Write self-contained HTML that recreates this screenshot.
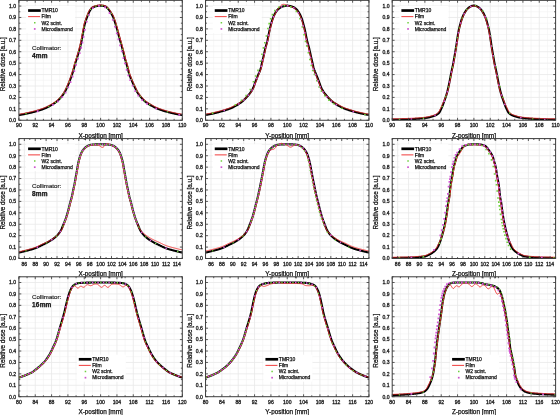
<!DOCTYPE html>
<html><head><meta charset="utf-8"><style>
html,body{margin:0;padding:0;background:#fff;}
body{width:560px;height:415px;overflow:hidden;}
svg{display:block;font-family:"Liberation Sans", sans-serif;filter:blur(0.3px);}
</style></head><body>
<svg width="560" height="415" viewBox="0 0 560 415">
<rect width="560" height="415" fill="#fff"/>
<defs><clipPath id="k00"><rect x="18.9" y="0.34" width="163.4" height="119.91"/></clipPath><clipPath id="k01"><rect x="205.55" y="0.34" width="163.4" height="119.91"/></clipPath><clipPath id="k02"><rect x="392.2" y="0.34" width="163.4" height="119.91"/></clipPath><clipPath id="k10"><rect x="18.9" y="138.59" width="163.4" height="119.91"/></clipPath><clipPath id="k11"><rect x="205.55" y="138.59" width="163.4" height="119.91"/></clipPath><clipPath id="k12"><rect x="392.2" y="138.59" width="163.4" height="119.91"/></clipPath><clipPath id="k20"><rect x="18.9" y="276.79" width="163.4" height="119.91"/></clipPath><clipPath id="k21"><rect x="205.55" y="276.79" width="163.4" height="119.91"/></clipPath><clipPath id="k22"><rect x="392.2" y="276.79" width="163.4" height="119.91"/></clipPath></defs>
<path d="M27.07 0.34V120.25M43.41 0.34V120.25M59.75 0.34V120.25M76.09 0.34V120.25M92.43 0.34V120.25M108.77 0.34V120.25M125.11 0.34V120.25M141.45 0.34V120.25M157.79 0.34V120.25M174.13 0.34V120.25M18.9 114.54H182.3M18.9 103.12H182.3M18.9 91.7H182.3M18.9 80.28H182.3M18.9 68.86H182.3M18.9 57.44H182.3M18.9 46.02H182.3M18.9 34.6H182.3M18.9 23.18H182.3M18.9 11.76H182.3" stroke="#f2f2f2" stroke-width="0.6" fill="none"/><path d="M35.24 0.34V120.25M51.58 0.34V120.25M67.92 0.34V120.25M84.26 0.34V120.25M100.6 0.34V120.25M116.94 0.34V120.25M133.28 0.34V120.25M149.62 0.34V120.25M165.96 0.34V120.25M18.9 108.83H182.3M18.9 97.41H182.3M18.9 85.99H182.3M18.9 74.57H182.3M18.9 63.15H182.3M18.9 51.73H182.3M18.9 40.31H182.3M18.9 28.89H182.3M18.9 17.47H182.3M18.9 6.05H182.3" stroke="#e8e8e8" stroke-width="0.8" fill="none"/>
<g clip-path="url(#k00)">
<polyline points="18.9,115 19.31,114.95 19.72,114.9 20.13,114.84 20.54,114.78 20.95,114.72 21.36,114.65 21.77,114.58 22.18,114.51 22.59,114.44 23,114.36 23.4,114.29 23.81,114.21 24.22,114.12 24.63,114.04 25.04,113.96 25.45,113.87 25.86,113.78 26.27,113.7 26.68,113.61 27.09,113.52 27.5,113.43 27.91,113.34 28.32,113.25 28.73,113.16 29.14,113.07 29.55,112.98 29.96,112.89 30.37,112.8 30.78,112.7 31.19,112.61 31.6,112.51 32,112.41 32.41,112.31 32.82,112.2 33.23,112.1 33.64,111.99 34.05,111.89 34.46,111.78 34.87,111.67 35.28,111.56 35.69,111.44 36.1,111.33 36.51,111.21 36.92,111.09 37.33,110.98 37.74,110.85 38.15,110.73 38.56,110.61 38.97,110.48 39.38,110.36 39.79,110.23 40.2,110.1 40.6,109.96 41.01,109.83 41.42,109.69 41.83,109.55 42.24,109.4 42.65,109.25 43.06,109.1 43.47,108.95 43.88,108.79 44.29,108.63 44.7,108.47 45.11,108.3 45.52,108.13 45.93,107.95 46.34,107.76 46.75,107.57 47.16,107.37 47.57,107.17 47.98,106.96 48.39,106.75 48.8,106.53 49.2,106.31 49.61,106.08 50.02,105.85 50.43,105.62 50.84,105.39 51.25,105.15 51.66,104.91 52.07,104.66 52.48,104.42 52.89,104.16 53.3,103.91 53.71,103.65 54.12,103.38 54.53,103.1 54.94,102.82 55.35,102.53 55.76,102.22 56.17,101.91 56.58,101.59 56.99,101.26 57.4,100.92 57.8,100.55 58.21,100.18 58.62,99.79 59.03,99.38 59.44,98.96 59.85,98.52 60.26,98.08 60.67,97.61 61.08,97.14 61.49,96.64 61.9,96.13 62.31,95.59 62.72,95.03 63.13,94.45 63.54,93.84 63.95,93.21 64.36,92.55 64.77,91.87 65.18,91.15 65.59,90.39 66,89.59 66.4,88.75 66.81,87.88 67.22,86.98 67.63,86.07 68.04,85.14 68.45,84.17 68.86,83.17 69.27,82.14 69.68,81.08 70.09,79.99 70.5,78.88 70.91,77.75 71.32,76.59 71.73,75.4 72.14,74.18 72.55,72.93 72.96,71.62 73.37,70.28 73.78,68.82 74.19,67.28 74.6,65.72 75,64.2 75.41,62.79 75.82,61.48 76.23,60.22 76.64,58.97 77.05,57.71 77.46,56.39 77.87,55.06 78.28,53.72 78.69,52.34 79.1,50.91 79.51,49.41 79.92,47.84 80.33,46.2 80.74,44.48 81.15,42.66 81.56,40.7 81.97,38.58 82.38,36.38 82.79,34.18 83.2,31.95 83.6,29.74 84.01,27.65 84.42,25.63 84.83,23.86 85.24,22.39 85.65,21.07 86.06,19.86 86.47,18.71 86.88,17.57 87.29,16.45 87.7,15.37 88.11,14.33 88.52,13.37 88.93,12.48 89.34,11.64 89.75,10.87 90.16,10.17 90.57,9.56 90.98,8.99 91.39,8.48 91.8,8.06 92.2,7.75 92.61,7.5 93.02,7.29 93.43,7.11 93.84,6.94 94.25,6.77 94.66,6.61 95.07,6.47 95.48,6.33 95.89,6.22 96.3,6.12 96.71,6.04 97.12,5.97 97.53,5.9 97.94,5.85 98.35,5.8 98.76,5.75 99.17,5.71 99.58,5.67 99.99,5.63 100.4,5.6 100.8,5.6 101.21,5.62 101.62,5.65 102.03,5.69 102.44,5.74 102.85,5.8 103.26,5.88 103.67,5.96 104.08,6.07 104.49,6.19 104.9,6.32 105.31,6.46 105.72,6.65 106.13,6.9 106.54,7.23 106.95,7.6 107.36,8.02 107.77,8.46 108.18,8.91 108.59,9.37 109,9.9 109.4,10.48 109.81,11.09 110.22,11.73 110.63,12.39 111.04,13.05 111.45,13.72 111.86,14.41 112.27,15.15 112.68,15.95 113.09,16.83 113.5,17.85 113.91,18.98 114.32,20.2 114.73,21.43 115.14,22.68 115.55,23.97 115.96,25.3 116.37,26.68 116.78,28.09 117.19,29.55 117.6,31.07 118,32.61 118.41,34.16 118.82,35.7 119.23,37.2 119.64,38.68 120.05,40.15 120.46,41.61 120.87,43.08 121.28,44.54 121.69,46.01 122.1,47.47 122.51,48.93 122.92,50.41 123.33,51.94 123.74,53.55 124.15,55.26 124.56,56.98 124.97,58.64 125.38,60.17 125.79,61.58 126.2,62.93 126.6,64.27 127.01,65.63 127.42,67.09 127.83,68.68 128.24,70.35 128.65,71.97 129.06,73.45 129.47,74.73 129.88,75.89 130.29,76.98 130.7,78.01 131.11,79 131.52,79.98 131.93,80.95 132.34,81.89 132.75,82.81 133.16,83.7 133.57,84.58 133.98,85.45 134.39,86.31 134.8,87.17 135.2,88.04 135.61,88.91 136.02,89.76 136.43,90.58 136.84,91.36 137.25,92.08 137.66,92.75 138.07,93.38 138.48,93.98 138.89,94.56 139.3,95.11 139.71,95.64 140.12,96.15 140.53,96.65 140.94,97.14 141.35,97.61 141.76,98.08 142.17,98.53 142.58,98.98 142.99,99.41 143.4,99.82 143.8,100.22 144.21,100.61 144.62,100.98 145.03,101.33 145.44,101.66 145.85,101.99 146.26,102.3 146.67,102.6 147.08,102.9 147.49,103.18 147.9,103.46 148.31,103.73 148.72,103.99 149.13,104.25 149.54,104.51 149.95,104.76 150.36,105 150.77,105.24 151.18,105.48 151.59,105.72 152,105.95 152.4,106.18 152.81,106.41 153.22,106.63 153.63,106.85 154.04,107.06 154.45,107.27 154.86,107.48 155.27,107.67 155.68,107.87 156.09,108.05 156.5,108.23 156.91,108.41 157.32,108.58 157.73,108.74 158.14,108.91 158.55,109.07 158.96,109.22 159.37,109.38 159.78,109.53 160.19,109.67 160.6,109.82 161,109.96 161.41,110.1 161.82,110.23 162.23,110.37 162.64,110.5 163.05,110.63 163.46,110.76 163.87,110.88 164.28,111.01 164.69,111.13 165.1,111.25 165.51,111.37 165.92,111.49 166.33,111.61 166.74,111.72 167.15,111.84 167.56,111.95 167.97,112.06 168.38,112.17 168.79,112.28 169.2,112.38 169.6,112.49 170.01,112.59 170.42,112.69 170.83,112.79 171.24,112.89 171.65,112.98 172.06,113.07 172.47,113.16 172.88,113.25 173.29,113.34 173.7,113.43 174.11,113.52 174.52,113.61 174.93,113.7 175.34,113.79 175.75,113.88 176.16,113.96 176.57,114.05 176.98,114.13 177.39,114.21 177.8,114.29 178.2,114.37 178.61,114.44 179.02,114.52 179.43,114.59 179.84,114.65 180.25,114.72 180.66,114.78 181.07,114.84 181.48,114.9 181.89,114.95 182.3,115" fill="none" stroke="#000" stroke-width="2.1" stroke-linejoin="round"/>
<polyline points="18.81,114.2 19.21,114.15 19.61,114.1 20.02,114.05 20.42,113.99 20.82,113.93 21.23,113.86 21.63,113.8 22.04,113.72 22.44,113.65 22.85,113.58 23.25,113.5 23.66,113.42 24.07,113.34 24.47,113.26 24.88,113.17 25.29,113.09 25.7,113 26.1,112.91 26.51,112.83 26.92,112.74 27.33,112.65 27.74,112.56 28.15,112.47 28.56,112.38 28.97,112.29 29.37,112.2 29.78,112.11 30.19,112.02 30.59,111.92 31,111.83 31.41,111.73 31.81,111.63 32.22,111.53 32.63,111.43 33.03,111.32 33.44,111.22 33.85,111.11 34.26,111 34.66,110.89 35.07,110.78 35.48,110.67 35.88,110.56 36.29,110.44 36.7,110.33 37.1,110.21 37.51,110.09 37.92,109.97 38.32,109.84 38.73,109.72 39.14,109.59 39.54,109.47 39.95,109.33 40.35,109.2 40.76,109.07 41.16,108.93 41.57,108.79 41.97,108.65 42.38,108.5 42.78,108.35 43.19,108.2 43.59,108.05 44,107.89 44.4,107.73 44.8,107.56 45.2,107.39 45.6,107.22 46,107.03 46.4,106.85 46.81,106.65 47.21,106.45 47.61,106.25 48.01,106.04 48.42,105.82 48.82,105.61 49.23,105.39 49.64,105.16 50.04,104.94 50.45,104.71 50.86,104.47 51.27,104.24 51.67,104 52.08,103.76 52.49,103.51 52.89,103.26 53.3,103.01 53.7,102.75 54.1,102.48 54.51,102.2 54.91,101.92 55.31,101.63 55.72,101.33 56.12,101.02 56.52,100.7 56.92,100.37 57.32,100.02 57.73,99.66 58.13,99.28 58.53,98.88 58.94,98.48 59.34,98.05 59.75,97.62 60.16,97.17 60.57,96.7 60.97,96.22 61.38,95.72 61.79,95.2 62.19,94.66 62.6,94.09 63.01,93.49 63.42,92.88 63.84,92.23 64.25,91.57 64.65,90.86 65.05,90.11 65.46,89.32 65.86,88.49 66.27,87.62 66.68,86.74 67.08,85.83 67.49,84.9 67.9,83.94 68.31,82.95 68.71,81.92 69.12,80.87 69.53,79.78 69.94,78.67 70.34,77.54 70.75,76.39 71.16,75.21 71.57,74 71.98,72.74 72.38,71.45 72.79,70.11 73.2,68.66 73.61,67.13 74.02,65.56 74.43,64.04 74.84,62.62 75.25,61.3 75.66,60.03 76.07,58.79 76.48,57.53 76.89,56.22 77.3,54.89 77.71,53.55 78.11,52.18 78.52,50.75 78.93,49.26 79.34,47.7 79.75,46.06 80.15,44.35 80.56,42.54 80.97,40.59 81.38,38.47 81.79,36.27 82.2,34.08 82.61,31.84 83.02,29.63 83.43,27.53 83.84,25.5 84.25,23.71 84.67,22.22 85.08,20.89 85.49,19.66 85.91,18.51 86.32,17.36 86.73,16.24 87.14,15.15 87.55,14.11 87.97,13.12 88.39,12.22 88.8,11.37 89.22,10.57 89.65,9.85 90.07,9.22 90.5,8.63 90.93,8.09 91.4,7.61 91.87,7.25 92.32,6.98 92.76,6.75 93.2,6.56 93.62,6.38 94.03,6.22 94.45,6.05 94.88,5.9 95.31,5.76 95.74,5.63 96.17,5.54 96.6,5.45 97.02,5.38 97.44,5.31 97.86,5.25 98.28,5.2 98.69,5.15 99.11,5.11 99.52,5.07 99.94,5.03 100.37,5.01 100.82,5 101.25,5.02 101.68,5.06 102.1,5.1 102.52,5.15 102.95,5.21 103.38,5.29 103.81,5.38 104.24,5.49 104.67,5.61 105.09,5.75 105.53,5.91 106,6.12 106.48,6.41 106.93,6.77 107.36,7.17 107.79,7.6 108.21,8.05 108.62,8.51 109.05,8.99 109.48,9.54 109.9,10.14 110.32,10.76 110.73,11.41 111.14,12.07 111.55,12.73 111.97,13.41 112.38,14.11 112.8,14.87 113.22,15.69 113.64,16.59 114.06,17.63 114.48,18.79 114.89,20.01 115.3,21.24 115.71,22.49 116.12,23.79 116.53,25.13 116.94,26.51 117.35,27.92 117.76,29.4 118.17,30.91 118.58,32.46 118.99,34.01 119.4,35.54 119.81,37.04 120.22,38.52 120.63,39.99 121.04,41.45 121.45,42.91 121.86,44.38 122.27,45.85 122.68,47.31 123.09,48.77 123.5,50.25 123.91,51.78 124.32,53.41 124.73,55.12 125.14,56.84 125.55,58.49 125.95,60.01 126.36,61.41 126.77,62.76 127.18,64.09 127.59,65.47 128,66.93 128.42,68.53 128.83,70.2 129.23,71.82 129.64,73.28 130.04,74.53 130.44,75.68 130.85,76.76 131.26,77.78 131.66,78.77 132.07,79.74 132.48,80.71 132.89,81.65 133.29,82.56 133.7,83.45 134.11,84.33 134.52,85.19 134.93,86.05 135.34,86.91 135.75,87.79 136.16,88.65 136.56,89.5 136.97,90.31 137.37,91.08 137.77,91.78 138.18,92.42 138.59,93.03 139,93.62 139.41,94.18 139.82,94.72 140.22,95.24 140.63,95.74 141.04,96.23 141.45,96.7 141.86,97.17 142.27,97.62 142.68,98.07 143.09,98.5 143.49,98.92 143.9,99.32 144.3,99.71 144.7,100.08 145.1,100.43 145.5,100.77 145.9,101.09 146.31,101.4 146.71,101.71 147.11,102 147.51,102.28 147.92,102.56 148.32,102.83 148.73,103.09 149.13,103.35 149.54,103.6 149.94,103.85 150.35,104.09 150.76,104.33 151.16,104.57 151.57,104.8 151.98,105.04 152.39,105.27 152.79,105.49 153.2,105.71 153.6,105.93 154.01,106.14 154.41,106.35 154.81,106.56 155.21,106.76 155.62,106.95 156.02,107.14 156.42,107.32 156.82,107.5 157.22,107.67 157.62,107.84 158.03,108 158.43,108.16 158.84,108.32 159.24,108.47 159.64,108.62 160.05,108.77 160.45,108.92 160.86,109.06 161.26,109.2 161.67,109.34 162.07,109.47 162.48,109.61 162.89,109.74 163.29,109.87 163.7,109.99 164.11,110.12 164.51,110.24 164.92,110.36 165.33,110.49 165.73,110.6 166.14,110.72 166.55,110.84 166.95,110.95 167.36,111.07 167.77,111.18 168.17,111.29 168.58,111.4 168.99,111.5 169.39,111.61 169.8,111.71 170.21,111.81 170.61,111.91 171.02,112.01 171.43,112.11 171.83,112.2 172.24,112.29 172.64,112.38 173.05,112.47 173.46,112.56 173.87,112.65 174.28,112.74 174.69,112.83 175.1,112.92 175.5,113.01 175.91,113.09 176.32,113.18 176.73,113.26 177.13,113.34 177.54,113.43 177.95,113.5 178.35,113.58 178.76,113.66 179.16,113.73 179.57,113.8 179.97,113.86 180.38,113.93 180.78,113.99 181.18,114.05 181.59,114.1 181.99,114.15 182.39,114.2" fill="none" stroke="#ee2a2a" stroke-width="0.9" stroke-linejoin="round"/>
<path d="M25.34 113.11h1.3v1.3h-1.3zM48.14 105.88h1.3v1.3h-1.3zM54.93 101.71h1.3v1.3h-1.3zM59.57 97.47h1.3v1.3h-1.3zM63.37 92.45h1.3v1.3h-1.3zM66.32 86.89h1.3v1.3h-1.3zM68.78 81.09h1.3v1.3h-1.3zM70.94 75.17h1.3v1.3h-1.3zM72.85 69.17h1.3v1.3h-1.3zM74.49 63.09h1.3v1.3h-1.3zM76.39 57.08h1.3v1.3h-1.3zM78.23 51.06h1.3v1.3h-1.3zM79.82 44.96h1.3v1.3h-1.3zM81.15 38.81h1.3v1.3h-1.3zM82.31 32.61h1.3v1.3h-1.3zM83.48 26.42h1.3v1.3h-1.3zM85.04 20.32h1.3v1.3h-1.3zM87.17 14.4h1.3v1.3h-1.3zM90 8.79h1.3v1.3h-1.3zM95.23 5.57h1.3v1.3h-1.3zM101.48 5.05h1.3v1.3h-1.3zM107 7.68h1.3v1.3h-1.3zM110.64 12.8h1.3v1.3h-1.3zM113.31 18.49h1.3v1.3h-1.3zM115.26 24.48h1.3v1.3h-1.3zM116.98 30.54h1.3v1.3h-1.3zM118.6 36.63h1.3v1.3h-1.3zM120.3 42.7h1.3v1.3h-1.3zM121.99 48.76h1.3v1.3h-1.3zM123.56 54.87h1.3v1.3h-1.3zM125.15 60.96h1.3v1.3h-1.3zM126.92 67.01h1.3v1.3h-1.3zM128.5 73.1h1.3v1.3h-1.3zM130.73 78.99h1.3v1.3h-1.3zM133.3 84.75h1.3v1.3h-1.3zM136.04 90.42h1.3v1.3h-1.3zM139.57 95.63h1.3v1.3h-1.3zM143.86 100.23h1.3v1.3h-1.3zM148.97 103.9h1.3v1.3h-1.3zM166.89 111.3h1.3v1.3h-1.3z" fill="#6fd13a"/>
<path d="M36.74 110.34h1.8v1.8h-1.8zM52.07 103.96h1.8v1.8h-1.8zM57.11 100.52h1.8v1.8h-1.8zM61.33 96.32h1.8v1.8h-1.8zM64.69 91.64h1.8v1.8h-1.8zM67.35 86.53h1.8v1.8h-1.8zM69.63 81.15h1.8v1.8h-1.8zM71.68 75.6h1.8v1.8h-1.8zM73.42 70.29h1.8v1.8h-1.8zM75.17 63.9h1.8v1.8h-1.8zM77.08 57.75h1.8v1.8h-1.8zM78.81 52.15h1.8v1.8h-1.8zM80.27 46.83h1.8v1.8h-1.8zM81.48 41.73h1.8v1.8h-1.8zM82.62 35.89h1.8v1.8h-1.8zM83.9 29.01h1.8v1.8h-1.8zM85.83 20.65h1.8v1.8h-1.8zM88.18 14.07h1.8v1.8h-1.8zM92.04 7.24h1.8v1.8h-1.8zM98.09 4.97h1.8v1.8h-1.8zM104.29 6.36h1.8v1.8h-1.8zM108.71 12.08h1.8v1.8h-1.8zM111.91 18.92h1.8v1.8h-1.8zM114.06 25.71h1.8v1.8h-1.8zM115.9 32.39h1.8v1.8h-1.8zM117.53 38.43h1.8v1.8h-1.8zM119.2 44.38h1.8v1.8h-1.8zM120.89 50.48h1.8v1.8h-1.8zM122.56 57.29h1.8v1.8h-1.8zM124.05 62.5h1.8v1.8h-1.8zM125.81 68.88h1.8v1.8h-1.8zM127.43 74.55h1.8v1.8h-1.8zM129.29 79.23h1.8v1.8h-1.8zM131.73 84.63h1.8v1.8h-1.8zM134.4 90.17h1.8v1.8h-1.8zM137.43 94.75h1.8v1.8h-1.8zM141.38 99.19h1.8v1.8h-1.8zM146.08 102.87h1.8v1.8h-1.8zM155.29 107.78h1.8v1.8h-1.8zM178.35 113.88h1.8v1.8h-1.8z" fill="#d455d4"/>
</g>
<path d="M18.9 120.25v-2.4M18.9 0.34v2.4M27.07 120.25v-1.4M27.07 0.34v1.4M35.24 120.25v-2.4M35.24 0.34v2.4M43.41 120.25v-1.4M43.41 0.34v1.4M51.58 120.25v-2.4M51.58 0.34v2.4M59.75 120.25v-1.4M59.75 0.34v1.4M67.92 120.25v-2.4M67.92 0.34v2.4M76.09 120.25v-1.4M76.09 0.34v1.4M84.26 120.25v-2.4M84.26 0.34v2.4M92.43 120.25v-1.4M92.43 0.34v1.4M100.6 120.25v-2.4M100.6 0.34v2.4M108.77 120.25v-1.4M108.77 0.34v1.4M116.94 120.25v-2.4M116.94 0.34v2.4M125.11 120.25v-1.4M125.11 0.34v1.4M133.28 120.25v-2.4M133.28 0.34v2.4M141.45 120.25v-1.4M141.45 0.34v1.4M149.62 120.25v-2.4M149.62 0.34v2.4M157.79 120.25v-1.4M157.79 0.34v1.4M165.96 120.25v-2.4M165.96 0.34v2.4M174.13 120.25v-1.4M174.13 0.34v1.4M182.3 120.25v-2.4M182.3 0.34v2.4M18.9 120.25h2.4M182.3 120.25h-2.4M18.9 114.54h1.4M182.3 114.54h-1.4M18.9 108.83h2.4M182.3 108.83h-2.4M18.9 103.12h1.4M182.3 103.12h-1.4M18.9 97.41h2.4M182.3 97.41h-2.4M18.9 91.7h1.4M182.3 91.7h-1.4M18.9 85.99h2.4M182.3 85.99h-2.4M18.9 80.28h1.4M182.3 80.28h-1.4M18.9 74.57h2.4M182.3 74.57h-2.4M18.9 68.86h1.4M182.3 68.86h-1.4M18.9 63.15h2.4M182.3 63.15h-2.4M18.9 57.44h1.4M182.3 57.44h-1.4M18.9 51.73h2.4M182.3 51.73h-2.4M18.9 46.02h1.4M182.3 46.02h-1.4M18.9 40.31h2.4M182.3 40.31h-2.4M18.9 34.6h1.4M182.3 34.6h-1.4M18.9 28.89h2.4M182.3 28.89h-2.4M18.9 23.18h1.4M182.3 23.18h-1.4M18.9 17.47h2.4M182.3 17.47h-2.4M18.9 11.76h1.4M182.3 11.76h-1.4M18.9 6.05h2.4M182.3 6.05h-2.4M18.9 0.34h1.4M182.3 0.34h-1.4" stroke="#3c3c3c" stroke-width="0.85" fill="none"/>
<rect x="18.9" y="0.34" width="163.4" height="119.91" fill="none" stroke="#3c3c3c" stroke-width="1"/>
<g font-size="5.1" text-anchor="middle" fill="#1a1a1a" stroke="#1a1a1a" stroke-width="0.3"><text x="18.9" y="127.35">90</text><text x="35.24" y="127.35">92</text><text x="51.58" y="127.35">94</text><text x="67.92" y="127.35">96</text><text x="84.26" y="127.35">98</text><text x="100.6" y="127.35">100</text><text x="116.94" y="127.35">102</text><text x="133.28" y="127.35">104</text><text x="149.62" y="127.35">106</text><text x="165.96" y="127.35">108</text><text x="182.3" y="127.35">110</text></g>
<g font-size="5.1" text-anchor="end" fill="#1a1a1a" stroke="#1a1a1a" stroke-width="0.3"><text x="16.2" y="122.05">0.0</text><text x="16.2" y="110.63">0.1</text><text x="16.2" y="99.21">0.2</text><text x="16.2" y="87.79">0.3</text><text x="16.2" y="76.37">0.4</text><text x="16.2" y="64.95">0.5</text><text x="16.2" y="53.53">0.6</text><text x="16.2" y="42.11">0.7</text><text x="16.2" y="30.69">0.8</text><text x="16.2" y="19.27">0.9</text><text x="16.2" y="7.85">1.0</text></g>
<text x="100.6" y="137.65" font-size="6.4" text-anchor="middle" fill="#111" stroke="#111" stroke-width="0.25">X-position [mm]</text>
<text transform="translate(4.9 64.25) rotate(-90)" font-size="6.3" text-anchor="middle" fill="#111" stroke="#111" stroke-width="0.25">Relative dose [a.u.]</text>
<g font-size="5" fill="#111" stroke-width="0.25"><rect x="26.1" y="5.94" width="49" height="27" fill="#fff"/><path d="M28.1 10.54h12.7" stroke="#000" stroke-width="2.7"/><path d="M28.1 16.64h12" stroke="#f03c3c" stroke-width="1"/><rect x="34" y="21.99" width="1.5" height="1.5" fill="#6fcf3f"/><rect x="33.9" y="28.09" width="1.7" height="1.7" fill="#cc55cc"/><text x="41.5" y="12.34" stroke="#111">TMR10</text><text x="41.5" y="18.47" stroke="#111">Film</text><text x="41.5" y="24.6" stroke="#111">W2 scint.</text><text x="41.5" y="30.73" stroke="#111">Microdiamond</text></g>
<text x="32" y="49.84" font-size="6.1" fill="#222" stroke="#222" stroke-width="0.18">Collimator:</text>
<text x="32" y="57.94" font-size="6.5" font-weight="bold" fill="#111" stroke="#111" stroke-width="0.25" letter-spacing="0.2">4mm</text>
<path d="M213.72 0.34V120.25M230.06 0.34V120.25M246.4 0.34V120.25M262.74 0.34V120.25M279.08 0.34V120.25M295.42 0.34V120.25M311.76 0.34V120.25M328.1 0.34V120.25M344.44 0.34V120.25M360.78 0.34V120.25M205.55 114.54H368.95M205.55 103.12H368.95M205.55 91.7H368.95M205.55 80.28H368.95M205.55 68.86H368.95M205.55 57.44H368.95M205.55 46.02H368.95M205.55 34.6H368.95M205.55 23.18H368.95M205.55 11.76H368.95" stroke="#f2f2f2" stroke-width="0.6" fill="none"/><path d="M221.89 0.34V120.25M238.23 0.34V120.25M254.57 0.34V120.25M270.91 0.34V120.25M287.25 0.34V120.25M303.59 0.34V120.25M319.93 0.34V120.25M336.27 0.34V120.25M352.61 0.34V120.25M205.55 108.83H368.95M205.55 97.41H368.95M205.55 85.99H368.95M205.55 74.57H368.95M205.55 63.15H368.95M205.55 51.73H368.95M205.55 40.31H368.95M205.55 28.89H368.95M205.55 17.47H368.95M205.55 6.05H368.95" stroke="#e8e8e8" stroke-width="0.8" fill="none"/>
<g clip-path="url(#k01)">
<polyline points="205.55,114.88 205.96,114.83 206.37,114.78 206.78,114.72 207.19,114.66 207.6,114.6 208.01,114.53 208.42,114.46 208.83,114.38 209.24,114.3 209.65,114.23 210.05,114.14 210.46,114.06 210.87,113.97 211.28,113.89 211.69,113.8 212.1,113.71 212.51,113.62 212.92,113.53 213.33,113.44 213.74,113.35 214.15,113.26 214.56,113.16 214.97,113.07 215.38,112.98 215.79,112.88 216.2,112.78 216.61,112.68 217.02,112.58 217.43,112.48 217.84,112.37 218.25,112.27 218.65,112.16 219.06,112.05 219.47,111.94 219.88,111.83 220.29,111.71 220.7,111.6 221.11,111.48 221.52,111.36 221.93,111.24 222.34,111.12 222.75,111 223.16,110.88 223.57,110.76 223.98,110.63 224.39,110.51 224.8,110.39 225.21,110.26 225.62,110.13 226.03,110 226.44,109.87 226.85,109.74 227.25,109.6 227.66,109.46 228.07,109.32 228.48,109.18 228.89,109.03 229.3,108.88 229.71,108.72 230.12,108.57 230.53,108.4 230.94,108.23 231.35,108.06 231.76,107.87 232.17,107.68 232.58,107.49 232.99,107.28 233.4,107.07 233.81,106.86 234.22,106.64 234.63,106.42 235.04,106.19 235.45,105.96 235.85,105.72 236.26,105.48 236.67,105.24 237.08,105 237.49,104.75 237.9,104.5 238.31,104.25 238.72,103.99 239.13,103.72 239.54,103.45 239.95,103.17 240.36,102.89 240.77,102.59 241.18,102.29 241.59,101.98 242,101.66 242.41,101.33 242.82,100.99 243.23,100.62 243.64,100.24 244.05,99.85 244.45,99.45 244.86,99.03 245.27,98.6 245.68,98.17 246.09,97.73 246.5,97.29 246.91,96.84 247.32,96.39 247.73,95.94 248.14,95.48 248.55,95 248.96,94.51 249.37,94.01 249.78,93.48 250.19,92.92 250.6,92.33 251.01,91.72 251.42,91.07 251.83,90.39 252.24,89.66 252.65,88.9 253.05,88.08 253.46,87.21 253.87,86.21 254.28,85.09 254.69,83.93 255.1,82.76 255.51,81.65 255.92,80.59 256.33,79.53 256.74,78.49 257.15,77.45 257.56,76.42 257.97,75.39 258.38,74.41 258.79,73.47 259.2,72.52 259.61,71.54 260.02,70.48 260.43,69.31 260.84,67.95 261.25,66.35 261.65,64.61 262.06,62.81 262.47,61.06 262.88,59.28 263.29,57.46 263.7,55.64 264.11,53.82 264.52,51.97 264.93,50.13 265.34,48.35 265.75,46.68 266.16,45.18 266.57,43.75 266.98,42.28 267.39,40.69 267.8,38.88 268.21,36.9 268.62,34.83 269.03,32.77 269.44,30.8 269.85,29 270.25,27.3 270.66,25.69 271.07,24.16 271.48,22.7 271.89,21.27 272.3,19.93 272.71,18.69 273.12,17.61 273.53,16.6 273.94,15.64 274.35,14.76 274.76,13.94 275.17,13.19 275.58,12.53 275.99,11.91 276.4,11.31 276.81,10.75 277.22,10.23 277.63,9.75 278.04,9.32 278.45,8.93 278.85,8.6 279.26,8.29 279.67,8 280.08,7.73 280.49,7.48 280.9,7.25 281.31,7.05 281.72,6.86 282.13,6.7 282.54,6.56 282.95,6.43 283.36,6.31 283.77,6.2 284.18,6.11 284.59,6.02 285,5.93 285.41,5.86 285.82,5.79 286.23,5.72 286.64,5.67 287.05,5.62 287.45,5.62 287.86,5.67 288.27,5.72 288.68,5.79 289.09,5.86 289.5,5.93 289.91,6.02 290.32,6.11 290.73,6.2 291.14,6.31 291.55,6.43 291.96,6.56 292.37,6.7 292.78,6.86 293.19,7.05 293.6,7.25 294.01,7.48 294.42,7.73 294.83,8 295.24,8.29 295.65,8.6 296.05,8.93 296.46,9.32 296.87,9.75 297.28,10.23 297.69,10.75 298.1,11.31 298.51,11.91 298.92,12.53 299.33,13.19 299.74,13.94 300.15,14.76 300.56,15.64 300.97,16.6 301.38,17.61 301.79,18.69 302.2,19.93 302.61,21.27 303.02,22.7 303.43,24.16 303.84,25.69 304.25,27.3 304.65,29 305.06,30.8 305.47,32.77 305.88,34.83 306.29,36.9 306.7,38.88 307.11,40.69 307.52,42.28 307.93,43.75 308.34,45.18 308.75,46.68 309.16,48.35 309.57,50.13 309.98,51.97 310.39,53.82 310.8,55.64 311.21,57.46 311.62,59.28 312.03,61.06 312.44,62.81 312.85,64.61 313.25,66.35 313.66,67.95 314.07,69.31 314.48,70.48 314.89,71.54 315.3,72.52 315.71,73.47 316.12,74.41 316.53,75.39 316.94,76.42 317.35,77.45 317.76,78.49 318.17,79.53 318.58,80.59 318.99,81.65 319.4,82.76 319.81,83.93 320.22,85.09 320.63,86.21 321.04,87.21 321.45,88.08 321.85,88.9 322.26,89.66 322.67,90.39 323.08,91.07 323.49,91.72 323.9,92.33 324.31,92.92 324.72,93.48 325.13,94.01 325.54,94.51 325.95,95 326.36,95.48 326.77,95.94 327.18,96.39 327.59,96.84 328,97.29 328.41,97.73 328.82,98.17 329.23,98.6 329.64,99.03 330.05,99.45 330.45,99.85 330.86,100.24 331.27,100.62 331.68,100.99 332.09,101.33 332.5,101.66 332.91,101.98 333.32,102.29 333.73,102.59 334.14,102.89 334.55,103.17 334.96,103.45 335.37,103.72 335.78,103.99 336.19,104.25 336.6,104.5 337.01,104.75 337.42,105 337.83,105.24 338.24,105.48 338.65,105.72 339.05,105.96 339.46,106.19 339.87,106.42 340.28,106.64 340.69,106.86 341.1,107.07 341.51,107.28 341.92,107.49 342.33,107.68 342.74,107.87 343.15,108.06 343.56,108.23 343.97,108.4 344.38,108.57 344.79,108.72 345.2,108.88 345.61,109.03 346.02,109.18 346.43,109.32 346.84,109.46 347.25,109.6 347.65,109.74 348.06,109.87 348.47,110 348.88,110.13 349.29,110.26 349.7,110.39 350.11,110.51 350.52,110.63 350.93,110.76 351.34,110.88 351.75,111 352.16,111.12 352.57,111.24 352.98,111.36 353.39,111.48 353.8,111.6 354.21,111.71 354.62,111.83 355.03,111.94 355.44,112.05 355.85,112.16 356.25,112.27 356.66,112.37 357.07,112.48 357.48,112.58 357.89,112.68 358.3,112.78 358.71,112.88 359.12,112.98 359.53,113.07 359.94,113.16 360.35,113.26 360.76,113.35 361.17,113.44 361.58,113.53 361.99,113.62 362.4,113.71 362.81,113.8 363.22,113.89 363.63,113.97 364.04,114.06 364.45,114.14 364.85,114.23 365.26,114.3 365.67,114.38 366.08,114.46 366.49,114.53 366.9,114.6 367.31,114.66 367.72,114.72 368.13,114.78 368.54,114.83 368.95,114.88" fill="none" stroke="#000" stroke-width="2.1" stroke-linejoin="round"/>
<polyline points="205.45,114.09 205.86,114.04 206.26,113.99 206.66,113.93 207.07,113.87 207.47,113.81 207.87,113.74 208.28,113.67 208.68,113.59 209.09,113.52 209.49,113.44 209.9,113.36 210.3,113.28 210.71,113.19 211.12,113.11 211.52,113.02 211.93,112.93 212.34,112.84 212.75,112.75 213.16,112.66 213.57,112.57 213.98,112.48 214.38,112.38 214.79,112.29 215.2,112.2 215.6,112.1 216.01,112.01 216.42,111.91 216.82,111.81 217.23,111.7 217.64,111.6 218.04,111.49 218.45,111.39 218.86,111.28 219.26,111.17 219.67,111.05 220.08,110.94 220.48,110.83 220.89,110.71 221.3,110.59 221.71,110.48 222.11,110.36 222.52,110.24 222.93,110.11 223.34,109.99 223.75,109.87 224.16,109.74 224.56,109.62 224.97,109.49 225.38,109.37 225.78,109.24 226.19,109.11 226.6,108.98 227,108.84 227.41,108.71 227.81,108.57 228.21,108.43 228.62,108.28 229.02,108.13 229.42,107.98 229.83,107.82 230.23,107.66 230.63,107.49 231.03,107.32 231.43,107.15 231.83,106.96 232.23,106.77 232.63,106.57 233.03,106.36 233.43,106.15 233.84,105.94 234.24,105.73 234.66,105.52 235.07,105.3 235.49,105.09 235.9,104.87 236.32,104.65 236.74,104.42 237.15,104.19 237.57,103.96 237.98,103.73 238.4,103.49 238.82,103.25 239.23,102.99 239.65,102.74 240.07,102.48 240.49,102.2 240.91,101.93 241.33,101.64 241.75,101.34 242.17,101.04 242.59,100.72 243.01,100.38 243.44,100.03 243.86,99.67 244.29,99.29 244.73,98.9 245.16,98.49 245.59,98.09 246.03,97.67 246.46,97.25 246.9,96.83 247.34,96.41 247.77,95.98 248.21,95.54 248.65,95.09 249.09,94.62 249.54,94.14 249.98,93.63 250.43,93.09 250.89,92.53 251.34,91.93 251.76,91.28 252.17,90.59 252.59,89.86 253,89.08 253.41,88.26 253.83,87.37 254.25,86.35 254.66,85.23 255.07,84.06 255.48,82.9 255.89,81.79 256.29,80.73 256.7,79.68 257.11,78.64 257.52,77.6 257.93,76.56 258.34,75.54 258.75,74.56 259.15,73.63 259.57,72.68 259.98,71.69 260.39,70.62 260.81,69.43 261.22,68.05 261.63,66.44 262.04,64.7 262.45,62.9 262.86,61.15 263.27,59.37 263.68,57.55 264.09,55.72 264.5,53.91 264.91,52.06 265.32,50.22 265.73,48.44 266.14,46.79 266.54,45.29 266.95,43.85 267.36,42.39 267.78,40.78 268.19,38.97 268.6,36.98 269.01,34.91 269.42,32.85 269.83,30.89 270.23,29.09 270.64,27.4 271.05,25.79 271.46,24.26 271.87,22.8 272.28,21.38 272.68,20.03 273.09,18.81 273.49,17.72 273.9,16.71 274.31,15.74 274.71,14.84 275.11,14 275.51,13.22 275.92,12.51 276.32,11.82 276.72,11.14 277.13,10.49 277.53,9.85 277.92,9.23 278.32,8.64 278.71,8.09 279.1,7.58 279.5,7.08 279.9,6.6 280.3,6.14 280.69,5.73 281.09,5.35 281.48,5.03 281.88,4.77 282.27,4.57 282.67,4.43 283.06,4.35 283.47,4.32 283.87,4.33 284.27,4.39 284.67,4.47 285.07,4.58 285.48,4.71 285.88,4.84 286.29,4.97 286.69,5.09 287.07,5.22 287.43,5.37 287.81,5.54 288.21,5.71 288.62,5.87 289.02,6.01 289.43,6.15 289.83,6.28 290.23,6.4 290.63,6.53 291.03,6.65 291.44,6.78 291.83,6.92 292.23,7.06 292.62,7.22 293.02,7.4 293.41,7.6 293.81,7.83 294.2,8.07 294.6,8.33 295,8.61 295.4,8.91 295.79,9.23 296.18,9.6 296.58,10.02 296.97,10.49 297.37,11 297.78,11.55 298.18,12.13 298.58,12.74 298.99,13.39 299.39,14.12 299.79,14.93 300.19,15.81 300.6,16.75 301.01,17.75 301.41,18.83 301.82,20.05 302.22,21.39 302.63,22.81 303.04,24.26 303.45,25.79 303.86,27.4 304.27,29.09 304.67,30.89 305.08,32.85 305.49,34.91 305.9,36.98 306.31,38.97 306.72,40.78 307.14,42.39 307.55,43.85 307.96,45.29 308.36,46.79 308.77,48.44 309.18,50.22 309.59,52.06 310,53.91 310.41,55.72 310.82,57.55 311.23,59.37 311.64,61.15 312.05,62.9 312.46,64.7 312.87,66.44 313.28,68.05 313.69,69.43 314.11,70.62 314.52,71.69 314.93,72.68 315.35,73.63 315.75,74.56 316.16,75.54 316.57,76.56 316.98,77.6 317.39,78.64 317.8,79.68 318.21,80.73 318.61,81.79 319.02,82.9 319.43,84.06 319.84,85.23 320.25,86.35 320.67,87.37 321.09,88.26 321.5,89.08 321.91,89.86 322.33,90.59 322.74,91.28 323.16,91.93 323.61,92.53 324.07,93.09 324.52,93.63 324.96,94.14 325.41,94.62 325.85,95.09 326.29,95.54 326.73,95.98 327.16,96.41 327.6,96.83 328.04,97.25 328.47,97.67 328.91,98.09 329.34,98.49 329.77,98.9 330.21,99.29 330.64,99.67 331.06,100.03 331.49,100.38 331.91,100.72 332.33,101.04 332.75,101.34 333.17,101.64 333.59,101.93 334.01,102.2 334.43,102.48 334.85,102.74 335.27,102.99 335.68,103.25 336.1,103.49 336.52,103.73 336.93,103.96 337.35,104.19 337.76,104.42 338.18,104.65 338.6,104.87 339.01,105.09 339.43,105.3 339.84,105.52 340.26,105.73 340.66,105.94 341.07,106.15 341.47,106.36 341.87,106.57 342.27,106.77 342.67,106.96 343.07,107.15 343.47,107.32 343.87,107.49 344.27,107.66 344.67,107.82 345.08,107.98 345.48,108.13 345.88,108.28 346.29,108.43 346.69,108.57 347.09,108.71 347.5,108.84 347.9,108.98 348.31,109.11 348.72,109.24 349.12,109.37 349.53,109.49 349.94,109.62 350.34,109.74 350.75,109.87 351.16,109.99 351.57,110.11 351.98,110.24 352.39,110.36 352.79,110.48 353.2,110.59 353.61,110.71 354.02,110.83 354.42,110.94 354.83,111.05 355.24,111.17 355.64,111.28 356.05,111.39 356.46,111.49 356.86,111.6 357.27,111.7 357.68,111.81 358.08,111.91 358.49,112.01 358.9,112.1 359.3,112.2 359.71,112.29 360.12,112.38 360.52,112.48 360.93,112.57 361.34,112.66 361.75,112.75 362.16,112.84 362.57,112.93 362.98,113.02 363.38,113.11 363.79,113.19 364.2,113.28 364.6,113.36 365.01,113.44 365.41,113.52 365.82,113.59 366.22,113.67 366.63,113.74 367.03,113.81 367.43,113.87 367.84,113.93 368.24,113.99 368.64,114.04 369.05,114.09" fill="none" stroke="#ee2a2a" stroke-width="0.9" stroke-linejoin="round"/>
<path d="M211.83 112.34h1.6v1.6h-1.6zM234.52 104.04h1.6v1.6h-1.6zM240.67 99.56h1.6v1.6h-1.6zM245.32 94.65h1.6v1.6h-1.6zM249.46 88.75h1.6v1.6h-1.6zM252.63 80.94h1.6v1.6h-1.6zM254.86 75.26h1.6v1.6h-1.6zM257.2 69.62h1.6v1.6h-1.6zM259.6 60.4h1.6v1.6h-1.6zM261.18 53.43h1.6v1.6h-1.6zM262.61 47.09h1.6v1.6h-1.6zM264 41.97h1.6v1.6h-1.6zM265.55 35.15h1.6v1.6h-1.6zM267.12 27.7h1.6v1.6h-1.6zM268.38 22.83h1.6v1.6h-1.6zM269.84 17.98h1.6v1.6h-1.6zM271.6 13.78h1.6v1.6h-1.6zM274.06 9.82h1.6v1.6h-1.6zM277.94 6.52h1.6v1.6h-1.6zM283.69 4.88h1.6v1.6h-1.6zM290 5.98h1.6v1.6h-1.6zM295.57 10.6h1.6v1.6h-1.6zM299.2 17.93h1.6v1.6h-1.6zM301.55 26.1h1.6v1.6h-1.6zM303.26 33.91h1.6v1.6h-1.6zM304.68 40.56h1.6v1.6h-1.6zM305.95 45.11h1.6v1.6h-1.6zM307.57 52.02h1.6v1.6h-1.6zM309.07 58.71h1.6v1.6h-1.6zM310.47 64.76h1.6v1.6h-1.6zM311.9 69.72h1.6v1.6h-1.6zM313.56 73.7h1.6v1.6h-1.6zM316 79.84h1.6v1.6h-1.6zM318.33 86.16h1.6v1.6h-1.6zM320.61 90.47h1.6v1.6h-1.6zM323.92 94.85h1.6v1.6h-1.6zM328.13 99.31h1.6v1.6h-1.6zM332.88 102.99h1.6v1.6h-1.6zM341.17 107.52h1.6v1.6h-1.6zM364.15 113.77h1.6v1.6h-1.6z" fill="#6fd13a"/>
<path d="M223.49 109.81h1.5v1.5h-1.5zM238.09 103.16h1.5v1.5h-1.5zM243.15 99.25h1.5v1.5h-1.5zM247.52 94.58h1.5v1.5h-1.5zM251.23 89.37h1.5v1.5h-1.5zM253.82 83.53h1.5v1.5h-1.5zM256.07 77.54h1.5v1.5h-1.5zM258.51 71.63h1.5v1.5h-1.5zM260.51 65.56h1.5v1.5h-1.5zM261.95 59.32h1.5v1.5h-1.5zM263.36 53.08h1.5v1.5h-1.5zM264.77 46.84h1.5v1.5h-1.5zM266.46 40.66h1.5v1.5h-1.5zM267.8 34.41h1.5v1.5h-1.5zM269.12 28.15h1.5v1.5h-1.5zM270.73 21.95h1.5v1.5h-1.5zM272.76 15.89h1.5v1.5h-1.5zM275.84 10.3h1.5v1.5h-1.5zM280.69 6.24h1.5v1.5h-1.5zM286.9 4.98h1.5v1.5h-1.5zM293.03 6.99h1.5v1.5h-1.5zM297.63 11.95h1.5v1.5h-1.5zM300.54 18.4h1.5v1.5h-1.5zM302.49 25.15h1.5v1.5h-1.5zM304.06 31.99h1.5v1.5h-1.5zM305.35 38.38h1.5v1.5h-1.5zM306.75 43.76h1.5v1.5h-1.5zM308.42 50.5h1.5v1.5h-1.5zM309.82 56.77h1.5v1.5h-1.5zM311.23 62.93h1.5v1.5h-1.5zM312.69 68.61h1.5v1.5h-1.5zM314.81 73.87h1.5v1.5h-1.5zM317.23 79.97h1.5v1.5h-1.5zM319.45 86.03h1.5v1.5h-1.5zM322.18 91.11h1.5v1.5h-1.5zM326.01 95.9h1.5v1.5h-1.5zM330.44 100.38h1.5v1.5h-1.5zM335.59 103.99h1.5v1.5h-1.5zM352.54 110.89h1.5v1.5h-1.5z" fill="#d455d4"/>
</g>
<path d="M205.55 120.25v-2.4M205.55 0.34v2.4M213.72 120.25v-1.4M213.72 0.34v1.4M221.89 120.25v-2.4M221.89 0.34v2.4M230.06 120.25v-1.4M230.06 0.34v1.4M238.23 120.25v-2.4M238.23 0.34v2.4M246.4 120.25v-1.4M246.4 0.34v1.4M254.57 120.25v-2.4M254.57 0.34v2.4M262.74 120.25v-1.4M262.74 0.34v1.4M270.91 120.25v-2.4M270.91 0.34v2.4M279.08 120.25v-1.4M279.08 0.34v1.4M287.25 120.25v-2.4M287.25 0.34v2.4M295.42 120.25v-1.4M295.42 0.34v1.4M303.59 120.25v-2.4M303.59 0.34v2.4M311.76 120.25v-1.4M311.76 0.34v1.4M319.93 120.25v-2.4M319.93 0.34v2.4M328.1 120.25v-1.4M328.1 0.34v1.4M336.27 120.25v-2.4M336.27 0.34v2.4M344.44 120.25v-1.4M344.44 0.34v1.4M352.61 120.25v-2.4M352.61 0.34v2.4M360.78 120.25v-1.4M360.78 0.34v1.4M368.95 120.25v-2.4M368.95 0.34v2.4M205.55 120.25h2.4M368.95 120.25h-2.4M205.55 114.54h1.4M368.95 114.54h-1.4M205.55 108.83h2.4M368.95 108.83h-2.4M205.55 103.12h1.4M368.95 103.12h-1.4M205.55 97.41h2.4M368.95 97.41h-2.4M205.55 91.7h1.4M368.95 91.7h-1.4M205.55 85.99h2.4M368.95 85.99h-2.4M205.55 80.28h1.4M368.95 80.28h-1.4M205.55 74.57h2.4M368.95 74.57h-2.4M205.55 68.86h1.4M368.95 68.86h-1.4M205.55 63.15h2.4M368.95 63.15h-2.4M205.55 57.44h1.4M368.95 57.44h-1.4M205.55 51.73h2.4M368.95 51.73h-2.4M205.55 46.02h1.4M368.95 46.02h-1.4M205.55 40.31h2.4M368.95 40.31h-2.4M205.55 34.6h1.4M368.95 34.6h-1.4M205.55 28.89h2.4M368.95 28.89h-2.4M205.55 23.18h1.4M368.95 23.18h-1.4M205.55 17.47h2.4M368.95 17.47h-2.4M205.55 11.76h1.4M368.95 11.76h-1.4M205.55 6.05h2.4M368.95 6.05h-2.4M205.55 0.34h1.4M368.95 0.34h-1.4" stroke="#3c3c3c" stroke-width="0.85" fill="none"/>
<rect x="205.55" y="0.34" width="163.4" height="119.91" fill="none" stroke="#3c3c3c" stroke-width="1"/>
<g font-size="5.1" text-anchor="middle" fill="#1a1a1a" stroke="#1a1a1a" stroke-width="0.3"><text x="205.55" y="127.35">90</text><text x="221.89" y="127.35">92</text><text x="238.23" y="127.35">94</text><text x="254.57" y="127.35">96</text><text x="270.91" y="127.35">98</text><text x="287.25" y="127.35">100</text><text x="303.59" y="127.35">102</text><text x="319.93" y="127.35">104</text><text x="336.27" y="127.35">106</text><text x="352.61" y="127.35">108</text><text x="368.95" y="127.35">110</text></g>
<g font-size="5.1" text-anchor="end" fill="#1a1a1a" stroke="#1a1a1a" stroke-width="0.3"><text x="202.85" y="122.05">0.0</text><text x="202.85" y="110.63">0.1</text><text x="202.85" y="99.21">0.2</text><text x="202.85" y="87.79">0.3</text><text x="202.85" y="76.37">0.4</text><text x="202.85" y="64.95">0.5</text><text x="202.85" y="53.53">0.6</text><text x="202.85" y="42.11">0.7</text><text x="202.85" y="30.69">0.8</text><text x="202.85" y="19.27">0.9</text><text x="202.85" y="7.85">1.0</text></g>
<text x="287.25" y="137.65" font-size="6.4" text-anchor="middle" fill="#111" stroke="#111" stroke-width="0.25">Y-position [mm]</text>
<text transform="translate(191.55 64.25) rotate(-90)" font-size="6.3" text-anchor="middle" fill="#111" stroke="#111" stroke-width="0.25">Relative dose [a.u.]</text>
<g font-size="5" fill="#111" stroke-width="0.25"><rect x="212.75" y="5.94" width="49" height="27" fill="#fff"/><path d="M214.75 10.54h12.7" stroke="#000" stroke-width="2.7"/><path d="M214.75 16.64h12" stroke="#f03c3c" stroke-width="1"/><rect x="220.65" y="21.99" width="1.5" height="1.5" fill="#6fcf3f"/><rect x="220.55" y="28.09" width="1.7" height="1.7" fill="#cc55cc"/><text x="228.15" y="12.34" stroke="#111">TMR10</text><text x="228.15" y="18.47" stroke="#111">Film</text><text x="228.15" y="24.6" stroke="#111">W2 scint.</text><text x="228.15" y="30.73" stroke="#111">Microdiamond</text></g>
<path d="M400.37 0.34V120.25M416.71 0.34V120.25M433.05 0.34V120.25M449.39 0.34V120.25M465.73 0.34V120.25M482.07 0.34V120.25M498.41 0.34V120.25M514.75 0.34V120.25M531.09 0.34V120.25M547.43 0.34V120.25M392.2 114.54H555.6M392.2 103.12H555.6M392.2 91.7H555.6M392.2 80.28H555.6M392.2 68.86H555.6M392.2 57.44H555.6M392.2 46.02H555.6M392.2 34.6H555.6M392.2 23.18H555.6M392.2 11.76H555.6" stroke="#f2f2f2" stroke-width="0.6" fill="none"/><path d="M408.54 0.34V120.25M424.88 0.34V120.25M441.22 0.34V120.25M457.56 0.34V120.25M473.9 0.34V120.25M490.24 0.34V120.25M506.58 0.34V120.25M522.92 0.34V120.25M539.26 0.34V120.25M392.2 108.83H555.6M392.2 97.41H555.6M392.2 85.99H555.6M392.2 74.57H555.6M392.2 63.15H555.6M392.2 51.73H555.6M392.2 40.31H555.6M392.2 28.89H555.6M392.2 17.47H555.6M392.2 6.05H555.6" stroke="#e8e8e8" stroke-width="0.8" fill="none"/>
<g clip-path="url(#k02)">
<polyline points="392.2,119.6 392.61,119.6 393.02,119.59 393.43,119.58 393.84,119.58 394.25,119.57 394.66,119.56 395.07,119.55 395.48,119.55 395.89,119.54 396.3,119.53 396.7,119.52 397.11,119.52 397.52,119.51 397.93,119.5 398.34,119.49 398.75,119.48 399.16,119.48 399.57,119.47 399.98,119.46 400.39,119.45 400.8,119.44 401.21,119.43 401.62,119.42 402.03,119.41 402.44,119.4 402.85,119.39 403.26,119.38 403.67,119.37 404.08,119.36 404.49,119.35 404.9,119.34 405.3,119.32 405.71,119.31 406.12,119.3 406.53,119.28 406.94,119.27 407.35,119.26 407.76,119.24 408.17,119.23 408.58,119.21 408.99,119.19 409.4,119.18 409.81,119.16 410.22,119.14 410.63,119.13 411.04,119.11 411.45,119.09 411.86,119.07 412.27,119.05 412.68,119.03 413.09,119.01 413.5,118.99 413.9,118.97 414.31,118.95 414.72,118.93 415.13,118.91 415.54,118.89 415.95,118.86 416.36,118.84 416.77,118.81 417.18,118.79 417.59,118.76 418,118.73 418.41,118.7 418.82,118.67 419.23,118.64 419.64,118.61 420.05,118.57 420.46,118.54 420.87,118.5 421.28,118.46 421.69,118.42 422.1,118.38 422.5,118.34 422.91,118.29 423.32,118.25 423.73,118.2 424.14,118.15 424.55,118.1 424.96,118.05 425.37,118 425.78,117.94 426.19,117.89 426.6,117.83 427.01,117.76 427.42,117.7 427.83,117.62 428.24,117.54 428.65,117.46 429.06,117.37 429.47,117.28 429.88,117.18 430.29,117.08 430.7,116.97 431.1,116.85 431.51,116.74 431.92,116.61 432.33,116.49 432.74,116.35 433.15,116.22 433.56,116.07 433.97,115.93 434.38,115.78 434.79,115.61 435.2,115.44 435.61,115.26 436.02,115.06 436.43,114.84 436.84,114.6 437.25,114.35 437.66,114.06 438.07,113.76 438.48,113.43 438.89,113.06 439.3,112.56 439.7,111.94 440.11,111.2 440.52,110.39 440.93,109.53 441.34,108.65 441.75,107.76 442.16,106.81 442.57,105.78 442.98,104.69 443.39,103.56 443.8,102.42 444.21,101.27 444.62,100.14 445.03,98.99 445.44,97.82 445.85,96.6 446.26,95.32 446.67,93.96 447.08,92.5 447.49,90.92 447.9,89.25 448.3,87.49 448.71,85.66 449.12,83.7 449.53,81.65 449.94,79.58 450.35,77.46 450.76,75.29 451.17,73.17 451.58,71.2 451.99,69.38 452.4,67.59 452.81,65.72 453.22,63.65 453.63,61.4 454.04,59.05 454.45,56.69 454.86,54.33 455.27,51.93 455.68,49.47 456.09,46.95 456.5,44.37 456.9,41.73 457.31,38.94 457.72,36.19 458.13,33.68 458.54,31.34 458.95,29.3 459.36,27.53 459.77,25.93 460.18,24.43 460.59,22.96 461,21.53 461.41,20.17 461.82,18.91 462.23,17.8 462.64,16.78 463.05,15.83 463.46,14.94 463.87,14.11 464.28,13.35 464.69,12.64 465.1,11.98 465.5,11.33 465.91,10.72 466.32,10.14 466.73,9.6 467.14,9.11 467.55,8.68 467.96,8.31 468.37,7.98 468.78,7.66 469.19,7.36 469.6,7.07 470.01,6.8 470.42,6.56 470.83,6.34 471.24,6.15 471.65,5.99 472.06,5.87 472.47,5.78 472.88,5.7 473.29,5.64 473.7,5.6 474.1,5.6 474.51,5.64 474.92,5.7 475.33,5.78 475.74,5.87 476.15,5.99 476.56,6.15 476.97,6.34 477.38,6.56 477.79,6.8 478.2,7.07 478.61,7.36 479.02,7.66 479.43,7.98 479.84,8.31 480.25,8.68 480.66,9.11 481.07,9.6 481.48,10.14 481.89,10.72 482.3,11.33 482.7,11.98 483.11,12.64 483.52,13.35 483.93,14.11 484.34,14.94 484.75,15.83 485.16,16.78 485.57,17.8 485.98,18.91 486.39,20.17 486.8,21.53 487.21,22.96 487.62,24.43 488.03,25.93 488.44,27.53 488.85,29.3 489.26,31.34 489.67,33.68 490.08,36.19 490.49,38.94 490.9,41.73 491.3,44.37 491.71,46.95 492.12,49.47 492.53,51.93 492.94,54.33 493.35,56.69 493.76,59.05 494.17,61.4 494.58,63.65 494.99,65.72 495.4,67.59 495.81,69.38 496.22,71.2 496.63,73.17 497.04,75.29 497.45,77.46 497.86,79.58 498.27,81.65 498.68,83.7 499.09,85.66 499.5,87.49 499.9,89.25 500.31,90.92 500.72,92.5 501.13,93.96 501.54,95.32 501.95,96.6 502.36,97.82 502.77,98.99 503.18,100.14 503.59,101.27 504,102.42 504.41,103.56 504.82,104.69 505.23,105.78 505.64,106.81 506.05,107.76 506.46,108.65 506.87,109.53 507.28,110.39 507.69,111.2 508.1,111.94 508.5,112.56 508.91,113.06 509.32,113.43 509.73,113.76 510.14,114.06 510.55,114.35 510.96,114.6 511.37,114.84 511.78,115.06 512.19,115.26 512.6,115.44 513.01,115.61 513.42,115.78 513.83,115.93 514.24,116.07 514.65,116.22 515.06,116.35 515.47,116.49 515.88,116.61 516.29,116.74 516.7,116.85 517.1,116.97 517.51,117.08 517.92,117.18 518.33,117.28 518.74,117.37 519.15,117.46 519.56,117.54 519.97,117.62 520.38,117.7 520.79,117.76 521.2,117.83 521.61,117.89 522.02,117.94 522.43,118 522.84,118.05 523.25,118.1 523.66,118.15 524.07,118.2 524.48,118.25 524.89,118.29 525.3,118.34 525.7,118.38 526.11,118.42 526.52,118.46 526.93,118.5 527.34,118.54 527.75,118.57 528.16,118.61 528.57,118.64 528.98,118.67 529.39,118.7 529.8,118.73 530.21,118.76 530.62,118.79 531.03,118.81 531.44,118.84 531.85,118.86 532.26,118.89 532.67,118.91 533.08,118.93 533.49,118.95 533.9,118.97 534.3,118.99 534.71,119.01 535.12,119.03 535.53,119.05 535.94,119.07 536.35,119.09 536.76,119.11 537.17,119.13 537.58,119.14 537.99,119.16 538.4,119.18 538.81,119.19 539.22,119.21 539.63,119.23 540.04,119.24 540.45,119.26 540.86,119.27 541.27,119.28 541.68,119.3 542.09,119.31 542.5,119.32 542.9,119.34 543.31,119.35 543.72,119.36 544.13,119.37 544.54,119.38 544.95,119.39 545.36,119.4 545.77,119.41 546.18,119.42 546.59,119.43 547,119.44 547.41,119.45 547.82,119.46 548.23,119.47 548.64,119.48 549.05,119.48 549.46,119.49 549.87,119.5 550.28,119.51 550.69,119.52 551.1,119.52 551.5,119.53 551.91,119.54 552.32,119.55 552.73,119.55 553.14,119.56 553.55,119.57 553.96,119.58 554.37,119.58 554.78,119.59 555.19,119.6 555.6,119.6" fill="none" stroke="#000" stroke-width="2.1" stroke-linejoin="round"/>
<polyline points="392.19,118.8 392.6,118.8 393.01,118.79 393.42,118.78 393.82,118.78 394.23,118.77 394.64,118.76 395.05,118.75 395.46,118.75 395.87,118.74 396.28,118.73 396.69,118.72 397.1,118.72 397.51,118.71 397.92,118.7 398.33,118.69 398.74,118.68 399.15,118.68 399.56,118.67 399.96,118.66 400.37,118.65 400.78,118.64 401.19,118.63 401.6,118.62 402.01,118.61 402.42,118.6 402.83,118.59 403.24,118.58 403.64,118.57 404.05,118.56 404.46,118.55 404.87,118.54 405.28,118.52 405.69,118.51 406.1,118.5 406.51,118.48 406.92,118.47 407.32,118.46 407.73,118.44 408.14,118.43 408.55,118.41 408.96,118.39 409.37,118.38 409.78,118.36 410.19,118.34 410.59,118.33 411,118.31 411.41,118.29 411.82,118.27 412.23,118.25 412.64,118.23 413.05,118.21 413.46,118.19 413.86,118.17 414.27,118.15 414.68,118.13 415.09,118.11 415.5,118.09 415.91,118.06 416.31,118.04 416.72,118.02 417.13,117.99 417.54,117.96 417.94,117.93 418.35,117.9 418.76,117.87 419.17,117.84 419.57,117.81 419.98,117.78 420.39,117.74 420.79,117.7 421.2,117.66 421.61,117.63 422.01,117.58 422.42,117.54 422.83,117.5 423.23,117.45 423.64,117.41 424.05,117.36 424.45,117.31 424.86,117.26 425.27,117.2 425.67,117.15 426.08,117.09 426.48,117.04 426.88,116.97 427.28,116.91 427.68,116.84 428.08,116.76 428.48,116.68 428.88,116.59 429.28,116.5 429.68,116.4 430.09,116.3 430.49,116.2 430.89,116.08 431.29,115.97 431.69,115.85 432.09,115.72 432.49,115.59 432.89,115.46 433.3,115.32 433.7,115.18 434.09,115.03 434.49,114.87 434.88,114.71 435.27,114.53 435.66,114.34 436.04,114.14 436.43,113.92 436.81,113.68 437.19,113.41 437.57,113.13 437.96,112.82 438.31,112.51 438.65,112.09 439.02,111.52 439.41,110.83 439.81,110.04 440.21,109.19 440.62,108.31 441.02,107.44 441.42,106.5 441.88,105.51 442.36,104.46 442.85,103.37 443.33,102.25 443.82,101.13 444.31,100.03 444.8,98.91 445.29,97.77 445.79,96.58 446.29,95.33 446.79,94 447.31,92.56 447.78,90.99 448.19,89.32 448.6,87.56 449.01,85.73 449.42,83.76 449.83,81.71 450.24,79.63 450.65,77.52 451.06,75.35 451.47,73.23 451.87,71.27 452.28,69.45 452.69,67.66 453.1,65.78 453.51,63.71 453.92,61.45 454.33,59.1 454.74,56.74 455.15,54.38 455.56,51.98 455.97,49.52 456.38,47 456.79,44.42 457.2,41.77 457.61,38.99 458.02,36.24 458.43,33.73 458.84,31.39 459.25,29.36 459.65,27.6 460.06,26 460.47,24.51 460.88,23.05 461.29,21.62 461.7,20.26 462.1,19.01 462.51,17.91 462.92,16.9 463.32,15.95 463.73,15.07 464.13,14.25 464.54,13.49 464.94,12.8 465.35,12.14 465.76,11.5 466.16,10.89 466.57,10.31 466.97,9.79 467.37,9.31 467.76,8.89 468.16,8.54 468.56,8.22 468.96,7.9 469.37,7.6 469.77,7.32 470.17,7.06 470.57,6.82 470.96,6.61 471.35,6.43 471.74,6.28 472.13,6.16 472.53,6.07 472.93,6 473.32,5.94 473.71,5.9 474.09,5.9 474.48,5.94 474.87,6 475.27,6.07 475.67,6.16 476.06,6.28 476.45,6.43 476.84,6.61 477.23,6.82 477.63,7.06 478.03,7.32 478.43,7.6 478.84,7.9 479.24,8.22 479.64,8.54 480.04,8.89 480.43,9.31 480.83,9.79 481.23,10.31 481.64,10.89 482.04,11.5 482.45,12.14 482.86,12.8 483.26,13.49 483.67,14.25 484.07,15.07 484.48,15.95 484.88,16.9 485.29,17.91 485.7,19.01 486.1,20.26 486.51,21.62 486.92,23.05 487.33,24.51 487.74,26 488.15,27.6 488.55,29.36 488.96,31.39 489.37,33.73 489.78,36.24 490.19,38.99 490.6,41.77 491.01,44.42 491.42,47 491.83,49.52 492.24,51.98 492.65,54.38 493.06,56.74 493.47,59.1 493.88,61.45 494.29,63.71 494.7,65.78 495.11,67.66 495.52,69.45 495.93,71.27 496.33,73.23 496.74,75.35 497.15,77.52 497.56,79.63 497.97,81.71 498.38,83.76 498.79,85.73 499.2,87.56 499.61,89.32 500.02,90.99 500.49,92.56 501.01,94 501.51,95.33 502.01,96.58 502.51,97.77 503,98.91 503.49,100.03 503.98,101.13 504.47,102.25 504.95,103.37 505.44,104.46 505.92,105.51 506.38,106.5 506.78,107.44 507.18,108.31 507.59,109.19 507.99,110.04 508.39,110.83 508.78,111.52 509.15,112.09 509.49,112.51 509.84,112.82 510.23,113.13 510.61,113.41 510.99,113.68 511.37,113.92 511.76,114.14 512.14,114.34 512.53,114.53 512.92,114.71 513.31,114.87 513.71,115.03 514.1,115.18 514.5,115.32 514.91,115.46 515.31,115.59 515.71,115.72 516.11,115.85 516.51,115.97 516.91,116.08 517.31,116.2 517.71,116.3 518.12,116.4 518.52,116.5 518.92,116.59 519.32,116.68 519.72,116.76 520.12,116.84 520.52,116.91 520.92,116.97 521.32,117.04 521.72,117.09 522.13,117.15 522.53,117.2 522.94,117.26 523.35,117.31 523.75,117.36 524.16,117.41 524.57,117.45 524.97,117.5 525.38,117.54 525.79,117.58 526.19,117.63 526.6,117.66 527.01,117.7 527.41,117.74 527.82,117.78 528.23,117.81 528.63,117.84 529.04,117.87 529.45,117.9 529.86,117.93 530.26,117.96 530.67,117.99 531.08,118.02 531.49,118.04 531.89,118.06 532.3,118.09 532.71,118.11 533.12,118.13 533.53,118.15 533.94,118.17 534.34,118.19 534.75,118.21 535.16,118.23 535.57,118.25 535.98,118.27 536.39,118.29 536.8,118.31 537.21,118.33 537.61,118.34 538.02,118.36 538.43,118.38 538.84,118.39 539.25,118.41 539.66,118.43 540.07,118.44 540.48,118.46 540.88,118.47 541.29,118.48 541.7,118.5 542.11,118.51 542.52,118.52 542.93,118.54 543.34,118.55 543.75,118.56 544.16,118.57 544.56,118.58 544.97,118.59 545.38,118.6 545.79,118.61 546.2,118.62 546.61,118.63 547.02,118.64 547.43,118.65 547.84,118.66 548.24,118.67 548.65,118.68 549.06,118.68 549.47,118.69 549.88,118.7 550.29,118.71 550.7,118.72 551.11,118.72 551.52,118.73 551.93,118.74 552.34,118.75 552.75,118.75 553.16,118.76 553.57,118.77 553.98,118.78 554.38,118.78 554.79,118.79 555.2,118.8 555.61,118.8" fill="none" stroke="#ee2a2a" stroke-width="0.9" stroke-linejoin="round"/>
<path d="M398.75 118.82h1.3v1.3h-1.3zM422.71 117.59h1.3v1.3h-1.3zM441.62 105.89h1.3v1.3h-1.3zM445.24 95.83h1.3v1.3h-1.3zM447.81 86.17h1.3v1.3h-1.3zM449.79 76.37h1.3v1.3h-1.3zM451.83 66.58h1.3v1.3h-1.3zM453.67 56.75h1.3v1.3h-1.3zM455.34 46.89h1.3v1.3h-1.3zM456.85 37.01h1.3v1.3h-1.3zM458.64 27.17h1.3v1.3h-1.3zM461.42 17.57h1.3v1.3h-1.3zM466.19 8.82h1.3v1.3h-1.3zM474.94 5.03h1.3v1.3h-1.3zM482.25 10.35h1.3v1.3h-1.3zM486.13 18.21h1.3v1.3h-1.3zM488.57 26.75h1.3v1.3h-1.3zM490.14 34.9h1.3v1.3h-1.3zM491.71 45.25h1.3v1.3h-1.3zM493.41 55.41h1.3v1.3h-1.3zM495.43 66.32h1.3v1.3h-1.3zM497.36 75.48h1.3v1.3h-1.3zM499.47 86.01h1.3v1.3h-1.3zM502.38 96.72h1.3v1.3h-1.3zM509.01 112.33h1.3v1.3h-1.3zM532.12 118.22h1.3v1.3h-1.3z" fill="#6fd13a"/>
<path d="M410.64 118.34h1.5v1.5h-1.5zM434.25 114.78h1.5v1.5h-1.5zM443.49 100.45h1.5v1.5h-1.5zM446.54 90.93h1.5v1.5h-1.5zM448.73 81.17h1.5v1.5h-1.5zM450.64 71.36h1.5v1.5h-1.5zM452.71 61.58h1.5v1.5h-1.5zM454.42 51.72h1.5v1.5h-1.5zM456.02 41.85h1.5v1.5h-1.5zM457.55 31.97h1.5v1.5h-1.5zM459.83 22.24h1.5v1.5h-1.5zM463.36 12.91h1.5v1.5h-1.5zM469.98 5.64h1.5v1.5h-1.5zM479.12 7.59h1.5v1.5h-1.5zM484.4 16h1.5v1.5h-1.5zM487.37 25.53h1.5v1.5h-1.5zM489.31 35.34h1.5v1.5h-1.5zM490.81 45.23h1.5v1.5h-1.5zM492.46 55.09h1.5v1.5h-1.5zM494.23 64.93h1.5v1.5h-1.5zM496.32 74.71h1.5v1.5h-1.5zM498.25 84.52h1.5v1.5h-1.5zM500.68 94.22h1.5v1.5h-1.5zM503.97 103.66h1.5v1.5h-1.5zM520.08 117.02h1.5v1.5h-1.5zM544.02 118.64h1.5v1.5h-1.5z" fill="#d455d4"/>
</g>
<path d="M392.2 120.25v-2.4M392.2 0.34v2.4M400.37 120.25v-1.4M400.37 0.34v1.4M408.54 120.25v-2.4M408.54 0.34v2.4M416.71 120.25v-1.4M416.71 0.34v1.4M424.88 120.25v-2.4M424.88 0.34v2.4M433.05 120.25v-1.4M433.05 0.34v1.4M441.22 120.25v-2.4M441.22 0.34v2.4M449.39 120.25v-1.4M449.39 0.34v1.4M457.56 120.25v-2.4M457.56 0.34v2.4M465.73 120.25v-1.4M465.73 0.34v1.4M473.9 120.25v-2.4M473.9 0.34v2.4M482.07 120.25v-1.4M482.07 0.34v1.4M490.24 120.25v-2.4M490.24 0.34v2.4M498.41 120.25v-1.4M498.41 0.34v1.4M506.58 120.25v-2.4M506.58 0.34v2.4M514.75 120.25v-1.4M514.75 0.34v1.4M522.92 120.25v-2.4M522.92 0.34v2.4M531.09 120.25v-1.4M531.09 0.34v1.4M539.26 120.25v-2.4M539.26 0.34v2.4M547.43 120.25v-1.4M547.43 0.34v1.4M555.6 120.25v-2.4M555.6 0.34v2.4M392.2 120.25h2.4M555.6 120.25h-2.4M392.2 114.54h1.4M555.6 114.54h-1.4M392.2 108.83h2.4M555.6 108.83h-2.4M392.2 103.12h1.4M555.6 103.12h-1.4M392.2 97.41h2.4M555.6 97.41h-2.4M392.2 91.7h1.4M555.6 91.7h-1.4M392.2 85.99h2.4M555.6 85.99h-2.4M392.2 80.28h1.4M555.6 80.28h-1.4M392.2 74.57h2.4M555.6 74.57h-2.4M392.2 68.86h1.4M555.6 68.86h-1.4M392.2 63.15h2.4M555.6 63.15h-2.4M392.2 57.44h1.4M555.6 57.44h-1.4M392.2 51.73h2.4M555.6 51.73h-2.4M392.2 46.02h1.4M555.6 46.02h-1.4M392.2 40.31h2.4M555.6 40.31h-2.4M392.2 34.6h1.4M555.6 34.6h-1.4M392.2 28.89h2.4M555.6 28.89h-2.4M392.2 23.18h1.4M555.6 23.18h-1.4M392.2 17.47h2.4M555.6 17.47h-2.4M392.2 11.76h1.4M555.6 11.76h-1.4M392.2 6.05h2.4M555.6 6.05h-2.4M392.2 0.34h1.4M555.6 0.34h-1.4" stroke="#3c3c3c" stroke-width="0.85" fill="none"/>
<rect x="392.2" y="0.34" width="163.4" height="119.91" fill="none" stroke="#3c3c3c" stroke-width="1"/>
<g font-size="5.1" text-anchor="middle" fill="#1a1a1a" stroke="#1a1a1a" stroke-width="0.3"><text x="392.2" y="127.35">90</text><text x="408.54" y="127.35">92</text><text x="424.88" y="127.35">94</text><text x="441.22" y="127.35">96</text><text x="457.56" y="127.35">98</text><text x="473.9" y="127.35">100</text><text x="490.24" y="127.35">102</text><text x="506.58" y="127.35">104</text><text x="522.92" y="127.35">106</text><text x="539.26" y="127.35">108</text><text x="555.6" y="127.35">110</text></g>
<g font-size="5.1" text-anchor="end" fill="#1a1a1a" stroke="#1a1a1a" stroke-width="0.3"><text x="389.5" y="122.05">0.0</text><text x="389.5" y="110.63">0.1</text><text x="389.5" y="99.21">0.2</text><text x="389.5" y="87.79">0.3</text><text x="389.5" y="76.37">0.4</text><text x="389.5" y="64.95">0.5</text><text x="389.5" y="53.53">0.6</text><text x="389.5" y="42.11">0.7</text><text x="389.5" y="30.69">0.8</text><text x="389.5" y="19.27">0.9</text><text x="389.5" y="7.85">1.0</text></g>
<text x="473.9" y="137.65" font-size="6.4" text-anchor="middle" fill="#111" stroke="#111" stroke-width="0.25">Z-position [mm]</text>
<text transform="translate(378.2 64.25) rotate(-90)" font-size="6.3" text-anchor="middle" fill="#111" stroke="#111" stroke-width="0.25">Relative dose [a.u.]</text>
<g font-size="5" fill="#111" stroke-width="0.25"><rect x="399.4" y="5.94" width="49" height="27" fill="#fff"/><path d="M401.4 10.54h12.7" stroke="#000" stroke-width="2.7"/><path d="M401.4 16.64h12" stroke="#f03c3c" stroke-width="1"/><rect x="407.3" y="21.99" width="1.5" height="1.5" fill="#6fcf3f"/><rect x="407.2" y="28.09" width="1.7" height="1.7" fill="#cc55cc"/><text x="414.8" y="12.34" stroke="#111">TMR10</text><text x="414.8" y="18.47" stroke="#111">Film</text><text x="414.8" y="24.6" stroke="#111">W2 scint.</text><text x="414.8" y="30.73" stroke="#111">Microdiamond</text></g>
<path d="M18.9 252.79H182.3M18.9 241.37H182.3M18.9 229.95H182.3M18.9 218.53H182.3M18.9 207.11H182.3M18.9 195.69H182.3M18.9 184.27H182.3M18.9 172.85H182.3M18.9 161.43H182.3M18.9 150.01H182.3" stroke="#f2f2f2" stroke-width="0.6" fill="none"/><path d="M24.35 138.59V258.5M35.24 138.59V258.5M46.13 138.59V258.5M57.03 138.59V258.5M67.92 138.59V258.5M78.81 138.59V258.5M89.71 138.59V258.5M100.6 138.59V258.5M111.49 138.59V258.5M122.39 138.59V258.5M133.28 138.59V258.5M144.17 138.59V258.5M155.07 138.59V258.5M165.96 138.59V258.5M176.85 138.59V258.5M18.9 247.08H182.3M18.9 235.66H182.3M18.9 224.24H182.3M18.9 212.82H182.3M18.9 201.4H182.3M18.9 189.98H182.3M18.9 178.56H182.3M18.9 167.14H182.3M18.9 155.72H182.3M18.9 144.3H182.3" stroke="#e8e8e8" stroke-width="0.8" fill="none"/>
<g clip-path="url(#k10)">
<polyline points="18.9,252.45 19.31,252.39 19.72,252.32 20.13,252.25 20.54,252.18 20.95,252.1 21.36,252.01 21.77,251.93 22.18,251.84 22.59,251.74 23,251.65 23.4,251.55 23.81,251.45 24.22,251.35 24.63,251.24 25.04,251.14 25.45,251.04 25.86,250.93 26.27,250.82 26.68,250.72 27.09,250.62 27.5,250.51 27.91,250.41 28.32,250.3 28.73,250.19 29.14,250.09 29.55,249.98 29.96,249.86 30.37,249.75 30.78,249.64 31.19,249.52 31.6,249.4 32,249.28 32.41,249.16 32.82,249.03 33.23,248.9 33.64,248.77 34.05,248.63 34.46,248.5 34.87,248.35 35.28,248.21 35.69,248.05 36.1,247.89 36.51,247.73 36.92,247.55 37.33,247.38 37.74,247.19 38.15,247 38.56,246.81 38.97,246.61 39.38,246.42 39.79,246.21 40.2,246.01 40.6,245.81 41.01,245.6 41.42,245.4 41.83,245.2 42.24,244.99 42.65,244.79 43.06,244.6 43.47,244.4 43.88,244.2 44.29,244.01 44.7,243.81 45.11,243.61 45.52,243.41 45.93,243.21 46.34,243.01 46.75,242.8 47.16,242.59 47.57,242.37 47.98,242.15 48.39,241.92 48.8,241.69 49.2,241.45 49.61,241.21 50.02,240.96 50.43,240.71 50.84,240.45 51.25,240.19 51.66,239.92 52.07,239.64 52.48,239.35 52.89,239.06 53.3,238.76 53.71,238.45 54.12,238.12 54.53,237.79 54.94,237.45 55.35,237.09 55.76,236.72 56.17,236.34 56.58,235.95 56.99,235.54 57.4,235.11 57.8,234.67 58.21,234.2 58.62,233.71 59.03,233.19 59.44,232.64 59.85,232.07 60.26,231.45 60.67,230.78 61.08,230.01 61.49,229.15 61.9,228.22 62.31,227.25 62.72,226.25 63.13,225.25 63.54,224.27 63.95,223.29 64.36,222.29 64.77,221.26 65.18,220.2 65.59,219.1 66,217.94 66.4,216.72 66.81,215.42 67.22,214.05 67.63,212.63 68.04,211.16 68.45,209.65 68.86,208.03 69.27,206.34 69.68,204.66 70.09,203.05 70.5,201.56 70.91,200.12 71.32,198.65 71.73,197.07 72.14,195.3 72.55,193.35 72.96,191.35 73.37,189.38 73.78,187.5 74.19,185.62 74.6,183.67 75,181.55 75.41,179.21 75.82,176.79 76.23,174.44 76.64,172.18 77.05,169.91 77.46,167.52 77.87,165.06 78.28,163 78.69,161.22 79.1,159.61 79.51,158.16 79.92,156.81 80.33,155.53 80.74,154.37 81.15,153.35 81.56,152.49 81.97,151.72 82.38,151.02 82.79,150.38 83.2,149.82 83.6,149.31 84.01,148.84 84.42,148.4 84.83,147.98 85.24,147.6 85.65,147.24 86.06,146.92 86.47,146.65 86.88,146.41 87.29,146.18 87.7,145.96 88.11,145.76 88.52,145.56 88.93,145.38 89.34,145.22 89.75,145.07 90.16,144.95 90.57,144.85 90.98,144.78 91.39,144.73 91.8,144.68 92.2,144.64 92.61,144.6 93.02,144.56 93.43,144.53 93.84,144.5 94.25,144.47 94.66,144.45 95.07,144.42 95.48,144.4 95.89,144.39 96.3,144.37 96.71,144.36 97.12,144.35 97.53,144.34 97.94,144.33 98.35,144.32 98.76,144.32 99.17,144.31 99.58,144.31 99.99,144.3 100.4,144.3 100.8,144.3 101.21,144.3 101.62,144.31 102.03,144.31 102.44,144.32 102.85,144.32 103.26,144.33 103.67,144.34 104.08,144.35 104.49,144.36 104.9,144.37 105.31,144.39 105.72,144.4 106.13,144.42 106.54,144.45 106.95,144.47 107.36,144.5 107.77,144.53 108.18,144.56 108.59,144.6 109,144.64 109.4,144.68 109.81,144.73 110.22,144.78 110.63,144.85 111.04,144.95 111.45,145.07 111.86,145.22 112.27,145.38 112.68,145.56 113.09,145.76 113.5,145.96 113.91,146.18 114.32,146.41 114.73,146.65 115.14,146.92 115.55,147.24 115.96,147.6 116.37,147.98 116.78,148.4 117.19,148.84 117.6,149.31 118,149.82 118.41,150.38 118.82,151.02 119.23,151.72 119.64,152.49 120.05,153.35 120.46,154.37 120.87,155.53 121.28,156.81 121.69,158.16 122.1,159.61 122.51,161.22 122.92,163 123.33,165.06 123.74,167.52 124.15,169.91 124.56,172.18 124.97,174.44 125.38,176.79 125.79,179.21 126.2,181.55 126.6,183.67 127.01,185.62 127.42,187.5 127.83,189.38 128.24,191.35 128.65,193.35 129.06,195.3 129.47,197.07 129.88,198.65 130.29,200.12 130.7,201.56 131.11,203.05 131.52,204.66 131.93,206.34 132.34,208.03 132.75,209.65 133.16,211.16 133.57,212.63 133.98,214.05 134.39,215.42 134.8,216.72 135.2,217.94 135.61,219.1 136.02,220.2 136.43,221.26 136.84,222.29 137.25,223.29 137.66,224.27 138.07,225.25 138.48,226.25 138.89,227.25 139.3,228.22 139.71,229.15 140.12,230.01 140.53,230.78 140.94,231.45 141.35,232.07 141.76,232.64 142.17,233.19 142.58,233.71 142.99,234.2 143.4,234.67 143.8,235.11 144.21,235.54 144.62,235.95 145.03,236.34 145.44,236.72 145.85,237.09 146.26,237.45 146.67,237.79 147.08,238.12 147.49,238.45 147.9,238.76 148.31,239.06 148.72,239.35 149.13,239.64 149.54,239.92 149.95,240.19 150.36,240.45 150.77,240.71 151.18,240.96 151.59,241.21 152,241.45 152.4,241.69 152.81,241.92 153.22,242.15 153.63,242.37 154.04,242.59 154.45,242.8 154.86,243.01 155.27,243.21 155.68,243.41 156.09,243.61 156.5,243.81 156.91,244.01 157.32,244.2 157.73,244.4 158.14,244.6 158.55,244.79 158.96,244.99 159.37,245.2 159.78,245.4 160.19,245.6 160.6,245.81 161,246.01 161.41,246.21 161.82,246.42 162.23,246.61 162.64,246.81 163.05,247 163.46,247.19 163.87,247.38 164.28,247.55 164.69,247.73 165.1,247.89 165.51,248.05 165.92,248.21 166.33,248.35 166.74,248.5 167.15,248.63 167.56,248.77 167.97,248.9 168.38,249.03 168.79,249.16 169.2,249.28 169.6,249.4 170.01,249.52 170.42,249.64 170.83,249.75 171.24,249.86 171.65,249.98 172.06,250.09 172.47,250.19 172.88,250.3 173.29,250.41 173.7,250.51 174.11,250.62 174.52,250.72 174.93,250.82 175.34,250.93 175.75,251.04 176.16,251.14 176.57,251.24 176.98,251.35 177.39,251.45 177.8,251.55 178.2,251.65 178.61,251.74 179.02,251.84 179.43,251.93 179.84,252.01 180.25,252.1 180.66,252.18 181.07,252.25 181.48,252.32 181.89,252.39 182.3,252.45" fill="none" stroke="#000" stroke-width="2.1" stroke-linejoin="round"/>
<polyline points="18.78,251.66 19.19,251.6 19.59,251.53 19.99,251.46 20.39,251.39 20.79,251.31 21.19,251.23 21.6,251.15 22,251.06 22.41,250.96 22.81,250.87 23.22,250.77 23.62,250.67 24.03,250.57 24.44,250.47 24.84,250.36 25.25,250.26 25.66,250.15 26.07,250.05 26.48,249.94 26.89,249.84 27.3,249.74 27.71,249.63 28.12,249.53 28.53,249.42 28.93,249.31 29.34,249.2 29.75,249.09 30.15,248.98 30.56,248.87 30.96,248.75 31.37,248.63 31.78,248.51 32.18,248.39 32.59,248.27 32.99,248.14 33.39,248.01 33.8,247.88 34.2,247.74 34.61,247.6 35.01,247.46 35.41,247.31 35.8,247.15 36.2,246.99 36.6,246.82 37,246.64 37.41,246.46 37.81,246.28 38.21,246.09 38.62,245.89 39.03,245.7 39.43,245.5 39.84,245.29 40.25,245.09 40.66,244.89 41.07,244.68 41.48,244.48 41.89,244.28 42.3,244.07 42.72,243.89 43.14,243.71 43.56,243.53 43.97,243.35 44.39,243.17 44.81,242.98 45.22,242.8 45.64,242.62 46.05,242.43 46.46,242.24 46.88,242.05 47.29,241.85 47.7,241.65 48.12,241.45 48.53,241.23 48.95,241.02 49.36,240.79 49.78,240.57 50.2,240.33 50.62,240.1 51.04,239.85 51.45,239.61 51.87,239.35 52.29,239.09 52.72,238.82 53.14,238.54 53.56,238.25 53.98,237.96 54.41,237.65 54.84,237.33 55.26,236.99 55.69,236.65 56.13,236.3 56.56,235.93 56.99,235.55 57.43,235.15 57.87,234.73 58.31,234.28 58.76,233.82 59.2,233.32 59.66,232.8 60.11,232.24 60.57,231.65 61.04,230.99 61.52,230.23 61.95,229.36 62.36,228.42 62.77,227.44 63.18,226.44 63.59,225.44 64,224.46 64.41,223.48 64.82,222.47 65.23,221.45 65.64,220.38 66.06,219.27 66.47,218.11 66.88,216.87 67.29,215.56 67.7,214.19 68.11,212.77 68.52,211.3 68.94,209.78 69.35,208.15 69.76,206.46 70.17,204.78 70.57,203.18 70.98,201.69 71.39,200.25 71.8,198.78 72.21,197.19 72.63,195.4 73.04,193.46 73.45,191.45 73.86,189.49 74.26,187.6 74.67,185.72 75.09,183.77 75.5,181.64 75.91,179.29 76.32,176.87 76.73,174.53 77.13,172.27 77.54,170 77.95,167.6 78.36,165.15 78.77,163.11 79.18,161.33 79.58,159.74 79.99,158.3 80.4,156.95 80.8,155.69 81.21,154.55 81.61,153.55 82,152.72 82.4,151.96 82.8,151.28 83.2,150.66 83.59,150.12 83.99,149.63 84.39,149.18 84.79,148.74 85.18,148.34 85.58,147.97 85.97,147.63 86.36,147.33 86.74,147.07 87.13,146.84 87.53,146.62 87.93,146.41 88.33,146.21 88.73,146.02 89.12,145.84 89.51,145.69 89.9,145.55 90.29,145.43 90.67,145.34 91.05,145.27 91.44,145.22 91.85,145.18 92.25,145.13 92.66,145.1 93.07,145.06 93.47,145.03 93.88,145 94.28,144.97 94.69,144.95 95.1,144.93 95.5,144.91 95.91,144.91 96.32,144.91 96.72,144.92 97.13,144.95 97.54,145 97.95,145.08 98.36,145.19 98.77,145.35 99.17,145.56 99.58,145.81 99.99,146.09 100.4,146.4 100.8,146.7 101.21,146.98 101.62,147.2 102.03,147.33 102.43,147.36 102.84,147.27 103.25,147.07 103.66,146.77 104.07,146.39 104.48,145.95 104.88,145.5 105.29,145.06 105.7,144.66 106.1,144.32 106.51,144.05 106.92,143.87 107.32,143.78 107.73,143.78 108.13,143.85 108.54,143.98 108.95,144.15 109.35,144.35 109.76,144.55 110.15,144.75 110.53,144.95 110.91,145.15 111.3,145.36 111.69,145.56 112.08,145.76 112.47,145.97 112.87,146.18 113.27,146.39 113.67,146.61 114.07,146.84 114.46,147.07 114.84,147.33 115.23,147.63 115.62,147.97 116.02,148.34 116.41,148.74 116.81,149.18 117.21,149.63 117.61,150.12 118,150.66 118.4,151.28 118.8,151.96 119.2,152.72 119.59,153.55 119.99,154.55 120.4,155.69 120.8,156.95 121.21,158.3 121.62,159.74 122.02,161.33 122.43,163.11 122.84,165.15 123.25,167.6 123.66,170 124.07,172.27 124.47,174.53 124.88,176.85 125.29,179.23 125.7,181.55 126.11,183.64 126.53,185.56 126.94,187.41 127.34,189.26 127.75,191.19 128.16,193.16 128.57,195.07 128.99,196.83 129.4,198.38 129.81,199.82 130.22,201.22 130.63,202.68 131.03,204.24 131.44,205.89 131.85,207.54 132.26,209.14 132.68,210.62 133.09,212.06 133.5,213.45 133.91,214.79 134.32,216.06 134.73,217.26 135.14,218.39 135.56,219.47 135.97,220.5 136.38,221.49 136.79,222.46 137.2,223.41 137.61,224.36 138.02,225.32 138.43,226.29 138.84,227.23 139.25,228.13 139.68,228.97 140.16,229.7 140.63,230.33 141.09,230.88 141.54,231.4 142,231.89 142.44,232.35 142.89,232.78 143.33,233.19 143.77,233.58 144.21,233.94 144.64,234.29 145.07,234.63 145.51,234.95 145.94,235.25 146.36,235.55 146.79,235.84 147.22,236.13 147.64,236.43 148.06,236.71 148.48,236.99 148.91,237.26 149.33,237.52 149.75,237.78 150.16,238.03 150.58,238.27 151,238.51 151.42,238.74 151.84,238.97 152.25,239.19 152.67,239.41 153.08,239.62 153.5,239.82 153.91,240.03 154.32,240.22 154.74,240.41 155.15,240.6 155.56,240.79 155.98,240.97 156.39,241.16 156.81,241.34 157.23,241.52 157.64,241.7 158.06,241.88 158.48,242.06 158.9,242.25 159.31,242.45 159.72,242.65 160.13,242.86 160.54,243.06 160.95,243.26 161.36,243.47 161.77,243.67 162.17,243.87 162.58,244.07 162.99,244.26 163.39,244.45 163.79,244.64 164.2,244.82 164.6,244.99 165,245.16 165.4,245.32 165.79,245.48 166.19,245.63 166.59,245.77 167,245.91 167.4,246.05 167.81,246.18 168.21,246.31 168.61,246.44 169.02,246.57 169.42,246.69 169.83,246.81 170.24,246.93 170.64,247.04 171.05,247.15 171.45,247.27 171.86,247.38 172.27,247.48 172.67,247.59 173.08,247.7 173.49,247.8 173.9,247.91 174.31,248.01 174.72,248.12 175.13,248.22 175.54,248.33 175.95,248.43 176.36,248.54 176.76,248.64 177.17,248.74 177.58,248.85 177.98,248.95 178.39,249.04 178.79,249.14 179.2,249.23 179.6,249.32 180.01,249.4 180.41,249.49 180.81,249.56 181.21,249.64 181.61,249.71 182.01,249.77 182.42,249.83" fill="none" stroke="#ee2a2a" stroke-width="0.9" stroke-linejoin="round"/>
<path d="M25.28 250.26h1.3v1.3h-1.3zM45.94 242.23h1.3v1.3h-1.3zM55.78 235.44h1.3v1.3h-1.3zM62.15 225.41h1.3v1.3h-1.3zM64.02 220.86h1.3v1.3h-1.3zM65.28 217.48h1.3v1.3h-1.3zM66.38 214.06h1.3v1.3h-1.3zM67.37 210.6h1.3v1.3h-1.3zM68.28 207.11h1.3v1.3h-1.3zM69.13 203.61h1.3v1.3h-1.3zM70.07 200.14h1.3v1.3h-1.3zM71.02 196.67h1.3v1.3h-1.3zM71.8 193.15h1.3v1.3h-1.3zM72.53 189.63h1.3v1.3h-1.3zM73.29 186.11h1.3v1.3h-1.3zM74.03 182.59h1.3v1.3h-1.3zM74.68 179.05h1.3v1.3h-1.3zM75.28 175.5h1.3v1.3h-1.3zM75.92 171.95h1.3v1.3h-1.3zM76.55 168.41h1.3v1.3h-1.3zM77.14 164.86h1.3v1.3h-1.3zM77.86 161.33h1.3v1.3h-1.3zM78.76 157.85h1.3v1.3h-1.3zM79.84 154.41h1.3v1.3h-1.3zM81.29 151.12h1.3v1.3h-1.3zM83.37 148.19h1.3v1.3h-1.3zM86.07 145.84h1.3v1.3h-1.3zM89.34 144.35h1.3v1.3h-1.3zM92.9 143.87h1.3v1.3h-1.3zM96.5 143.7h1.3v1.3h-1.3zM100.1 143.65h1.3v1.3h-1.3zM103.7 143.71h1.3v1.3h-1.3zM107.29 143.89h1.3v1.3h-1.3zM110.84 144.44h1.3v1.3h-1.3zM114.08 145.99h1.3v1.3h-1.3zM116.73 148.41h1.3v1.3h-1.3zM118.75 151.38h1.3v1.3h-1.3zM120.16 154.69h1.3v1.3h-1.3zM121.22 158.13h1.3v1.3h-1.3zM122.11 161.62h1.3v1.3h-1.3zM122.81 165.15h1.3v1.3h-1.3zM123.4 168.7h1.3v1.3h-1.3zM124.04 172.24h1.3v1.3h-1.3zM124.67 175.79h1.3v1.3h-1.3zM125.27 179.33h1.3v1.3h-1.3zM125.93 182.87h1.3v1.3h-1.3zM126.68 186.4h1.3v1.3h-1.3zM127.43 189.91h1.3v1.3h-1.3zM128.15 193.44h1.3v1.3h-1.3zM128.95 196.95h1.3v1.3h-1.3zM129.91 200.42h1.3v1.3h-1.3zM130.84 203.9h1.3v1.3h-1.3zM131.69 207.4h1.3v1.3h-1.3zM132.61 210.88h1.3v1.3h-1.3zM133.61 214.34h1.3v1.3h-1.3zM134.72 217.76h1.3v1.3h-1.3zM135.99 221.13h1.3v1.3h-1.3zM138.22 226.54h1.3v1.3h-1.3zM145.02 236.28h1.3v1.3h-1.3zM155.06 242.78h1.3v1.3h-1.3zM177.04 250.87h1.3v1.3h-1.3z" fill="#6fd13a"/>
<path d="M36.63 246.61h1.5v1.5h-1.5zM51.01 239.1h1.5v1.5h-1.5zM59.5 230.73h1.5v1.5h-1.5zM63.24 222.42h1.5v1.5h-1.5zM64.57 219.08h1.5v1.5h-1.5zM65.75 215.68h1.5v1.5h-1.5zM66.78 212.23h1.5v1.5h-1.5zM67.74 208.76h1.5v1.5h-1.5zM68.6 205.26h1.5v1.5h-1.5zM69.48 201.77h1.5v1.5h-1.5zM70.46 198.31h1.5v1.5h-1.5zM71.33 194.81h1.5v1.5h-1.5zM72.07 191.29h1.5v1.5h-1.5zM72.8 187.77h1.5v1.5h-1.5zM73.57 184.25h1.5v1.5h-1.5zM74.27 180.72h1.5v1.5h-1.5zM74.88 177.17h1.5v1.5h-1.5zM75.5 173.62h1.5v1.5h-1.5zM76.14 170.08h1.5v1.5h-1.5zM76.75 166.53h1.5v1.5h-1.5zM77.37 162.99h1.5v1.5h-1.5zM78.19 159.48h1.5v1.5h-1.5zM79.18 156.02h1.5v1.5h-1.5zM80.39 152.63h1.5v1.5h-1.5zM82.13 149.49h1.5v1.5h-1.5zM84.53 146.81h1.5v1.5h-1.5zM87.57 144.91h1.5v1.5h-1.5zM91.01 143.93h1.5v1.5h-1.5zM94.6 143.66h1.5v1.5h-1.5zM98.2 143.56h1.5v1.5h-1.5zM101.8 143.57h1.5v1.5h-1.5zM105.39 143.68h1.5v1.5h-1.5zM108.98 143.97h1.5v1.5h-1.5zM112.4 145.03h1.5v1.5h-1.5zM115.39 147.01h1.5v1.5h-1.5zM117.73 149.73h1.5v1.5h-1.5zM119.43 152.9h1.5v1.5h-1.5zM120.61 156.3h1.5v1.5h-1.5zM121.59 159.77h1.5v1.5h-1.5zM122.39 163.28h1.5v1.5h-1.5zM123 166.82h1.5v1.5h-1.5zM123.61 170.37h1.5v1.5h-1.5zM124.26 173.91h1.5v1.5h-1.5zM124.87 177.46h1.5v1.5h-1.5zM125.48 181.01h1.5v1.5h-1.5zM126.19 184.54h1.5v1.5h-1.5zM126.96 188.05h1.5v1.5h-1.5zM127.69 191.58h1.5v1.5h-1.5zM128.43 195.1h1.5v1.5h-1.5zM129.32 198.59h1.5v1.5h-1.5zM130.29 202.06h1.5v1.5h-1.5zM131.17 205.55h1.5v1.5h-1.5zM132.03 209.04h1.5v1.5h-1.5zM133 212.51h1.5v1.5h-1.5zM134.04 215.96h1.5v1.5h-1.5zM135.24 219.35h1.5v1.5h-1.5zM136.57 222.7h1.5v1.5h-1.5zM140.9 231.74h1.5v1.5h-1.5zM149.72 239.77h1.5v1.5h-1.5zM165.39 247.54h1.5v1.5h-1.5z" fill="#d455d4"/>
</g>
<path d="M18.9 258.5v-1.4M18.9 138.59v1.4M24.35 258.5v-2.4M24.35 138.59v2.4M29.79 258.5v-1.4M29.79 138.59v1.4M35.24 258.5v-2.4M35.24 138.59v2.4M40.69 258.5v-1.4M40.69 138.59v1.4M46.13 258.5v-2.4M46.13 138.59v2.4M51.58 258.5v-1.4M51.58 138.59v1.4M57.03 258.5v-2.4M57.03 138.59v2.4M62.47 258.5v-1.4M62.47 138.59v1.4M67.92 258.5v-2.4M67.92 138.59v2.4M73.37 258.5v-1.4M73.37 138.59v1.4M78.81 258.5v-2.4M78.81 138.59v2.4M84.26 258.5v-1.4M84.26 138.59v1.4M89.71 258.5v-2.4M89.71 138.59v2.4M95.15 258.5v-1.4M95.15 138.59v1.4M100.6 258.5v-2.4M100.6 138.59v2.4M106.05 258.5v-1.4M106.05 138.59v1.4M111.49 258.5v-2.4M111.49 138.59v2.4M116.94 258.5v-1.4M116.94 138.59v1.4M122.39 258.5v-2.4M122.39 138.59v2.4M127.83 258.5v-1.4M127.83 138.59v1.4M133.28 258.5v-2.4M133.28 138.59v2.4M138.73 258.5v-1.4M138.73 138.59v1.4M144.17 258.5v-2.4M144.17 138.59v2.4M149.62 258.5v-1.4M149.62 138.59v1.4M155.07 258.5v-2.4M155.07 138.59v2.4M160.51 258.5v-1.4M160.51 138.59v1.4M165.96 258.5v-2.4M165.96 138.59v2.4M171.41 258.5v-1.4M171.41 138.59v1.4M176.85 258.5v-2.4M176.85 138.59v2.4M182.3 258.5v-1.4M182.3 138.59v1.4M18.9 258.5h2.4M182.3 258.5h-2.4M18.9 252.79h1.4M182.3 252.79h-1.4M18.9 247.08h2.4M182.3 247.08h-2.4M18.9 241.37h1.4M182.3 241.37h-1.4M18.9 235.66h2.4M182.3 235.66h-2.4M18.9 229.95h1.4M182.3 229.95h-1.4M18.9 224.24h2.4M182.3 224.24h-2.4M18.9 218.53h1.4M182.3 218.53h-1.4M18.9 212.82h2.4M182.3 212.82h-2.4M18.9 207.11h1.4M182.3 207.11h-1.4M18.9 201.4h2.4M182.3 201.4h-2.4M18.9 195.69h1.4M182.3 195.69h-1.4M18.9 189.98h2.4M182.3 189.98h-2.4M18.9 184.27h1.4M182.3 184.27h-1.4M18.9 178.56h2.4M182.3 178.56h-2.4M18.9 172.85h1.4M182.3 172.85h-1.4M18.9 167.14h2.4M182.3 167.14h-2.4M18.9 161.43h1.4M182.3 161.43h-1.4M18.9 155.72h2.4M182.3 155.72h-2.4M18.9 150.01h1.4M182.3 150.01h-1.4M18.9 144.3h2.4M182.3 144.3h-2.4M18.9 138.59h1.4M182.3 138.59h-1.4" stroke="#3c3c3c" stroke-width="0.85" fill="none"/>
<rect x="18.9" y="138.59" width="163.4" height="119.91" fill="none" stroke="#3c3c3c" stroke-width="1"/>
<g font-size="5.1" text-anchor="middle" fill="#1a1a1a" stroke="#1a1a1a" stroke-width="0.3"><text x="24.35" y="265.6">86</text><text x="35.24" y="265.6">88</text><text x="46.13" y="265.6">90</text><text x="57.03" y="265.6">92</text><text x="67.92" y="265.6">94</text><text x="78.81" y="265.6">96</text><text x="89.71" y="265.6">98</text><text x="100.6" y="265.6">100</text><text x="111.49" y="265.6">102</text><text x="122.39" y="265.6">104</text><text x="133.28" y="265.6">106</text><text x="144.17" y="265.6">108</text><text x="155.07" y="265.6">110</text><text x="165.96" y="265.6">112</text><text x="176.85" y="265.6">114</text></g>
<g font-size="5.1" text-anchor="end" fill="#1a1a1a" stroke="#1a1a1a" stroke-width="0.3"><text x="16.2" y="260.3">0.0</text><text x="16.2" y="248.88">0.1</text><text x="16.2" y="237.46">0.2</text><text x="16.2" y="226.04">0.3</text><text x="16.2" y="214.62">0.4</text><text x="16.2" y="203.2">0.5</text><text x="16.2" y="191.78">0.6</text><text x="16.2" y="180.36">0.7</text><text x="16.2" y="168.94">0.8</text><text x="16.2" y="157.52">0.9</text><text x="16.2" y="146.1">1.0</text></g>
<text x="100.6" y="275.9" font-size="6.4" text-anchor="middle" fill="#111" stroke="#111" stroke-width="0.25">X-position [mm]</text>
<text transform="translate(4.9 202.5) rotate(-90)" font-size="6.3" text-anchor="middle" fill="#111" stroke="#111" stroke-width="0.25">Relative dose [a.u.]</text>
<g font-size="5" fill="#111" stroke-width="0.25"><rect x="26.1" y="144.19" width="49" height="27" fill="#fff"/><path d="M28.1 148.79h12.7" stroke="#000" stroke-width="2.7"/><path d="M28.1 154.89h12" stroke="#f03c3c" stroke-width="1"/><rect x="34" y="160.24" width="1.5" height="1.5" fill="#6fcf3f"/><rect x="33.9" y="166.34" width="1.7" height="1.7" fill="#cc55cc"/><text x="41.5" y="150.59" stroke="#111">TMR10</text><text x="41.5" y="156.72" stroke="#111">Film</text><text x="41.5" y="162.85" stroke="#111">W2 scint.</text><text x="41.5" y="168.98" stroke="#111">Microdiamond</text></g>
<text x="32" y="188.09" font-size="6.1" fill="#222" stroke="#222" stroke-width="0.18">Collimator:</text>
<text x="32" y="196.19" font-size="6.5" font-weight="bold" fill="#111" stroke="#111" stroke-width="0.25" letter-spacing="0.2">8mm</text>
<path d="M205.55 252.79H368.95M205.55 241.37H368.95M205.55 229.95H368.95M205.55 218.53H368.95M205.55 207.11H368.95M205.55 195.69H368.95M205.55 184.27H368.95M205.55 172.85H368.95M205.55 161.43H368.95M205.55 150.01H368.95" stroke="#f2f2f2" stroke-width="0.6" fill="none"/><path d="M211 138.59V258.5M221.89 138.59V258.5M232.78 138.59V258.5M243.68 138.59V258.5M254.57 138.59V258.5M265.46 138.59V258.5M276.36 138.59V258.5M287.25 138.59V258.5M298.14 138.59V258.5M309.04 138.59V258.5M319.93 138.59V258.5M330.82 138.59V258.5M341.72 138.59V258.5M352.61 138.59V258.5M363.5 138.59V258.5M205.55 247.08H368.95M205.55 235.66H368.95M205.55 224.24H368.95M205.55 212.82H368.95M205.55 201.4H368.95M205.55 189.98H368.95M205.55 178.56H368.95M205.55 167.14H368.95M205.55 155.72H368.95M205.55 144.3H368.95" stroke="#e8e8e8" stroke-width="0.8" fill="none"/>
<g clip-path="url(#k11)">
<polyline points="205.55,252.45 205.96,252.39 206.37,252.32 206.78,252.25 207.19,252.18 207.6,252.1 208.01,252.01 208.42,251.93 208.83,251.84 209.24,251.74 209.65,251.65 210.05,251.55 210.46,251.45 210.87,251.35 211.28,251.24 211.69,251.14 212.1,251.04 212.51,250.93 212.92,250.82 213.33,250.72 213.74,250.62 214.15,250.51 214.56,250.41 214.97,250.3 215.38,250.19 215.79,250.09 216.2,249.98 216.61,249.87 217.02,249.75 217.43,249.64 217.84,249.52 218.25,249.41 218.65,249.28 219.06,249.16 219.47,249.03 219.88,248.9 220.29,248.77 220.7,248.64 221.11,248.5 221.52,248.35 221.93,248.21 222.34,248.05 222.75,247.89 223.16,247.72 223.57,247.55 223.98,247.36 224.39,247.18 224.8,246.98 225.21,246.79 225.62,246.59 226.03,246.38 226.44,246.18 226.85,245.97 227.25,245.77 227.66,245.56 228.07,245.35 228.48,245.15 228.89,244.94 229.3,244.74 229.71,244.54 230.12,244.34 230.53,244.15 230.94,243.95 231.35,243.75 231.76,243.56 232.17,243.36 232.58,243.16 232.99,242.95 233.4,242.74 233.81,242.53 234.22,242.31 234.63,242.09 235.04,241.87 235.45,241.63 235.85,241.39 236.26,241.14 236.67,240.89 237.08,240.64 237.49,240.37 237.9,240.11 238.31,239.83 238.72,239.55 239.13,239.26 239.54,238.96 239.95,238.65 240.36,238.33 240.77,238 241.18,237.66 241.59,237.31 242,236.94 242.41,236.56 242.82,236.18 243.23,235.78 243.64,235.36 244.05,234.92 244.45,234.46 244.86,233.98 245.27,233.47 245.68,232.93 246.09,232.36 246.5,231.75 246.91,231.11 247.32,230.36 247.73,229.5 248.14,228.56 248.55,227.56 248.96,226.53 249.37,225.49 249.78,224.46 250.19,223.44 250.6,222.4 251.01,221.33 251.42,220.23 251.83,219.08 252.24,217.87 252.65,216.6 253.05,215.25 253.46,213.84 253.87,212.38 254.28,210.88 254.69,209.33 255.1,207.71 255.51,206.03 255.92,204.36 256.33,202.73 256.74,201.15 257.15,199.59 257.56,197.98 257.97,196.27 258.38,194.47 258.79,192.59 259.2,190.67 259.61,188.74 260.02,186.76 260.43,184.74 260.84,182.7 261.25,180.65 261.65,178.58 262.06,176.49 262.47,174.37 262.88,172.21 263.29,170.03 263.7,167.77 264.11,165.44 264.52,163.41 264.93,161.65 265.34,160.06 265.75,158.61 266.16,157.28 266.57,156.01 266.98,154.83 267.39,153.78 267.8,152.89 268.21,152.11 268.62,151.4 269.03,150.76 269.44,150.19 269.85,149.67 270.25,149.19 270.66,148.75 271.07,148.33 271.48,147.93 271.89,147.56 272.3,147.22 272.71,146.91 273.12,146.64 273.53,146.41 273.94,146.18 274.35,145.97 274.76,145.76 275.17,145.57 275.58,145.39 275.99,145.22 276.4,145.08 276.81,144.95 277.22,144.85 277.63,144.78 278.04,144.73 278.45,144.68 278.85,144.64 279.26,144.6 279.67,144.56 280.08,144.53 280.49,144.5 280.9,144.47 281.31,144.45 281.72,144.42 282.13,144.4 282.54,144.39 282.95,144.37 283.36,144.36 283.77,144.35 284.18,144.34 284.59,144.33 285,144.32 285.41,144.32 285.82,144.31 286.23,144.31 286.64,144.3 287.05,144.3 287.45,144.3 287.86,144.3 288.27,144.31 288.68,144.31 289.09,144.32 289.5,144.32 289.91,144.33 290.32,144.34 290.73,144.35 291.14,144.36 291.55,144.37 291.96,144.39 292.37,144.4 292.78,144.42 293.19,144.45 293.6,144.47 294.01,144.5 294.42,144.53 294.83,144.56 295.24,144.6 295.65,144.64 296.05,144.68 296.46,144.73 296.87,144.78 297.28,144.85 297.69,144.95 298.1,145.08 298.51,145.22 298.92,145.39 299.33,145.57 299.74,145.76 300.15,145.97 300.56,146.18 300.97,146.41 301.38,146.64 301.79,146.91 302.2,147.22 302.61,147.56 303.02,147.93 303.43,148.33 303.84,148.75 304.25,149.19 304.65,149.67 305.06,150.19 305.47,150.76 305.88,151.4 306.29,152.11 306.7,152.89 307.11,153.78 307.52,154.83 307.93,156.01 308.34,157.28 308.75,158.61 309.16,160.06 309.57,161.65 309.98,163.41 310.39,165.44 310.8,167.77 311.21,170.03 311.62,172.21 312.03,174.37 312.44,176.49 312.85,178.58 313.25,180.65 313.66,182.7 314.07,184.74 314.48,186.76 314.89,188.74 315.3,190.67 315.71,192.59 316.12,194.47 316.53,196.27 316.94,197.98 317.35,199.59 317.76,201.15 318.17,202.73 318.58,204.36 318.99,206.03 319.4,207.71 319.81,209.33 320.22,210.88 320.63,212.38 321.04,213.84 321.45,215.25 321.85,216.6 322.26,217.87 322.67,219.08 323.08,220.23 323.49,221.33 323.9,222.4 324.31,223.44 324.72,224.46 325.13,225.49 325.54,226.53 325.95,227.56 326.36,228.56 326.77,229.5 327.18,230.36 327.59,231.11 328,231.75 328.41,232.36 328.82,232.93 329.23,233.47 329.64,233.98 330.05,234.46 330.45,234.92 330.86,235.36 331.27,235.78 331.68,236.18 332.09,236.56 332.5,236.94 332.91,237.31 333.32,237.66 333.73,238 334.14,238.33 334.55,238.65 334.96,238.96 335.37,239.26 335.78,239.55 336.19,239.83 336.6,240.11 337.01,240.37 337.42,240.64 337.83,240.89 338.24,241.14 338.65,241.39 339.05,241.63 339.46,241.87 339.87,242.09 340.28,242.31 340.69,242.53 341.1,242.74 341.51,242.95 341.92,243.16 342.33,243.36 342.74,243.56 343.15,243.75 343.56,243.95 343.97,244.15 344.38,244.34 344.79,244.54 345.2,244.74 345.61,244.94 346.02,245.15 346.43,245.35 346.84,245.56 347.25,245.77 347.65,245.97 348.06,246.18 348.47,246.38 348.88,246.59 349.29,246.79 349.7,246.98 350.11,247.18 350.52,247.36 350.93,247.55 351.34,247.72 351.75,247.89 352.16,248.05 352.57,248.21 352.98,248.35 353.39,248.5 353.8,248.64 354.21,248.77 354.62,248.9 355.03,249.03 355.44,249.16 355.85,249.28 356.25,249.41 356.66,249.52 357.07,249.64 357.48,249.75 357.89,249.87 358.3,249.98 358.71,250.09 359.12,250.19 359.53,250.3 359.94,250.41 360.35,250.51 360.76,250.62 361.17,250.72 361.58,250.82 361.99,250.93 362.4,251.04 362.81,251.14 363.22,251.24 363.63,251.35 364.04,251.45 364.45,251.55 364.85,251.65 365.26,251.74 365.67,251.84 366.08,251.93 366.49,252.01 366.9,252.1 367.31,252.18 367.72,252.25 368.13,252.32 368.54,252.39 368.95,252.45" fill="none" stroke="#000" stroke-width="2.1" stroke-linejoin="round"/>
<polyline points="205.43,250.97 205.84,250.91 206.24,250.85 206.64,250.78 207.04,250.71 207.44,250.63 207.84,250.55 208.25,250.46 208.65,250.37 209.06,250.28 209.46,250.18 209.87,250.09 210.27,249.99 210.68,249.89 211.09,249.78 211.49,249.68 211.9,249.58 212.31,249.47 212.72,249.36 213.13,249.26 213.54,249.15 213.95,249.05 214.36,248.95 214.77,248.84 215.18,248.73 215.58,248.63 215.99,248.52 216.4,248.41 216.8,248.3 217.21,248.18 217.62,248.07 218.02,247.95 218.43,247.83 218.83,247.71 219.24,247.59 219.64,247.46 220.04,247.33 220.45,247.19 220.85,247.06 221.25,246.91 221.66,246.77 222.05,246.62 222.45,246.46 222.85,246.3 223.25,246.13 223.65,245.95 224.05,245.77 224.45,245.58 224.86,245.38 225.26,245.18 225.67,244.98 226.08,244.78 226.48,244.57 226.89,244.37 227.3,244.16 227.71,243.95 228.13,243.74 228.54,243.54 228.95,243.34 229.37,243.16 229.79,242.97 230.21,242.79 230.63,242.61 231.04,242.43 231.46,242.25 231.87,242.07 232.29,241.88 232.7,241.7 233.11,241.51 233.53,241.31 233.94,241.12 234.36,240.91 234.77,240.71 235.18,240.49 235.6,240.27 236.01,240.05 236.43,239.82 236.85,239.58 237.27,239.34 237.69,239.1 238.11,238.85 238.53,238.6 238.95,238.35 239.37,238.08 239.79,237.81 240.21,237.53 240.64,237.24 241.07,236.93 241.49,236.62 241.92,236.29 242.35,235.95 242.79,235.6 243.22,235.24 243.65,234.86 244.09,234.46 244.53,234.04 244.98,233.6 245.43,233.12 245.88,232.62 246.33,232.09 246.79,231.52 247.26,230.9 247.74,230.17 248.19,229.32 248.6,228.38 249.01,227.39 249.42,226.37 249.83,225.34 250.24,224.33 250.65,223.32 251.06,222.29 251.48,221.22 251.89,220.13 252.3,218.98 252.71,217.78 253.12,216.52 253.53,215.17 253.95,213.77 254.36,212.32 254.77,210.83 255.18,209.29 255.59,207.67 256,206.01 256.41,204.35 256.82,202.74 257.22,201.18 257.63,199.62 258.04,198.02 258.46,196.32 258.87,194.53 259.28,192.66 259.69,190.75 260.1,188.83 260.51,186.86 260.92,184.84 261.33,182.8 261.74,180.75 262.15,178.68 262.56,176.58 262.96,174.46 263.37,172.3 263.78,170.12 264.19,167.86 264.6,165.53 265.01,163.51 265.42,161.77 265.82,160.19 266.23,158.75 266.64,157.43 267.04,156.17 267.45,155.02 267.85,154 268.25,153.15 268.64,152.42 269.04,151.78 269.44,151.23 269.84,150.78 270.23,150.41 270.63,150.13 271.03,149.91 271.43,149.74 271.83,149.63 272.22,149.54 272.61,149.47 273,149.39 273.38,149.28 273.78,149.12 274.18,148.88 274.58,148.56 274.98,148.17 275.38,147.73 275.77,147.28 276.17,146.82 276.55,146.39 276.94,145.98 277.32,145.61 277.7,145.28 278.09,144.98 278.5,144.7 278.9,144.41 279.31,144.15 279.72,143.9 280.12,143.68 280.53,143.51 280.93,143.4 281.34,143.35 281.75,143.37 282.15,143.44 282.56,143.57 282.97,143.73 283.37,143.91 283.78,144.1 284.19,144.27 284.6,144.43 285.01,144.58 285.42,144.71 285.82,144.84 286.23,144.98 286.64,145.14 287.05,145.33 287.45,145.55 287.86,145.8 288.27,146.07 288.68,146.35 289.08,146.62 289.49,146.85 289.9,147.02 290.31,147.12 290.72,147.12 291.13,147.04 291.53,146.89 291.94,146.67 292.35,146.42 292.75,146.16 293.16,145.9 293.57,145.66 293.97,145.46 294.38,145.28 294.78,145.13 295.19,145.01 295.6,144.91 296,144.83 296.41,144.77 296.8,144.72 297.18,144.72 297.56,144.77 297.95,144.87 298.33,145.02 298.73,145.21 299.12,145.44 299.52,145.7 299.92,145.98 300.32,146.28 300.72,146.57 301.12,146.87 301.5,147.18 301.89,147.51 302.28,147.87 302.67,148.25 303.07,148.65 303.47,149.08 303.87,149.52 304.27,149.98 304.66,150.48 305.06,151.04 305.46,151.66 305.86,152.35 306.25,153.11 306.65,153.97 307.05,155 307.46,156.17 307.86,157.43 308.27,158.75 308.68,160.19 309.08,161.77 309.49,163.51 309.9,165.53 310.31,167.86 310.72,170.12 311.13,172.3 311.54,174.46 311.94,176.58 312.35,178.68 312.76,180.75 313.17,182.8 313.58,184.84 313.99,186.86 314.4,188.83 314.81,190.75 315.22,192.66 315.63,194.53 316.04,196.32 316.46,198.02 316.87,199.62 317.28,201.18 317.68,202.74 318.09,204.35 318.5,206.01 318.91,207.67 319.32,209.29 319.73,210.83 320.14,212.32 320.55,213.77 320.97,215.17 321.38,216.52 321.79,217.78 322.2,218.98 322.61,220.13 323.02,221.22 323.44,222.29 323.85,223.32 324.26,224.33 324.67,225.34 325.08,226.37 325.49,227.39 325.9,228.38 326.31,229.32 326.76,230.17 327.24,230.9 327.71,231.52 328.17,232.09 328.62,232.62 329.07,233.12 329.52,233.6 329.97,234.04 330.41,234.46 330.85,234.86 331.28,235.24 331.71,235.6 332.15,235.95 332.58,236.29 333.01,236.62 333.43,236.93 333.86,237.24 334.29,237.53 334.71,237.81 335.13,238.08 335.55,238.35 335.97,238.6 336.39,238.85 336.81,239.1 337.23,239.34 337.65,239.58 338.07,239.82 338.49,240.05 338.9,240.27 339.32,240.49 339.73,240.71 340.14,240.91 340.56,241.12 340.97,241.31 341.39,241.51 341.8,241.7 342.21,241.88 342.63,242.07 343.04,242.25 343.46,242.43 343.87,242.61 344.29,242.79 344.71,242.97 345.13,243.16 345.55,243.34 345.96,243.54 346.37,243.74 346.79,243.95 347.2,244.16 347.61,244.37 348.02,244.57 348.42,244.78 348.83,244.98 349.24,245.18 349.64,245.38 350.05,245.58 350.45,245.77 350.85,245.95 351.25,246.13 351.65,246.3 352.05,246.46 352.45,246.62 352.84,246.77 353.25,246.91 353.65,247.06 354.05,247.19 354.46,247.33 354.86,247.46 355.26,247.59 355.67,247.71 356.07,247.83 356.48,247.95 356.88,248.07 357.29,248.18 357.7,248.3 358.1,248.41 358.51,248.52 358.92,248.63 359.32,248.73 359.73,248.84 360.14,248.95 360.55,249.05 360.96,249.15 361.37,249.26 361.78,249.36 362.19,249.47 362.6,249.58 363.01,249.68 363.41,249.78 363.82,249.89 364.23,249.99 364.63,250.09 365.04,250.18 365.44,250.28 365.85,250.37 366.25,250.46 366.66,250.55 367.06,250.63 367.46,250.71 367.86,250.78 368.26,250.85 368.66,250.91 369.07,250.97" fill="none" stroke="#ee2a2a" stroke-width="0.9" stroke-linejoin="round"/>
<path d="M211.93 250.26h1.3v1.3h-1.3zM232.52 242.21h1.3v1.3h-1.3zM242.32 235.38h1.3v1.3h-1.3zM248.55 225.27h1.3v1.3h-1.3zM250.44 220.47h1.3v1.3h-1.3zM251.76 216.69h1.3v1.3h-1.3zM252.91 212.86h1.3v1.3h-1.3zM253.96 209h1.3v1.3h-1.3zM254.93 205.12h1.3v1.3h-1.3zM255.9 201.24h1.3v1.3h-1.3zM256.9 197.37h1.3v1.3h-1.3zM257.81 193.47h1.3v1.3h-1.3zM258.65 189.56h1.3v1.3h-1.3zM259.46 185.65h1.3v1.3h-1.3zM260.25 181.72h1.3v1.3h-1.3zM261.03 177.8h1.3v1.3h-1.3zM261.79 173.87h1.3v1.3h-1.3zM262.54 169.94h1.3v1.3h-1.3zM263.25 166.01h1.3v1.3h-1.3zM264.02 162.08h1.3v1.3h-1.3zM265.03 158.21h1.3v1.3h-1.3zM266.25 154.4h1.3v1.3h-1.3zM267.94 150.79h1.3v1.3h-1.3zM270.43 147.67h1.3v1.3h-1.3zM273.66 145.34h1.3v1.3h-1.3zM277.42 144.07h1.3v1.3h-1.3zM281.41 143.76h1.3v1.3h-1.3zM285.41 143.66h1.3v1.3h-1.3zM289.41 143.71h1.3v1.3h-1.3zM293.4 143.94h1.3v1.3h-1.3zM297.36 144.81h1.3v1.3h-1.3zM300.95 146.98h1.3v1.3h-1.3zM303.87 150.31h1.3v1.3h-1.3zM306.03 154.89h1.3v1.3h-1.3zM307.47 159.59h1.3v1.3h-1.3zM308.6 164.55h1.3v1.3h-1.3zM309.52 169.67h1.3v1.3h-1.3zM310.23 173.42h1.3v1.3h-1.3zM310.96 177.19h1.3v1.3h-1.3zM311.71 180.99h1.3v1.3h-1.3zM312.48 184.82h1.3v1.3h-1.3zM313.27 188.62h1.3v1.3h-1.3zM314.06 192.36h1.3v1.3h-1.3zM314.89 196.04h1.3v1.3h-1.3zM315.75 199.46h1.3v1.3h-1.3zM316.7 203.14h1.3v1.3h-1.3zM317.7 207.24h1.3v1.3h-1.3zM318.66 210.89h1.3v1.3h-1.3zM319.66 214.43h1.3v1.3h-1.3zM320.74 217.86h1.3v1.3h-1.3zM321.95 221.21h1.3v1.3h-1.3zM323.34 224.71h1.3v1.3h-1.3zM326.63 231.66h1.3v1.3h-1.3zM334.74 239.38h1.3v1.3h-1.3zM348.16 246.43h1.3v1.3h-1.3z" fill="#6fd13a"/>
<path d="M223.27 246.59h1.5v1.5h-1.5zM237.58 239.07h1.5v1.5h-1.5zM245.99 230.63h1.5v1.5h-1.5zM249.62 222.23h1.5v1.5h-1.5zM251.02 218.49h1.5v1.5h-1.5zM252.25 214.68h1.5v1.5h-1.5zM253.34 210.83h1.5v1.5h-1.5zM254.35 206.96h1.5v1.5h-1.5zM255.3 203.08h1.5v1.5h-1.5zM256.3 199.21h1.5v1.5h-1.5zM257.27 195.32h1.5v1.5h-1.5zM258.13 191.42h1.5v1.5h-1.5zM258.96 187.5h1.5v1.5h-1.5zM259.76 183.59h1.5v1.5h-1.5zM260.54 179.66h1.5v1.5h-1.5zM261.31 175.74h1.5v1.5h-1.5zM262.07 171.81h1.5v1.5h-1.5zM262.8 167.88h1.5v1.5h-1.5zM263.5 163.94h1.5v1.5h-1.5zM264.4 160.04h1.5v1.5h-1.5zM265.51 156.2h1.5v1.5h-1.5zM266.89 152.45h1.5v1.5h-1.5zM268.99 149.05h1.5v1.5h-1.5zM271.83 146.26h1.5v1.5h-1.5zM275.38 144.42h1.5v1.5h-1.5zM279.31 143.78h1.5v1.5h-1.5zM283.31 143.6h1.5v1.5h-1.5zM287.31 143.55h1.5v1.5h-1.5zM291.3 143.64h1.5v1.5h-1.5zM295.29 143.93h1.5v1.5h-1.5zM299.1 145.06h1.5v1.5h-1.5zM302.39 147.3h1.5v1.5h-1.5zM304.95 150.36h1.5v1.5h-1.5zM306.72 153.94h1.5v1.5h-1.5zM307.96 157.74h1.5v1.5h-1.5zM308.99 161.61h1.5v1.5h-1.5zM309.79 165.52h1.5v1.5h-1.5zM310.49 169.46h1.5v1.5h-1.5zM311.23 173.39h1.5v1.5h-1.5zM311.99 177.32h1.5v1.5h-1.5zM312.77 181.24h1.5v1.5h-1.5zM313.56 185.17h1.5v1.5h-1.5zM314.37 189.08h1.5v1.5h-1.5zM315.21 192.99h1.5v1.5h-1.5zM316.11 196.89h1.5v1.5h-1.5zM317.1 200.76h1.5v1.5h-1.5zM318.08 204.64h1.5v1.5h-1.5zM319.04 208.53h1.5v1.5h-1.5zM320.09 212.39h1.5v1.5h-1.5zM321.22 216.22h1.5v1.5h-1.5zM322.53 220h1.5v1.5h-1.5zM324.2 224.29h1.5v1.5h-1.5zM330.11 234.61h1.5v1.5h-1.5zM339.74 241.68h1.5v1.5h-1.5zM359.38 249.7h1.5v1.5h-1.5z" fill="#d455d4"/>
</g>
<path d="M205.55 258.5v-1.4M205.55 138.59v1.4M211 258.5v-2.4M211 138.59v2.4M216.44 258.5v-1.4M216.44 138.59v1.4M221.89 258.5v-2.4M221.89 138.59v2.4M227.34 258.5v-1.4M227.34 138.59v1.4M232.78 258.5v-2.4M232.78 138.59v2.4M238.23 258.5v-1.4M238.23 138.59v1.4M243.68 258.5v-2.4M243.68 138.59v2.4M249.12 258.5v-1.4M249.12 138.59v1.4M254.57 258.5v-2.4M254.57 138.59v2.4M260.02 258.5v-1.4M260.02 138.59v1.4M265.46 258.5v-2.4M265.46 138.59v2.4M270.91 258.5v-1.4M270.91 138.59v1.4M276.36 258.5v-2.4M276.36 138.59v2.4M281.8 258.5v-1.4M281.8 138.59v1.4M287.25 258.5v-2.4M287.25 138.59v2.4M292.7 258.5v-1.4M292.7 138.59v1.4M298.14 258.5v-2.4M298.14 138.59v2.4M303.59 258.5v-1.4M303.59 138.59v1.4M309.04 258.5v-2.4M309.04 138.59v2.4M314.48 258.5v-1.4M314.48 138.59v1.4M319.93 258.5v-2.4M319.93 138.59v2.4M325.38 258.5v-1.4M325.38 138.59v1.4M330.82 258.5v-2.4M330.82 138.59v2.4M336.27 258.5v-1.4M336.27 138.59v1.4M341.72 258.5v-2.4M341.72 138.59v2.4M347.16 258.5v-1.4M347.16 138.59v1.4M352.61 258.5v-2.4M352.61 138.59v2.4M358.06 258.5v-1.4M358.06 138.59v1.4M363.5 258.5v-2.4M363.5 138.59v2.4M368.95 258.5v-1.4M368.95 138.59v1.4M205.55 258.5h2.4M368.95 258.5h-2.4M205.55 252.79h1.4M368.95 252.79h-1.4M205.55 247.08h2.4M368.95 247.08h-2.4M205.55 241.37h1.4M368.95 241.37h-1.4M205.55 235.66h2.4M368.95 235.66h-2.4M205.55 229.95h1.4M368.95 229.95h-1.4M205.55 224.24h2.4M368.95 224.24h-2.4M205.55 218.53h1.4M368.95 218.53h-1.4M205.55 212.82h2.4M368.95 212.82h-2.4M205.55 207.11h1.4M368.95 207.11h-1.4M205.55 201.4h2.4M368.95 201.4h-2.4M205.55 195.69h1.4M368.95 195.69h-1.4M205.55 189.98h2.4M368.95 189.98h-2.4M205.55 184.27h1.4M368.95 184.27h-1.4M205.55 178.56h2.4M368.95 178.56h-2.4M205.55 172.85h1.4M368.95 172.85h-1.4M205.55 167.14h2.4M368.95 167.14h-2.4M205.55 161.43h1.4M368.95 161.43h-1.4M205.55 155.72h2.4M368.95 155.72h-2.4M205.55 150.01h1.4M368.95 150.01h-1.4M205.55 144.3h2.4M368.95 144.3h-2.4M205.55 138.59h1.4M368.95 138.59h-1.4" stroke="#3c3c3c" stroke-width="0.85" fill="none"/>
<rect x="205.55" y="138.59" width="163.4" height="119.91" fill="none" stroke="#3c3c3c" stroke-width="1"/>
<g font-size="5.1" text-anchor="middle" fill="#1a1a1a" stroke="#1a1a1a" stroke-width="0.3"><text x="211" y="265.6">86</text><text x="221.89" y="265.6">88</text><text x="232.78" y="265.6">90</text><text x="243.68" y="265.6">92</text><text x="254.57" y="265.6">94</text><text x="265.46" y="265.6">96</text><text x="276.36" y="265.6">98</text><text x="287.25" y="265.6">100</text><text x="298.14" y="265.6">102</text><text x="309.04" y="265.6">104</text><text x="319.93" y="265.6">106</text><text x="330.82" y="265.6">108</text><text x="341.72" y="265.6">110</text><text x="352.61" y="265.6">112</text><text x="363.5" y="265.6">114</text></g>
<g font-size="5.1" text-anchor="end" fill="#1a1a1a" stroke="#1a1a1a" stroke-width="0.3"><text x="202.85" y="260.3">0.0</text><text x="202.85" y="248.88">0.1</text><text x="202.85" y="237.46">0.2</text><text x="202.85" y="226.04">0.3</text><text x="202.85" y="214.62">0.4</text><text x="202.85" y="203.2">0.5</text><text x="202.85" y="191.78">0.6</text><text x="202.85" y="180.36">0.7</text><text x="202.85" y="168.94">0.8</text><text x="202.85" y="157.52">0.9</text><text x="202.85" y="146.1">1.0</text></g>
<text x="287.25" y="275.9" font-size="6.4" text-anchor="middle" fill="#111" stroke="#111" stroke-width="0.25">Y-position [mm]</text>
<text transform="translate(191.55 202.5) rotate(-90)" font-size="6.3" text-anchor="middle" fill="#111" stroke="#111" stroke-width="0.25">Relative dose [a.u.]</text>
<g font-size="5" fill="#111" stroke-width="0.25"><rect x="212.75" y="144.19" width="49" height="27" fill="#fff"/><path d="M214.75 148.79h12.7" stroke="#000" stroke-width="2.7"/><path d="M214.75 154.89h12" stroke="#f03c3c" stroke-width="1"/><rect x="220.65" y="160.24" width="1.5" height="1.5" fill="#6fcf3f"/><rect x="220.55" y="166.34" width="1.7" height="1.7" fill="#cc55cc"/><text x="228.15" y="150.59" stroke="#111">TMR10</text><text x="228.15" y="156.72" stroke="#111">Film</text><text x="228.15" y="162.85" stroke="#111">W2 scint.</text><text x="228.15" y="168.98" stroke="#111">Microdiamond</text></g>
<path d="M392.2 252.79H555.6M392.2 241.37H555.6M392.2 229.95H555.6M392.2 218.53H555.6M392.2 207.11H555.6M392.2 195.69H555.6M392.2 184.27H555.6M392.2 172.85H555.6M392.2 161.43H555.6M392.2 150.01H555.6" stroke="#f2f2f2" stroke-width="0.6" fill="none"/><path d="M397.65 138.59V258.5M408.54 138.59V258.5M419.43 138.59V258.5M430.33 138.59V258.5M441.22 138.59V258.5M452.11 138.59V258.5M463.01 138.59V258.5M473.9 138.59V258.5M484.79 138.59V258.5M495.69 138.59V258.5M506.58 138.59V258.5M517.47 138.59V258.5M528.37 138.59V258.5M539.26 138.59V258.5M550.15 138.59V258.5M392.2 247.08H555.6M392.2 235.66H555.6M392.2 224.24H555.6M392.2 212.82H555.6M392.2 201.4H555.6M392.2 189.98H555.6M392.2 178.56H555.6M392.2 167.14H555.6M392.2 155.72H555.6M392.2 144.3H555.6" stroke="#e8e8e8" stroke-width="0.8" fill="none"/>
<g clip-path="url(#k12)">
<polyline points="392.2,258.02 392.61,258.02 393.02,258.02 393.43,258.01 393.84,258.01 394.25,258.01 394.66,258 395.07,258 395.48,257.99 395.89,257.99 396.3,257.98 396.7,257.97 397.11,257.97 397.52,257.96 397.93,257.96 398.34,257.95 398.75,257.94 399.16,257.93 399.57,257.93 399.98,257.92 400.39,257.91 400.8,257.9 401.21,257.9 401.62,257.89 402.03,257.88 402.44,257.87 402.85,257.86 403.26,257.85 403.67,257.84 404.08,257.83 404.49,257.83 404.9,257.82 405.3,257.81 405.71,257.8 406.12,257.79 406.53,257.78 406.94,257.76 407.35,257.75 407.76,257.74 408.17,257.73 408.58,257.72 408.99,257.71 409.4,257.7 409.81,257.69 410.22,257.67 410.63,257.66 411.04,257.65 411.45,257.63 411.86,257.61 412.27,257.6 412.68,257.58 413.09,257.56 413.5,257.54 413.9,257.52 414.31,257.49 414.72,257.47 415.13,257.44 415.54,257.42 415.95,257.39 416.36,257.36 416.77,257.33 417.18,257.3 417.59,257.26 418,257.23 418.41,257.19 418.82,257.15 419.23,257.12 419.64,257.07 420.05,257.03 420.46,256.99 420.87,256.94 421.28,256.9 421.69,256.85 422.1,256.8 422.5,256.74 422.91,256.69 423.32,256.63 423.73,256.57 424.14,256.51 424.55,256.45 424.96,256.38 425.37,256.28 425.78,256.17 426.19,256.03 426.6,255.87 427.01,255.7 427.42,255.52 427.83,255.33 428.24,255.14 428.65,254.93 429.06,254.73 429.47,254.52 429.88,254.32 430.29,254.09 430.7,253.86 431.1,253.61 431.51,253.35 431.92,253.08 432.33,252.8 432.74,252.51 433.15,252.2 433.56,251.89 433.97,251.56 434.38,251.23 434.79,250.88 435.2,250.52 435.61,250.12 436.02,249.68 436.43,249.21 436.84,248.68 437.25,248.06 437.66,247.34 438.07,246.55 438.48,245.68 438.89,244.76 439.3,243.8 439.7,242.81 440.11,241.74 440.52,240.57 440.93,239.32 441.34,238.01 441.75,236.68 442.16,235.31 442.57,233.89 442.98,232.4 443.39,230.84 443.8,229.21 444.21,227.49 444.62,225.67 445.03,223.73 445.44,221.63 445.85,219.35 446.26,216.9 446.67,214.23 447.08,211.39 447.49,208.29 447.9,204.97 448.3,202.2 448.71,200.06 449.12,197.94 449.53,195.14 449.94,191.1 450.35,187.09 450.76,184.27 451.17,182.01 451.58,179.78 451.99,177.55 452.4,175.3 452.81,172.77 453.22,169.9 453.63,167.58 454.04,165.81 454.45,164.29 454.86,162.88 455.27,161.43 455.68,159.94 456.09,158.48 456.5,157.16 456.9,156.07 457.31,155.21 457.72,154.49 458.13,153.83 458.54,153.17 458.95,152.53 459.36,151.91 459.77,151.32 460.18,150.74 460.59,150.18 461,149.63 461.41,149.05 461.82,148.47 462.23,147.91 462.64,147.38 463.05,146.91 463.46,146.51 463.87,146.22 464.28,145.98 464.69,145.77 465.1,145.59 465.5,145.43 465.91,145.29 466.32,145.16 466.73,145.05 467.14,144.94 467.55,144.83 467.96,144.73 468.37,144.65 468.78,144.58 469.19,144.53 469.6,144.5 470.01,144.48 470.42,144.45 470.83,144.42 471.24,144.4 471.65,144.38 472.06,144.36 472.47,144.34 472.88,144.33 473.29,144.32 473.7,144.31 474.1,144.3 474.51,144.3 474.92,144.3 475.33,144.3 475.74,144.31 476.15,144.32 476.56,144.33 476.97,144.34 477.38,144.36 477.79,144.38 478.2,144.4 478.61,144.42 479.02,144.45 479.43,144.48 479.84,144.5 480.25,144.54 480.66,144.58 481.07,144.65 481.48,144.73 481.89,144.83 482.3,144.94 482.7,145.05 483.11,145.16 483.52,145.29 483.93,145.43 484.34,145.59 484.75,145.78 485.16,145.98 485.57,146.22 485.98,146.52 486.39,146.91 486.8,147.38 487.21,147.91 487.62,148.48 488.03,149.06 488.44,149.63 488.85,150.19 489.26,150.75 489.67,151.32 490.08,151.92 490.49,152.54 490.9,153.18 491.3,153.83 491.71,154.49 492.12,155.22 492.53,156.08 492.94,157.17 493.35,158.49 493.76,159.95 494.17,161.45 494.58,162.89 494.99,164.31 495.4,165.83 495.81,167.59 496.22,169.93 496.63,172.8 497.04,175.32 497.45,177.58 497.86,179.81 498.27,182.03 498.68,184.29 499.09,187.13 499.5,191.15 499.9,195.17 500.31,197.96 500.72,200.08 501.13,202.22 501.54,205 501.95,208.33 502.36,211.42 502.77,214.26 503.18,216.93 503.59,219.38 504,221.66 504.41,223.75 504.82,225.69 505.23,227.51 505.64,229.23 506.05,230.86 506.46,232.42 506.87,233.9 507.28,235.33 507.69,236.69 508.1,238.03 508.5,239.33 508.91,240.58 509.32,241.75 509.73,242.82 510.14,243.81 510.55,244.77 510.96,245.69 511.37,246.56 511.78,247.35 512.19,248.07 512.6,248.68 513.01,249.21 513.42,249.69 513.83,250.12 514.24,250.52 514.65,250.89 515.06,251.23 515.47,251.57 515.88,251.89 516.29,252.21 516.7,252.51 517.1,252.8 517.51,253.09 517.92,253.36 518.33,253.62 518.74,253.86 519.15,254.1 519.56,254.32 519.97,254.53 520.38,254.73 520.79,254.94 521.2,255.14 521.61,255.34 522.02,255.53 522.43,255.71 522.84,255.88 523.25,256.03 523.66,256.17 524.07,256.28 524.48,256.38 524.89,256.45 525.3,256.52 525.7,256.57 526.11,256.63 526.52,256.69 526.93,256.74 527.34,256.8 527.75,256.85 528.16,256.9 528.57,256.94 528.98,256.99 529.39,257.03 529.8,257.07 530.21,257.12 530.62,257.16 531.03,257.19 531.44,257.23 531.85,257.26 532.26,257.3 532.67,257.33 533.08,257.36 533.49,257.39 533.9,257.42 534.3,257.44 534.71,257.47 535.12,257.49 535.53,257.52 535.94,257.54 536.35,257.56 536.76,257.58 537.17,257.6 537.58,257.62 537.99,257.63 538.4,257.65 538.81,257.66 539.22,257.68 539.63,257.69 540.04,257.7 540.45,257.71 540.86,257.72 541.27,257.73 541.68,257.74 542.09,257.75 542.5,257.76 542.9,257.78 543.31,257.79 543.72,257.8 544.13,257.81 544.54,257.82 544.95,257.83 545.36,257.83 545.77,257.84 546.18,257.85 546.59,257.86 547,257.87 547.41,257.88 547.82,257.89 548.23,257.9 548.64,257.9 549.05,257.91 549.46,257.92 549.87,257.93 550.28,257.93 550.69,257.94 551.1,257.95 551.5,257.96 551.91,257.96 552.32,257.97 552.73,257.97 553.14,257.98 553.55,257.99 553.96,257.99 554.37,258 554.78,258 555.19,258.01 555.6,258.01" fill="none" stroke="#000" stroke-width="2.1" stroke-linejoin="round"/>
<polyline points="392.19,257.22 392.6,257.22 393.01,257.22 393.42,257.21 393.83,257.21 394.24,257.21 394.65,257.2 395.06,257.2 395.47,257.19 395.88,257.19 396.28,257.18 396.69,257.17 397.1,257.17 397.51,257.16 397.92,257.16 398.33,257.15 398.74,257.14 399.15,257.13 399.56,257.13 399.97,257.12 400.38,257.11 400.78,257.1 401.19,257.1 401.6,257.09 402.01,257.08 402.42,257.07 402.83,257.06 403.24,257.05 403.65,257.04 404.06,257.03 404.47,257.03 404.88,257.02 405.29,257.01 405.69,257 406.1,256.99 406.51,256.98 406.92,256.97 407.33,256.95 407.74,256.94 408.15,256.93 408.56,256.92 408.97,256.91 409.38,256.9 409.79,256.89 410.19,256.88 410.6,256.86 411.01,256.85 411.42,256.83 411.82,256.82 412.23,256.8 412.64,256.78 413.05,256.76 413.45,256.74 413.86,256.72 414.27,256.69 414.68,256.67 415.08,256.65 415.49,256.62 415.9,256.59 416.3,256.56 416.71,256.53 417.12,256.5 417.52,256.47 417.93,256.43 418.34,256.4 418.74,256.36 419.15,256.32 419.56,256.28 419.96,256.24 420.37,256.19 420.78,256.15 421.18,256.1 421.59,256.05 422,256 422.4,255.95 422.81,255.9 423.21,255.84 423.62,255.78 424.03,255.72 424.42,255.66 424.8,255.6 425.17,255.51 425.54,255.4 425.92,255.27 426.31,255.13 426.7,254.97 427.09,254.8 427.49,254.61 427.89,254.42 428.29,254.22 428.7,254.01 429.11,253.81 429.5,253.61 429.9,253.4 430.29,253.17 430.68,252.93 431.08,252.68 431.48,252.42 431.87,252.15 432.27,251.86 432.67,251.57 433.07,251.26 433.47,250.94 433.87,250.62 434.26,250.28 434.65,249.93 435.04,249.56 435.42,249.15 435.81,248.7 436.19,248.21 436.57,247.64 436.95,246.96 437.35,246.19 437.75,245.35 438.15,244.44 438.64,243.53 439.12,242.58 439.61,241.56 440.12,240.43 440.63,239.22 441.15,237.95 441.67,236.65 442.19,235.32 442.72,233.93 443.26,232.47 443.8,230.95 444.29,229.33 444.7,227.6 445.11,225.78 445.52,223.83 445.93,221.73 446.34,219.44 446.75,216.98 447.16,214.31 447.57,211.46 447.98,208.36 448.39,205.04 448.8,202.28 449.21,200.16 449.62,198.02 450.03,195.2 450.44,191.16 450.85,187.15 451.26,184.35 451.66,182.1 452.07,179.88 452.48,177.65 452.89,175.39 453.3,172.85 453.71,170 454.12,167.7 454.52,165.99 454.93,164.51 455.34,163.14 455.75,161.76 456.16,160.34 456.57,158.99 456.97,157.81 457.37,156.88 457.76,156.2 458.15,155.63 458.56,155.09 458.97,154.52 459.37,153.94 459.78,153.33 460.18,152.7 460.59,152.05 460.99,151.38 461.4,150.69 461.82,149.97 462.23,149.25 462.63,148.55 463.02,147.91 463.41,147.35 463.78,146.88 464.14,146.5 464.51,146.18 464.9,145.86 465.29,145.57 465.68,145.3 466.07,145.06 466.47,144.84 466.87,144.66 467.27,144.51 467.67,144.41 468.07,144.34 468.46,144.33 468.85,144.35 469.24,144.41 469.64,144.49 470.04,144.57 470.45,144.64 470.86,144.7 471.27,144.74 471.67,144.77 472.08,144.79 472.49,144.8 472.89,144.8 473.3,144.8 473.7,144.8 474.11,144.8 474.52,144.8 474.92,144.8 475.33,144.8 475.73,144.81 476.14,144.82 476.55,144.83 476.95,144.84 477.36,144.86 477.77,144.88 478.17,144.9 478.58,144.92 478.99,144.95 479.39,144.97 479.8,145 480.2,145.03 480.59,145.08 480.98,145.14 481.37,145.22 481.77,145.32 482.17,145.42 482.57,145.53 482.97,145.64 483.37,145.77 483.76,145.9 484.15,146.06 484.54,146.23 484.92,146.42 485.3,146.64 485.66,146.9 486.03,147.25 486.41,147.7 486.81,148.21 487.21,148.77 487.62,149.35 488.03,149.93 488.44,150.48 488.85,151.04 489.26,151.61 489.66,152.2 490.07,152.81 490.47,153.44 490.88,154.1 491.28,154.75 491.68,155.45 492.07,156.27 492.47,157.33 492.87,158.63 493.28,160.09 493.69,161.58 494.1,163.03 494.51,164.44 494.91,165.95 495.32,167.69 495.73,170.01 496.13,172.87 496.55,175.4 496.96,177.67 497.37,179.9 497.77,182.12 498.18,184.37 498.59,187.18 499,191.2 499.41,195.23 499.82,198.04 500.23,200.18 500.64,202.31 501.05,205.07 501.46,208.39 501.87,211.49 502.28,214.34 502.69,217 503.1,219.46 503.51,221.75 503.92,223.85 504.33,225.79 504.74,227.62 505.15,229.34 505.64,230.96 506.18,232.49 506.72,233.95 507.25,235.34 507.77,236.67 508.29,237.97 508.81,239.23 509.32,240.44 509.82,241.57 510.32,242.59 510.8,243.53 511.28,244.45 511.69,245.36 512.09,246.2 512.48,246.97 512.87,247.65 513.25,248.22 513.63,248.71 514.01,249.15 514.4,249.56 514.78,249.93 515.17,250.28 515.57,250.62 515.97,250.94 516.37,251.26 516.77,251.57 517.17,251.86 517.56,252.15 517.96,252.42 518.36,252.69 518.75,252.93 519.15,253.17 519.54,253.4 519.93,253.61 520.33,253.81 520.74,254.02 521.15,254.22 521.55,254.42 521.95,254.61 522.35,254.8 522.74,254.97 523.13,255.13 523.52,255.28 523.9,255.4 524.27,255.51 524.64,255.6 525.01,255.66 525.41,255.72 525.82,255.78 526.22,255.84 526.63,255.9 527.04,255.95 527.44,256 527.85,256.05 528.26,256.1 528.66,256.15 529.07,256.19 529.47,256.24 529.88,256.28 530.29,256.32 530.69,256.36 531.1,256.4 531.51,256.43 531.91,256.47 532.32,256.5 532.73,256.53 533.13,256.56 533.54,256.59 533.95,256.62 534.36,256.65 534.76,256.67 535.17,256.7 535.58,256.72 535.98,256.74 536.39,256.76 536.8,256.78 537.21,256.8 537.61,256.82 538.02,256.83 538.43,256.85 538.84,256.86 539.24,256.88 539.65,256.89 540.06,256.9 540.47,256.91 540.88,256.92 541.29,256.93 541.7,256.94 542.11,256.95 542.52,256.97 542.92,256.98 543.33,256.99 543.74,257 544.15,257.01 544.56,257.02 544.97,257.03 545.38,257.03 545.79,257.04 546.2,257.05 546.61,257.06 547.02,257.07 547.43,257.08 547.84,257.09 548.24,257.1 548.65,257.1 549.06,257.11 549.47,257.12 549.88,257.13 550.29,257.14 550.7,257.14 551.11,257.15 551.52,257.16 551.93,257.16 552.34,257.17 552.74,257.17 553.15,257.18 553.56,257.19 553.97,257.19 554.38,257.2 554.79,257.2 555.2,257.21 555.61,257.21" fill="none" stroke="#ee2a2a" stroke-width="0.9" stroke-linejoin="round"/>
<path d="M398.6 257.13h1.6v1.6h-1.6zM422.55 255.83h1.6v1.6h-1.6zM438.73 242.44h1.6v1.6h-1.6zM440.26 238.11h1.6v1.6h-1.6zM441.6 233.71h1.6v1.6h-1.6zM442.79 229.26h1.6v1.6h-1.6zM443.84 224.78h1.6v1.6h-1.6zM444.74 220.27h1.6v1.6h-1.6zM445.51 215.74h1.6v1.6h-1.6zM446.19 211.19h1.6v1.6h-1.6zM446.79 206.63h1.6v1.6h-1.6zM447.39 202.07h1.6v1.6h-1.6zM448.25 197.55h1.6v1.6h-1.6zM448.88 193h1.6v1.6h-1.6zM449.33 188.42h1.6v1.6h-1.6zM449.9 183.85h1.6v1.6h-1.6zM450.72 179.33h1.6v1.6h-1.6zM451.55 174.8h1.6v1.6h-1.6zM452.25 170.26h1.6v1.6h-1.6zM453.06 165.73h1.6v1.6h-1.6zM454.28 161.3h1.6v1.6h-1.6zM455.53 156.87h1.6v1.6h-1.6zM457.51 152.74h1.6v1.6h-1.6zM460.11 148.95h1.6v1.6h-1.6zM463.04 145.43h1.6v1.6h-1.6zM467.35 143.89h1.6v1.6h-1.6zM471.93 143.53h1.6v1.6h-1.6zM476.53 143.69h1.6v1.6h-1.6zM481.1 144.73h1.6v1.6h-1.6zM485.29 148.76h1.6v1.6h-1.6zM488.1 152.84h1.6v1.6h-1.6zM490.66 159.09h1.6v1.6h-1.6zM492.49 165.75h1.6v1.6h-1.6zM493.73 173.21h1.6v1.6h-1.6zM494.91 179.81h1.6v1.6h-1.6zM495.67 183.99h1.6v1.6h-1.6zM496.4 190.26h1.6v1.6h-1.6zM497.23 197.16h1.6v1.6h-1.6zM498.03 201.36h1.6v1.6h-1.6zM498.57 205.11h1.6v1.6h-1.6zM499.02 208.77h1.6v1.6h-1.6zM499.7 213.59h1.6v1.6h-1.6zM500.54 218.77h1.6v1.6h-1.6zM501.12 221.94h1.6v1.6h-1.6zM501.73 224.89h1.6v1.6h-1.6zM502.42 227.89h1.6v1.6h-1.6zM503.21 231.01h1.6v1.6h-1.6zM504.13 234.34h1.6v1.6h-1.6zM505.2 237.85h1.6v1.6h-1.6zM506.41 241.43h1.6v1.6h-1.6zM507.76 244.65h1.6v1.6h-1.6zM509.82 248.28h1.6v1.6h-1.6zM529 256.48h1.6v1.6h-1.6zM552.98 257.21h1.6v1.6h-1.6z" fill="#6fd13a"/>
<path d="M410.5 256.65h1.8v1.8h-1.8zM433.13 248.99h1.8v1.8h-1.8zM439.44 234.48h1.8v1.8h-1.8zM440.84 229.35h1.8v1.8h-1.8zM442.11 223.89h1.8v1.8h-1.8zM443.23 217.99h1.8v1.8h-1.8zM444.21 211.69h1.8v1.8h-1.8zM445.04 205.32h1.8v1.8h-1.8zM445.76 200.45h1.8v1.8h-1.8zM446.41 197.15h1.8v1.8h-1.8zM446.97 192.99h1.8v1.8h-1.8zM447.7 185.78h1.8v1.8h-1.8zM448.52 180.89h1.8v1.8h-1.8zM449 178.22h1.8v1.8h-1.8zM449.47 175.68h1.8v1.8h-1.8zM450.2 171.26h1.8v1.8h-1.8zM451.03 166.21h1.8v1.8h-1.8zM451.83 163.13h1.8v1.8h-1.8zM452.5 160.8h1.8v1.8h-1.8zM453.54 157.05h1.8v1.8h-1.8zM454.79 153.99h1.8v1.8h-1.8zM456.26 151.63h1.8v1.8h-1.8zM458.67 148.22h1.8v1.8h-1.8zM461.35 145.21h1.8v1.8h-1.8zM465.03 143.89h1.8v1.8h-1.8zM469.54 143.45h1.8v1.8h-1.8zM474.13 143.4h1.8v1.8h-1.8zM478.73 143.59h1.8v1.8h-1.8zM483.2 144.6h1.8v1.8h-1.8zM486.66 147.49h1.8v1.8h-1.8zM489.32 151.23h1.8v1.8h-1.8zM491.64 155.2h1.8v1.8h-1.8zM493.01 159.59h1.8v1.8h-1.8zM494.26 164.02h1.8v1.8h-1.8zM495.24 168.51h1.8v1.8h-1.8zM495.91 173.06h1.8v1.8h-1.8zM496.72 177.59h1.8v1.8h-1.8zM497.55 182.11h1.8v1.8h-1.8zM498.24 186.66h1.8v1.8h-1.8zM498.69 191.24h1.8v1.8h-1.8zM499.21 195.81h1.8v1.8h-1.8zM500.05 200.33h1.8v1.8h-1.8zM500.74 204.87h1.8v1.8h-1.8zM501.31 209.44h1.8v1.8h-1.8zM501.97 213.99h1.8v1.8h-1.8zM502.7 218.53h1.8v1.8h-1.8zM503.55 223.05h1.8v1.8h-1.8zM504.55 227.54h1.8v1.8h-1.8zM505.69 232h1.8v1.8h-1.8zM506.98 236.42h1.8v1.8h-1.8zM508.4 240.79h1.8v1.8h-1.8zM517.55 252.79h1.8v1.8h-1.8zM540.88 256.85h1.8v1.8h-1.8z" fill="#d455d4"/>
</g>
<path d="M392.2 258.5v-1.4M392.2 138.59v1.4M397.65 258.5v-2.4M397.65 138.59v2.4M403.09 258.5v-1.4M403.09 138.59v1.4M408.54 258.5v-2.4M408.54 138.59v2.4M413.99 258.5v-1.4M413.99 138.59v1.4M419.43 258.5v-2.4M419.43 138.59v2.4M424.88 258.5v-1.4M424.88 138.59v1.4M430.33 258.5v-2.4M430.33 138.59v2.4M435.77 258.5v-1.4M435.77 138.59v1.4M441.22 258.5v-2.4M441.22 138.59v2.4M446.67 258.5v-1.4M446.67 138.59v1.4M452.11 258.5v-2.4M452.11 138.59v2.4M457.56 258.5v-1.4M457.56 138.59v1.4M463.01 258.5v-2.4M463.01 138.59v2.4M468.45 258.5v-1.4M468.45 138.59v1.4M473.9 258.5v-2.4M473.9 138.59v2.4M479.35 258.5v-1.4M479.35 138.59v1.4M484.79 258.5v-2.4M484.79 138.59v2.4M490.24 258.5v-1.4M490.24 138.59v1.4M495.69 258.5v-2.4M495.69 138.59v2.4M501.13 258.5v-1.4M501.13 138.59v1.4M506.58 258.5v-2.4M506.58 138.59v2.4M512.03 258.5v-1.4M512.03 138.59v1.4M517.47 258.5v-2.4M517.47 138.59v2.4M522.92 258.5v-1.4M522.92 138.59v1.4M528.37 258.5v-2.4M528.37 138.59v2.4M533.81 258.5v-1.4M533.81 138.59v1.4M539.26 258.5v-2.4M539.26 138.59v2.4M544.71 258.5v-1.4M544.71 138.59v1.4M550.15 258.5v-2.4M550.15 138.59v2.4M555.6 258.5v-1.4M555.6 138.59v1.4M392.2 258.5h2.4M555.6 258.5h-2.4M392.2 252.79h1.4M555.6 252.79h-1.4M392.2 247.08h2.4M555.6 247.08h-2.4M392.2 241.37h1.4M555.6 241.37h-1.4M392.2 235.66h2.4M555.6 235.66h-2.4M392.2 229.95h1.4M555.6 229.95h-1.4M392.2 224.24h2.4M555.6 224.24h-2.4M392.2 218.53h1.4M555.6 218.53h-1.4M392.2 212.82h2.4M555.6 212.82h-2.4M392.2 207.11h1.4M555.6 207.11h-1.4M392.2 201.4h2.4M555.6 201.4h-2.4M392.2 195.69h1.4M555.6 195.69h-1.4M392.2 189.98h2.4M555.6 189.98h-2.4M392.2 184.27h1.4M555.6 184.27h-1.4M392.2 178.56h2.4M555.6 178.56h-2.4M392.2 172.85h1.4M555.6 172.85h-1.4M392.2 167.14h2.4M555.6 167.14h-2.4M392.2 161.43h1.4M555.6 161.43h-1.4M392.2 155.72h2.4M555.6 155.72h-2.4M392.2 150.01h1.4M555.6 150.01h-1.4M392.2 144.3h2.4M555.6 144.3h-2.4M392.2 138.59h1.4M555.6 138.59h-1.4" stroke="#3c3c3c" stroke-width="0.85" fill="none"/>
<rect x="392.2" y="138.59" width="163.4" height="119.91" fill="none" stroke="#3c3c3c" stroke-width="1"/>
<g font-size="5.1" text-anchor="middle" fill="#1a1a1a" stroke="#1a1a1a" stroke-width="0.3"><text x="397.65" y="265.6">86</text><text x="408.54" y="265.6">88</text><text x="419.43" y="265.6">90</text><text x="430.33" y="265.6">92</text><text x="441.22" y="265.6">94</text><text x="452.11" y="265.6">96</text><text x="463.01" y="265.6">98</text><text x="473.9" y="265.6">100</text><text x="484.79" y="265.6">102</text><text x="495.69" y="265.6">104</text><text x="506.58" y="265.6">106</text><text x="517.47" y="265.6">108</text><text x="528.37" y="265.6">110</text><text x="539.26" y="265.6">112</text><text x="550.15" y="265.6">114</text></g>
<g font-size="5.1" text-anchor="end" fill="#1a1a1a" stroke="#1a1a1a" stroke-width="0.3"><text x="389.5" y="260.3">0.0</text><text x="389.5" y="248.88">0.1</text><text x="389.5" y="237.46">0.2</text><text x="389.5" y="226.04">0.3</text><text x="389.5" y="214.62">0.4</text><text x="389.5" y="203.2">0.5</text><text x="389.5" y="191.78">0.6</text><text x="389.5" y="180.36">0.7</text><text x="389.5" y="168.94">0.8</text><text x="389.5" y="157.52">0.9</text><text x="389.5" y="146.1">1.0</text></g>
<text x="473.9" y="275.9" font-size="6.4" text-anchor="middle" fill="#111" stroke="#111" stroke-width="0.25">Z-position [mm]</text>
<text transform="translate(378.2 202.5) rotate(-90)" font-size="6.3" text-anchor="middle" fill="#111" stroke="#111" stroke-width="0.25">Relative dose [a.u.]</text>
<g font-size="5" fill="#111" stroke-width="0.25"><rect x="399.4" y="144.19" width="49" height="27" fill="#fff"/><path d="M401.4 148.79h12.7" stroke="#000" stroke-width="2.7"/><path d="M401.4 154.89h12" stroke="#f03c3c" stroke-width="1"/><rect x="407.3" y="160.24" width="1.5" height="1.5" fill="#6fcf3f"/><rect x="407.2" y="166.34" width="1.7" height="1.7" fill="#cc55cc"/><text x="414.8" y="150.59" stroke="#111">TMR10</text><text x="414.8" y="156.72" stroke="#111">Film</text><text x="414.8" y="162.85" stroke="#111">W2 scint.</text><text x="414.8" y="168.98" stroke="#111">Microdiamond</text></g>
<path d="M27.07 276.79V396.7M43.41 276.79V396.7M59.75 276.79V396.7M76.09 276.79V396.7M92.43 276.79V396.7M108.77 276.79V396.7M125.11 276.79V396.7M141.45 276.79V396.7M157.79 276.79V396.7M174.13 276.79V396.7M18.9 390.99H182.3M18.9 379.57H182.3M18.9 368.15H182.3M18.9 356.73H182.3M18.9 345.31H182.3M18.9 333.89H182.3M18.9 322.47H182.3M18.9 311.05H182.3M18.9 299.63H182.3M18.9 288.21H182.3" stroke="#f2f2f2" stroke-width="0.6" fill="none"/><path d="M35.24 276.79V396.7M51.58 276.79V396.7M67.92 276.79V396.7M84.26 276.79V396.7M100.6 276.79V396.7M116.94 276.79V396.7M133.28 276.79V396.7M149.62 276.79V396.7M165.96 276.79V396.7M18.9 385.28H182.3M18.9 373.86H182.3M18.9 362.44H182.3M18.9 351.02H182.3M18.9 339.6H182.3M18.9 328.18H182.3M18.9 316.76H182.3M18.9 305.34H182.3M18.9 293.92H182.3M18.9 282.5H182.3" stroke="#e8e8e8" stroke-width="0.8" fill="none"/>
<g clip-path="url(#k20)">
<polyline points="18.9,377.53 19.31,377.42 19.72,377.31 20.13,377.19 20.54,377.06 20.95,376.93 21.36,376.79 21.77,376.65 22.18,376.51 22.59,376.36 23,376.21 23.4,376.05 23.81,375.89 24.22,375.73 24.63,375.57 25.04,375.41 25.45,375.24 25.86,375.08 26.27,374.91 26.68,374.75 27.09,374.58 27.5,374.42 27.91,374.25 28.32,374.08 28.73,373.9 29.14,373.72 29.55,373.54 29.96,373.35 30.37,373.15 30.78,372.95 31.19,372.74 31.6,372.52 32,372.29 32.41,372.05 32.82,371.78 33.23,371.5 33.64,371.2 34.05,370.89 34.46,370.57 34.87,370.24 35.28,369.91 35.69,369.58 36.1,369.26 36.51,368.93 36.92,368.61 37.33,368.27 37.74,367.94 38.15,367.6 38.56,367.25 38.97,366.9 39.38,366.55 39.79,366.18 40.2,365.82 40.6,365.45 41.01,365.08 41.42,364.71 41.83,364.33 42.24,363.95 42.65,363.56 43.06,363.15 43.47,362.73 43.88,362.3 44.29,361.85 44.7,361.38 45.11,360.88 45.52,360.38 45.93,359.85 46.34,359.3 46.75,358.74 47.16,358.16 47.57,357.56 47.98,356.95 48.39,356.31 48.8,355.66 49.2,355 49.61,354.32 50.02,353.6 50.43,352.84 50.84,352.04 51.25,351.22 51.66,350.37 52.07,349.51 52.48,348.64 52.89,347.77 53.3,346.9 53.71,346.04 54.12,345.19 54.53,344.31 54.94,343.41 55.35,342.47 55.76,341.46 56.17,340.38 56.58,339.19 56.99,337.9 57.4,336.54 57.8,335.12 58.21,333.66 58.62,332.18 59.03,330.7 59.44,329.25 59.85,327.83 60.26,326.44 60.67,325.06 61.08,323.69 61.49,322.32 61.9,320.94 62.31,319.55 62.72,318.14 63.13,316.7 63.54,315.23 63.95,313.72 64.36,312.16 64.77,310.5 65.18,308.75 65.59,306.97 66,305.25 66.4,303.53 66.81,301.83 67.22,300.18 67.63,298.6 68.04,297.1 68.45,295.66 68.86,294.31 69.27,293.1 69.68,291.97 70.09,290.93 70.5,290 70.91,289.14 71.32,288.33 71.73,287.6 72.14,286.97 72.55,286.47 72.96,286.01 73.37,285.59 73.78,285.21 74.19,284.87 74.6,284.57 75,284.33 75.41,284.13 75.82,283.95 76.23,283.78 76.64,283.62 77.05,283.48 77.46,283.35 77.87,283.25 78.28,283.16 78.69,283.09 79.1,283.05 79.51,283.01 79.92,282.97 80.33,282.94 80.74,282.92 81.15,282.9 81.56,282.88 81.97,282.85 82.38,282.83 82.79,282.81 83.2,282.79 83.6,282.78 84.01,282.76 84.42,282.74 84.83,282.72 85.24,282.7 85.65,282.69 86.06,282.67 86.47,282.66 86.88,282.65 87.29,282.64 87.7,282.63 88.11,282.62 88.52,282.61 88.93,282.6 89.34,282.6 89.75,282.59 90.16,282.59 90.57,282.58 90.98,282.57 91.39,282.57 91.8,282.56 92.2,282.56 92.61,282.55 93.02,282.55 93.43,282.54 93.84,282.54 94.25,282.53 94.66,282.53 95.07,282.53 95.48,282.52 95.89,282.52 96.3,282.52 96.71,282.51 97.12,282.51 97.53,282.51 97.94,282.51 98.35,282.5 98.76,282.5 99.17,282.5 99.58,282.5 99.99,282.5 100.4,282.5 100.8,282.5 101.21,282.5 101.62,282.5 102.03,282.5 102.44,282.5 102.85,282.5 103.26,282.51 103.67,282.51 104.08,282.51 104.49,282.51 104.9,282.52 105.31,282.52 105.72,282.52 106.13,282.53 106.54,282.53 106.95,282.53 107.36,282.54 107.77,282.54 108.18,282.55 108.59,282.55 109,282.56 109.4,282.56 109.81,282.57 110.22,282.57 110.63,282.58 111.04,282.59 111.45,282.59 111.86,282.6 112.27,282.6 112.68,282.61 113.09,282.62 113.5,282.63 113.91,282.64 114.32,282.65 114.73,282.66 115.14,282.67 115.55,282.69 115.96,282.7 116.37,282.72 116.78,282.74 117.19,282.76 117.6,282.78 118,282.79 118.41,282.81 118.82,282.83 119.23,282.85 119.64,282.88 120.05,282.9 120.46,282.92 120.87,282.94 121.28,282.97 121.69,283.01 122.1,283.05 122.51,283.09 122.92,283.16 123.33,283.25 123.74,283.35 124.15,283.48 124.56,283.62 124.97,283.78 125.38,283.95 125.79,284.13 126.2,284.33 126.6,284.57 127.01,284.87 127.42,285.21 127.83,285.59 128.24,286.01 128.65,286.47 129.06,286.97 129.47,287.6 129.88,288.33 130.29,289.14 130.7,290 131.11,290.93 131.52,291.97 131.93,293.1 132.34,294.31 132.75,295.66 133.16,297.1 133.57,298.6 133.98,300.18 134.39,301.83 134.8,303.53 135.2,305.25 135.61,306.97 136.02,308.75 136.43,310.5 136.84,312.16 137.25,313.72 137.66,315.23 138.07,316.7 138.48,318.14 138.89,319.55 139.3,320.94 139.71,322.32 140.12,323.69 140.53,325.06 140.94,326.44 141.35,327.83 141.76,329.25 142.17,330.7 142.58,332.18 142.99,333.66 143.4,335.12 143.8,336.54 144.21,337.9 144.62,339.19 145.03,340.38 145.44,341.46 145.85,342.47 146.26,343.41 146.67,344.31 147.08,345.19 147.49,346.04 147.9,346.9 148.31,347.77 148.72,348.64 149.13,349.51 149.54,350.37 149.95,351.22 150.36,352.04 150.77,352.84 151.18,353.6 151.59,354.32 152,355 152.4,355.66 152.81,356.31 153.22,356.95 153.63,357.56 154.04,358.16 154.45,358.74 154.86,359.3 155.27,359.85 155.68,360.38 156.09,360.88 156.5,361.38 156.91,361.85 157.32,362.3 157.73,362.73 158.14,363.15 158.55,363.56 158.96,363.95 159.37,364.33 159.78,364.71 160.19,365.08 160.6,365.45 161,365.82 161.41,366.18 161.82,366.55 162.23,366.9 162.64,367.25 163.05,367.6 163.46,367.94 163.87,368.27 164.28,368.61 164.69,368.93 165.1,369.26 165.51,369.58 165.92,369.91 166.33,370.24 166.74,370.57 167.15,370.89 167.56,371.2 167.97,371.5 168.38,371.78 168.79,372.05 169.2,372.29 169.6,372.52 170.01,372.74 170.42,372.95 170.83,373.15 171.24,373.35 171.65,373.54 172.06,373.72 172.47,373.9 172.88,374.08 173.29,374.25 173.7,374.42 174.11,374.58 174.52,374.75 174.93,374.91 175.34,375.08 175.75,375.24 176.16,375.41 176.57,375.57 176.98,375.73 177.39,375.89 177.8,376.05 178.2,376.21 178.61,376.36 179.02,376.51 179.43,376.65 179.84,376.79 180.25,376.93 180.66,377.06 181.07,377.19 181.48,377.31 181.89,377.42 182.3,377.53" fill="none" stroke="#000" stroke-width="2.1" stroke-linejoin="round"/>
<polyline points="18.83,377.26 19.24,377.16 19.65,377.05 20.06,376.95 20.47,376.83 20.88,376.71 21.29,376.59 21.7,376.46 22.11,376.33 22.53,376.2 22.94,376.06 23.35,375.92 23.77,375.77 24.18,375.63 24.6,375.48 25.01,375.33 25.43,375.18 25.84,375.03 26.26,374.88 26.67,374.73 27.09,374.58 27.5,374.42 27.92,374.27 28.34,374.11 28.75,373.95 29.17,373.79 29.59,373.62 30,373.45 30.42,373.27 30.84,373.08 31.26,372.89 31.69,372.68 32.11,372.47 32.54,372.24 32.97,371.99 33.4,371.73 33.83,371.45 34.26,371.16 34.69,370.86 35.12,370.55 35.55,370.25 35.98,369.95 36.41,369.65 36.84,369.35 37.27,369.04 37.7,368.73 38.12,368.4 38.53,368.06 38.95,367.71 39.36,367.36 39.77,367 40.18,366.63 40.6,366.26 41.01,365.9 41.42,365.53 41.83,365.15 42.24,364.77 42.66,364.38 43.07,363.99 43.49,363.58 43.9,363.15 44.32,362.71 44.74,362.25 45.16,361.76 45.57,361.26 45.99,360.75 46.41,360.21 46.82,359.66 47.24,359.09 47.65,358.5 48.06,357.9 48.48,357.27 48.89,356.64 49.3,355.98 49.72,355.31 50.13,354.62 50.55,353.89 50.96,353.12 51.38,352.31 51.79,351.48 52.2,350.63 52.61,349.77 53.02,348.89 53.43,348.02 53.84,347.15 54.25,346.3 54.66,345.44 55.07,344.57 55.49,343.66 55.9,342.7 56.32,341.68 56.73,340.58 57.15,339.38 57.56,338.08 57.97,336.71 58.38,335.28 58.79,333.82 59.2,332.34 59.61,330.86 60.02,329.41 60.43,328 60.84,326.61 61.25,325.23 61.66,323.86 62.07,322.49 62.48,321.11 62.89,319.72 63.3,318.31 63.71,316.86 64.12,315.39 64.53,313.87 64.94,312.3 65.35,310.64 65.76,308.88 66.17,307.11 66.58,305.39 66.99,303.67 67.4,301.97 67.81,300.32 68.21,298.76 68.62,297.26 69.03,295.83 69.43,294.5 69.84,293.29 70.24,292.18 70.64,291.16 71.05,290.25 71.45,289.41 71.85,288.62 72.24,287.92 72.62,287.35 73,286.91 73.4,286.52 73.79,286.2 74.17,285.96 74.55,285.82 74.93,285.84 75.29,286.07 75.67,286.41 76.06,286.81 76.46,287.25 76.85,287.66 77.24,287.97 77.63,288.09 78.01,288.08 78.39,287.93 78.77,287.66 79.16,287.32 79.56,286.95 79.96,286.62 80.37,286.37 80.77,286.26 81.18,286.28 81.59,286.42 82,286.64 82.41,286.9 82.81,287.12 83.22,287.27 83.63,287.28 84.04,287.16 84.45,286.91 84.86,286.56 85.27,286.16 85.67,285.75 86.08,285.37 86.49,285.06 86.9,284.85 87.31,284.73 87.71,284.72 88.12,284.79 88.53,284.93 88.94,285.12 89.35,285.31 89.76,285.49 90.17,285.63 90.58,285.69 90.98,285.67 91.39,285.57 91.8,285.4 92.21,285.19 92.62,284.96 93.03,284.73 93.44,284.52 93.85,284.34 94.26,284.2 94.67,284.1 95.08,284.04 95.49,284 95.9,283.99 96.3,284 96.71,284.05 97.12,284.14 97.53,284.28 97.94,284.48 98.35,284.75 98.76,285.11 99.17,285.52 99.58,285.98 99.99,286.43 100.4,286.84 100.8,287.14 101.21,287.31 101.62,287.32 102.03,287.16 102.44,286.88 102.85,286.51 103.26,286.12 103.67,285.78 104.08,285.52 104.49,285.39 104.9,285.41 105.3,285.58 105.71,285.87 106.12,286.24 106.53,286.63 106.94,286.99 107.35,287.25 107.76,287.37 108.17,287.33 108.58,287.13 108.99,286.8 109.4,286.38 109.81,285.93 110.22,285.48 110.62,285.09 111.03,284.76 111.44,284.51 111.85,284.32 112.26,284.2 112.67,284.12 113.08,284.08 113.49,284.06 113.89,284.05 114.3,284.05 114.71,284.06 115.12,284.07 115.53,284.09 115.93,284.11 116.34,284.12 116.75,284.15 117.16,284.17 117.57,284.21 117.98,284.26 118.39,284.34 118.79,284.44 119.2,284.58 119.61,284.77 120.02,285 120.43,285.29 120.83,285.61 121.24,285.95 121.64,286.27 122.04,286.54 122.43,286.73 122.81,286.83 123.19,286.84 123.57,286.77 123.96,286.55 124.35,286.26 124.74,285.97 125.14,285.71 125.53,285.5 125.91,285.34 126.27,285.36 126.65,285.52 127.03,285.77 127.41,286.08 127.8,286.45 128.2,286.88 128.58,287.33 128.96,287.91 129.35,288.61 129.75,289.41 130.15,290.25 130.56,291.16 130.96,292.18 131.36,293.29 131.77,294.5 132.17,295.83 132.58,297.26 132.99,298.76 133.39,300.32 133.8,301.97 134.21,303.67 134.62,305.39 135.03,307.11 135.44,308.88 135.85,310.64 136.26,312.3 136.67,313.87 137.08,315.39 137.49,316.86 137.9,318.31 138.31,319.72 138.72,321.11 139.13,322.49 139.54,323.86 139.95,325.23 140.36,326.61 140.77,328 141.18,329.41 141.59,330.86 142,332.34 142.41,333.82 142.82,335.28 143.23,336.71 143.64,338.08 144.05,339.38 144.47,340.58 144.88,341.68 145.3,342.7 145.71,343.66 146.13,344.57 146.54,345.44 146.95,346.3 147.36,347.15 147.77,348.02 148.18,348.89 148.59,349.77 149,350.63 149.41,351.48 149.82,352.31 150.24,353.12 150.65,353.89 151.07,354.62 151.48,355.31 151.9,355.98 152.31,356.64 152.72,357.27 153.14,357.9 153.55,358.5 153.96,359.09 154.38,359.66 154.79,360.21 155.21,360.75 155.63,361.26 156.04,361.76 156.46,362.25 156.88,362.71 157.3,363.15 157.71,363.58 158.13,363.99 158.54,364.38 158.96,364.77 159.37,365.15 159.78,365.53 160.19,365.9 160.6,366.26 161.02,366.63 161.43,367 161.84,367.36 162.25,367.71 162.67,368.06 163.08,368.4 163.5,368.73 163.93,369.04 164.36,369.35 164.79,369.65 165.22,369.95 165.65,370.25 166.08,370.55 166.51,370.86 166.94,371.16 167.37,371.45 167.8,371.73 168.23,371.99 168.66,372.24 169.09,372.47 169.51,372.68 169.94,372.89 170.36,373.08 170.78,373.27 171.2,373.45 171.61,373.62 172.03,373.79 172.45,373.95 172.86,374.11 173.28,374.27 173.7,374.42 174.11,374.58 174.53,374.73 174.94,374.88 175.36,375.03 175.77,375.18 176.19,375.33 176.6,375.48 177.02,375.63 177.43,375.77 177.85,375.92 178.26,376.06 178.67,376.2 179.09,376.33 179.5,376.46 179.91,376.59 180.32,376.71 180.73,376.83 181.14,376.95 181.55,377.05 181.96,377.16 182.37,377.26" fill="none" stroke="#ee2a2a" stroke-width="0.9" stroke-linejoin="round"/>
<path d="M19.35 376.58h1.3v1.3h-1.3zM22.94 375.33h1.3v1.3h-1.3zM26.47 373.92h1.3v1.3h-1.3zM29.94 372.39h1.3v1.3h-1.3zM33.18 370.41h1.3v1.3h-1.3zM36.15 368.05h1.3v1.3h-1.3zM39.06 365.6h1.3v1.3h-1.3zM41.87 363.04h1.3v1.3h-1.3zM44.45 360.25h1.3v1.3h-1.3zM46.72 357.2h1.3v1.3h-1.3zM48.76 354h1.3v1.3h-1.3zM50.56 350.66h1.3v1.3h-1.3zM52.19 347.22h1.3v1.3h-1.3zM53.82 343.79h1.3v1.3h-1.3zM55.31 340.3h1.3v1.3h-1.3zM56.51 336.69h1.3v1.3h-1.3zM57.56 333.04h1.3v1.3h-1.3zM58.57 329.38h1.3v1.3h-1.3zM60.71 322.12h1.3v1.3h-1.3zM63.7 311.53h1.3v1.3h-1.3zM66.25 300.83h1.3v1.3h-1.3zM69.43 290.31h1.3v1.3h-1.3zM73.2 284.5h1.3v1.3h-1.3zM78.22 282.42h1.3v1.3h-1.3zM83.71 282.09h1.3v1.3h-1.3zM89.2 281.94h1.3v1.3h-1.3zM94.7 281.87h1.3v1.3h-1.3zM100.2 281.85h1.3v1.3h-1.3zM105.7 281.88h1.3v1.3h-1.3zM111.2 281.95h1.3v1.3h-1.3zM116.7 282.11h1.3v1.3h-1.3zM122.18 282.49h1.3v1.3h-1.3zM127.07 284.84h1.3v1.3h-1.3zM130.87 291.33h1.3v1.3h-1.3zM133.91 301.9h1.3v1.3h-1.3zM136.48 312.59h1.3v1.3h-1.3zM139.51 323.17h1.3v1.3h-1.3zM142.22 332.6h1.3v1.3h-1.3zM144.94 341.18h1.3v1.3h-1.3zM148.71 349.35h1.3v1.3h-1.3zM153.15 357.16h1.3v1.3h-1.3zM159.02 363.96h1.3v1.3h-1.3zM165.89 369.76h1.3v1.3h-1.3zM173.76 374.05h1.3v1.3h-1.3z" fill="#6fd13a"/>
<path d="M21.06 375.89h1.5v1.5h-1.5zM24.6 374.53h1.5v1.5h-1.5zM28.12 373.09h1.5v1.5h-1.5zM31.51 371.39h1.5v1.5h-1.5zM34.57 369.13h1.5v1.5h-1.5zM37.52 366.74h1.5v1.5h-1.5zM40.37 364.23h1.5v1.5h-1.5zM43.1 361.58h1.5v1.5h-1.5zM45.51 358.65h1.5v1.5h-1.5zM47.66 355.52h1.5v1.5h-1.5zM49.6 352.25h1.5v1.5h-1.5zM51.28 348.84h1.5v1.5h-1.5zM52.9 345.41h1.5v1.5h-1.5zM54.5 341.96h1.5v1.5h-1.5zM55.84 338.4h1.5v1.5h-1.5zM56.94 334.77h1.5v1.5h-1.5zM57.96 331.11h1.5v1.5h-1.5zM59.04 327.29h1.5v1.5h-1.5zM62.16 316.74h1.5v1.5h-1.5zM64.87 306.08h1.5v1.5h-1.5zM67.56 295.41h1.5v1.5h-1.5zM71.25 286.42h1.5v1.5h-1.5zM75.47 283.03h1.5v1.5h-1.5zM80.86 282.12h1.5v1.5h-1.5zM86.35 281.89h1.5v1.5h-1.5zM91.85 281.8h1.5v1.5h-1.5zM97.35 281.76h1.5v1.5h-1.5zM102.85 281.76h1.5v1.5h-1.5zM108.35 281.81h1.5v1.5h-1.5zM113.85 281.91h1.5v1.5h-1.5zM119.35 282.15h1.5v1.5h-1.5zM124.7 283.23h1.5v1.5h-1.5zM128.72 286.85h1.5v1.5h-1.5zM132.44 296.47h1.5v1.5h-1.5zM135.08 307.15h1.5v1.5h-1.5zM137.85 317.79h1.5v1.5h-1.5zM140.91 328.17h1.5v1.5h-1.5zM143.37 336.83h1.5v1.5h-1.5zM146.69 345.18h1.5v1.5h-1.5zM150.66 353.26h1.5v1.5h-1.5zM155.77 360.65h1.5v1.5h-1.5zM162.29 366.84h1.5v1.5h-1.5zM169.54 372.13h1.5v1.5h-1.5zM177.84 375.6h1.5v1.5h-1.5z" fill="#d455d4"/>
</g>
<path d="M18.9 396.7v-2.4M18.9 276.79v2.4M27.07 396.7v-1.4M27.07 276.79v1.4M35.24 396.7v-2.4M35.24 276.79v2.4M43.41 396.7v-1.4M43.41 276.79v1.4M51.58 396.7v-2.4M51.58 276.79v2.4M59.75 396.7v-1.4M59.75 276.79v1.4M67.92 396.7v-2.4M67.92 276.79v2.4M76.09 396.7v-1.4M76.09 276.79v1.4M84.26 396.7v-2.4M84.26 276.79v2.4M92.43 396.7v-1.4M92.43 276.79v1.4M100.6 396.7v-2.4M100.6 276.79v2.4M108.77 396.7v-1.4M108.77 276.79v1.4M116.94 396.7v-2.4M116.94 276.79v2.4M125.11 396.7v-1.4M125.11 276.79v1.4M133.28 396.7v-2.4M133.28 276.79v2.4M141.45 396.7v-1.4M141.45 276.79v1.4M149.62 396.7v-2.4M149.62 276.79v2.4M157.79 396.7v-1.4M157.79 276.79v1.4M165.96 396.7v-2.4M165.96 276.79v2.4M174.13 396.7v-1.4M174.13 276.79v1.4M182.3 396.7v-2.4M182.3 276.79v2.4M18.9 396.7h2.4M182.3 396.7h-2.4M18.9 390.99h1.4M182.3 390.99h-1.4M18.9 385.28h2.4M182.3 385.28h-2.4M18.9 379.57h1.4M182.3 379.57h-1.4M18.9 373.86h2.4M182.3 373.86h-2.4M18.9 368.15h1.4M182.3 368.15h-1.4M18.9 362.44h2.4M182.3 362.44h-2.4M18.9 356.73h1.4M182.3 356.73h-1.4M18.9 351.02h2.4M182.3 351.02h-2.4M18.9 345.31h1.4M182.3 345.31h-1.4M18.9 339.6h2.4M182.3 339.6h-2.4M18.9 333.89h1.4M182.3 333.89h-1.4M18.9 328.18h2.4M182.3 328.18h-2.4M18.9 322.47h1.4M182.3 322.47h-1.4M18.9 316.76h2.4M182.3 316.76h-2.4M18.9 311.05h1.4M182.3 311.05h-1.4M18.9 305.34h2.4M182.3 305.34h-2.4M18.9 299.63h1.4M182.3 299.63h-1.4M18.9 293.92h2.4M182.3 293.92h-2.4M18.9 288.21h1.4M182.3 288.21h-1.4M18.9 282.5h2.4M182.3 282.5h-2.4M18.9 276.79h1.4M182.3 276.79h-1.4" stroke="#3c3c3c" stroke-width="0.85" fill="none"/>
<rect x="18.9" y="276.79" width="163.4" height="119.91" fill="none" stroke="#3c3c3c" stroke-width="1"/>
<g font-size="5.1" text-anchor="middle" fill="#1a1a1a" stroke="#1a1a1a" stroke-width="0.3"><text x="18.9" y="403.8">80</text><text x="35.24" y="403.8">84</text><text x="51.58" y="403.8">88</text><text x="67.92" y="403.8">92</text><text x="84.26" y="403.8">96</text><text x="100.6" y="403.8">100</text><text x="116.94" y="403.8">104</text><text x="133.28" y="403.8">108</text><text x="149.62" y="403.8">112</text><text x="165.96" y="403.8">116</text><text x="182.3" y="403.8">120</text></g>
<g font-size="5.1" text-anchor="end" fill="#1a1a1a" stroke="#1a1a1a" stroke-width="0.3"><text x="16.2" y="398.5">0.0</text><text x="16.2" y="387.08">0.1</text><text x="16.2" y="375.66">0.2</text><text x="16.2" y="364.24">0.3</text><text x="16.2" y="352.82">0.4</text><text x="16.2" y="341.4">0.5</text><text x="16.2" y="329.98">0.6</text><text x="16.2" y="318.56">0.7</text><text x="16.2" y="307.14">0.8</text><text x="16.2" y="295.72">0.9</text><text x="16.2" y="284.3">1.0</text></g>
<text x="100.6" y="414.1" font-size="6.4" text-anchor="middle" fill="#111" stroke="#111" stroke-width="0.25">X-position [mm]</text>
<text transform="translate(4.9 340.7) rotate(-90)" font-size="6.3" text-anchor="middle" fill="#111" stroke="#111" stroke-width="0.25">Relative dose [a.u.]</text>
<g font-size="5" fill="#111" stroke-width="0.25"><rect x="76.8" y="354.69" width="49" height="27" fill="#fff"/><path d="M78.8 359.29h12.7" stroke="#000" stroke-width="2.7"/><path d="M78.8 365.39h12" stroke="#f03c3c" stroke-width="1"/><rect x="84.7" y="370.74" width="1.5" height="1.5" fill="#6fcf3f"/><rect x="84.6" y="376.84" width="1.7" height="1.7" fill="#cc55cc"/><text x="92.2" y="361.09" stroke="#111">TMR10</text><text x="92.2" y="367.22" stroke="#111">Film</text><text x="92.2" y="373.35" stroke="#111">W2 scint.</text><text x="92.2" y="379.48" stroke="#111">Microdiamond</text></g>
<text x="32" y="298.79" font-size="6.1" fill="#222" stroke="#222" stroke-width="0.18">Collimator:</text>
<text x="32" y="306.89" font-size="6.5" font-weight="bold" fill="#111" stroke="#111" stroke-width="0.25" letter-spacing="0.2">16mm</text>
<path d="M213.72 276.79V396.7M230.06 276.79V396.7M246.4 276.79V396.7M262.74 276.79V396.7M279.08 276.79V396.7M295.42 276.79V396.7M311.76 276.79V396.7M328.1 276.79V396.7M344.44 276.79V396.7M360.78 276.79V396.7M205.55 390.99H368.95M205.55 379.57H368.95M205.55 368.15H368.95M205.55 356.73H368.95M205.55 345.31H368.95M205.55 333.89H368.95M205.55 322.47H368.95M205.55 311.05H368.95M205.55 299.63H368.95M205.55 288.21H368.95" stroke="#f2f2f2" stroke-width="0.6" fill="none"/><path d="M221.89 276.79V396.7M238.23 276.79V396.7M254.57 276.79V396.7M270.91 276.79V396.7M287.25 276.79V396.7M303.59 276.79V396.7M319.93 276.79V396.7M336.27 276.79V396.7M352.61 276.79V396.7M205.55 385.28H368.95M205.55 373.86H368.95M205.55 362.44H368.95M205.55 351.02H368.95M205.55 339.6H368.95M205.55 328.18H368.95M205.55 316.76H368.95M205.55 305.34H368.95M205.55 293.92H368.95M205.55 282.5H368.95" stroke="#e8e8e8" stroke-width="0.8" fill="none"/>
<g clip-path="url(#k21)">
<polyline points="205.55,377.51 205.96,377.4 206.37,377.28 206.78,377.16 207.19,377.03 207.6,376.9 208.01,376.76 208.42,376.61 208.83,376.46 209.24,376.31 209.65,376.16 210.05,376 210.46,375.83 210.87,375.67 211.28,375.5 211.69,375.33 212.1,375.17 212.51,374.99 212.92,374.82 213.33,374.65 213.74,374.47 214.15,374.29 214.56,374.11 214.97,373.92 215.38,373.73 215.79,373.53 216.2,373.33 216.61,373.13 217.02,372.92 217.43,372.7 217.84,372.47 218.25,372.24 218.65,372 219.06,371.74 219.47,371.48 219.88,371.2 220.29,370.91 220.7,370.62 221.11,370.32 221.52,370.02 221.93,369.72 222.34,369.42 222.75,369.12 223.16,368.82 223.57,368.51 223.98,368.19 224.39,367.87 224.8,367.53 225.21,367.19 225.62,366.84 226.03,366.48 226.44,366.12 226.85,365.74 227.25,365.36 227.66,364.98 228.07,364.58 228.48,364.18 228.89,363.76 229.3,363.34 229.71,362.91 230.12,362.47 230.53,362.01 230.94,361.55 231.35,361.07 231.76,360.58 232.17,360.08 232.58,359.56 232.99,359.03 233.4,358.48 233.81,357.92 234.22,357.34 234.63,356.74 235.04,356.13 235.45,355.49 235.85,354.84 236.26,354.18 236.67,353.49 237.08,352.76 237.49,351.99 237.9,351.19 238.31,350.35 238.72,349.5 239.13,348.63 239.54,347.76 239.95,346.88 240.36,346.01 240.77,345.14 241.18,344.27 241.59,343.37 242,342.43 242.41,341.45 242.82,340.39 243.23,339.25 243.64,338.03 244.05,336.76 244.45,335.44 244.86,334.08 245.27,332.69 245.68,331.3 246.09,329.9 246.5,328.52 246.91,327.16 247.32,325.83 247.73,324.51 248.14,323.19 248.55,321.86 248.96,320.5 249.37,319.12 249.78,317.69 250.19,316.2 250.6,314.65 251.01,313.02 251.42,311.28 251.83,309.26 252.24,307.15 252.65,305.16 253.05,303.24 253.46,301.37 253.87,299.58 254.28,297.83 254.69,296.11 255.1,294.53 255.51,293.2 255.92,292.04 256.33,291.01 256.74,290.09 257.15,289.22 257.56,288.39 257.97,287.64 258.38,287.01 258.79,286.54 259.2,286.13 259.61,285.77 260.02,285.44 260.43,285.15 260.84,284.9 261.25,284.68 261.65,284.5 262.06,284.33 262.47,284.18 262.88,284.04 263.29,283.91 263.7,283.79 264.11,283.68 264.52,283.58 264.93,283.49 265.34,283.4 265.75,283.32 266.16,283.24 266.57,283.16 266.98,283.09 267.39,283.02 267.8,282.95 268.21,282.9 268.62,282.86 269.03,282.83 269.44,282.81 269.85,282.78 270.25,282.76 270.66,282.74 271.07,282.73 271.48,282.71 271.89,282.69 272.3,282.68 272.71,282.67 273.12,282.65 273.53,282.64 273.94,282.63 274.35,282.63 274.76,282.62 275.17,282.61 275.58,282.6 275.99,282.6 276.4,282.59 276.81,282.59 277.22,282.58 277.63,282.57 278.04,282.57 278.45,282.56 278.85,282.56 279.26,282.55 279.67,282.55 280.08,282.54 280.49,282.54 280.9,282.53 281.31,282.53 281.72,282.53 282.13,282.52 282.54,282.52 282.95,282.52 283.36,282.51 283.77,282.51 284.18,282.51 284.59,282.51 285,282.5 285.41,282.5 285.82,282.5 286.23,282.5 286.64,282.5 287.05,282.5 287.45,282.5 287.86,282.5 288.27,282.5 288.68,282.5 289.09,282.5 289.5,282.5 289.91,282.51 290.32,282.51 290.73,282.51 291.14,282.51 291.55,282.52 291.96,282.52 292.37,282.52 292.78,282.53 293.19,282.53 293.6,282.53 294.01,282.54 294.42,282.54 294.83,282.55 295.24,282.55 295.65,282.56 296.05,282.56 296.46,282.57 296.87,282.57 297.28,282.58 297.69,282.59 298.1,282.59 298.51,282.6 298.92,282.6 299.33,282.61 299.74,282.62 300.15,282.63 300.56,282.63 300.97,282.64 301.38,282.65 301.79,282.67 302.2,282.68 302.61,282.69 303.02,282.71 303.43,282.73 303.84,282.74 304.25,282.76 304.65,282.78 305.06,282.81 305.47,282.83 305.88,282.86 306.29,282.9 306.7,282.95 307.11,283.02 307.52,283.09 307.93,283.16 308.34,283.24 308.75,283.32 309.16,283.4 309.57,283.49 309.98,283.58 310.39,283.68 310.8,283.79 311.21,283.91 311.62,284.04 312.03,284.18 312.44,284.33 312.85,284.5 313.25,284.68 313.66,284.9 314.07,285.15 314.48,285.44 314.89,285.77 315.3,286.13 315.71,286.54 316.12,287.01 316.53,287.64 316.94,288.39 317.35,289.22 317.76,290.09 318.17,291.01 318.58,292.04 318.99,293.2 319.4,294.53 319.81,296.11 320.22,297.83 320.63,299.58 321.04,301.37 321.45,303.24 321.85,305.16 322.26,307.15 322.67,309.26 323.08,311.28 323.49,313.02 323.9,314.65 324.31,316.2 324.72,317.69 325.13,319.12 325.54,320.5 325.95,321.86 326.36,323.19 326.77,324.51 327.18,325.83 327.59,327.16 328,328.52 328.41,329.9 328.82,331.3 329.23,332.69 329.64,334.08 330.05,335.44 330.45,336.76 330.86,338.03 331.27,339.25 331.68,340.39 332.09,341.45 332.5,342.43 332.91,343.37 333.32,344.27 333.73,345.14 334.14,346.01 334.55,346.88 334.96,347.76 335.37,348.63 335.78,349.5 336.19,350.35 336.6,351.19 337.01,351.99 337.42,352.76 337.83,353.49 338.24,354.18 338.65,354.84 339.05,355.49 339.46,356.13 339.87,356.74 340.28,357.34 340.69,357.92 341.1,358.48 341.51,359.03 341.92,359.56 342.33,360.08 342.74,360.58 343.15,361.07 343.56,361.55 343.97,362.01 344.38,362.47 344.79,362.91 345.2,363.34 345.61,363.76 346.02,364.18 346.43,364.58 346.84,364.98 347.25,365.36 347.65,365.74 348.06,366.12 348.47,366.48 348.88,366.84 349.29,367.19 349.7,367.53 350.11,367.87 350.52,368.19 350.93,368.51 351.34,368.82 351.75,369.12 352.16,369.42 352.57,369.72 352.98,370.02 353.39,370.32 353.8,370.62 354.21,370.91 354.62,371.2 355.03,371.48 355.44,371.74 355.85,372 356.25,372.24 356.66,372.47 357.07,372.7 357.48,372.92 357.89,373.13 358.3,373.33 358.71,373.53 359.12,373.73 359.53,373.92 359.94,374.11 360.35,374.29 360.76,374.47 361.17,374.65 361.58,374.82 361.99,374.99 362.4,375.17 362.81,375.33 363.22,375.5 363.63,375.67 364.04,375.83 364.45,376 364.85,376.16 365.26,376.31 365.67,376.46 366.08,376.61 366.49,376.76 366.9,376.9 367.31,377.03 367.72,377.16 368.13,377.28 368.54,377.4 368.95,377.51" fill="none" stroke="#000" stroke-width="2.1" stroke-linejoin="round"/>
<polyline points="205.47,377.2 205.88,377.1 206.28,377 206.69,376.88 207.1,376.77 207.51,376.64 207.92,376.52 208.34,376.39 208.75,376.25 209.16,376.11 209.57,375.97 209.99,375.82 210.4,375.67 210.81,375.52 211.23,375.37 211.64,375.22 212.06,375.06 212.47,374.9 212.89,374.75 213.3,374.59 213.72,374.42 214.13,374.26 214.55,374.09 214.97,373.92 215.38,373.74 215.8,373.56 216.22,373.37 216.64,373.18 217.06,372.99 217.47,372.79 217.89,372.58 218.32,372.37 218.74,372.14 219.16,371.9 219.59,371.65 220.02,371.39 220.44,371.12 220.87,370.85 221.29,370.57 221.72,370.3 222.15,370.02 222.57,369.74 223,369.45 223.43,369.17 223.85,368.88 224.28,368.58 224.7,368.26 225.11,367.92 225.53,367.58 225.94,367.22 226.36,366.86 226.77,366.49 227.18,366.11 227.6,365.73 228.01,365.34 228.42,364.94 228.84,364.53 229.25,364.11 229.66,363.69 230.08,363.25 230.49,362.8 230.9,362.35 231.32,361.88 231.73,361.4 232.15,360.9 232.56,360.39 232.97,359.87 233.39,359.33 233.8,358.78 234.21,358.21 234.63,357.62 235.04,357.02 235.45,356.4 235.87,355.76 236.28,355.11 236.69,354.44 237.11,353.74 237.52,353 237.94,352.22 238.35,351.41 238.76,350.57 239.17,349.72 239.58,348.85 239.99,347.97 240.4,347.09 240.81,346.22 241.22,345.35 241.63,344.48 242.04,343.57 242.46,342.63 242.87,341.63 243.29,340.56 243.7,339.41 244.11,338.19 244.52,336.91 244.93,335.58 245.34,334.22 245.75,332.83 246.16,331.44 246.57,330.04 246.98,328.66 247.39,327.31 247.8,325.98 248.21,324.66 248.62,323.33 249.03,322 249.44,320.65 249.85,319.26 250.26,317.82 250.67,316.33 251.08,314.77 251.49,313.14 251.91,311.38 252.32,309.36 252.73,307.25 253.13,305.26 253.54,303.35 253.95,301.48 254.36,299.7 254.77,297.95 255.18,296.23 255.58,294.67 255.99,293.35 256.39,292.22 256.79,291.2 257.2,290.29 257.6,289.44 258,288.63 258.4,287.9 258.78,287.33 259.15,286.91 259.54,286.55 259.93,286.24 260.32,286 260.7,285.82 261.08,285.71 261.46,285.69 261.85,285.79 262.24,285.92 262.64,286.08 263.04,286.23 263.44,286.36 263.84,286.43 264.24,286.4 264.64,286.32 265.04,286.21 265.44,286.08 265.85,285.94 266.25,285.8 266.66,285.66 267.06,285.52 267.47,285.38 267.87,285.23 268.26,285.06 268.66,284.87 269.06,284.68 269.46,284.49 269.87,284.31 270.28,284.14 270.69,284 271.1,283.88 271.5,283.79 271.91,283.72 272.32,283.66 272.73,283.62 273.14,283.57 273.54,283.51 273.95,283.43 274.36,283.32 274.77,283.19 275.18,283.02 275.59,282.82 276,282.6 276.41,282.38 276.81,282.18 277.22,282.03 277.63,281.94 278.04,281.93 278.45,282 278.86,282.14 279.27,282.32 279.68,282.53 280.09,282.73 280.5,282.93 280.91,283.09 281.32,283.21 281.73,283.31 282.14,283.37 282.54,283.41 282.95,283.44 283.36,283.45 283.77,283.46 284.18,283.46 284.59,283.46 285,283.46 285.41,283.46 285.82,283.46 286.23,283.46 286.64,283.46 287.05,283.46 287.45,283.46 287.86,283.46 288.27,283.46 288.68,283.46 289.09,283.46 289.5,283.46 289.91,283.46 290.32,283.47 290.73,283.47 291.14,283.47 291.55,283.47 291.96,283.48 292.36,283.48 292.77,283.48 293.18,283.49 293.59,283.49 294,283.5 294.41,283.5 294.82,283.51 295.23,283.51 295.64,283.52 296.05,283.52 296.46,283.53 296.87,283.53 297.28,283.54 297.69,283.54 298.09,283.55 298.5,283.56 298.91,283.56 299.32,283.57 299.73,283.58 300.14,283.6 300.55,283.63 300.96,283.66 301.36,283.72 301.77,283.8 302.18,283.91 302.59,284.06 303,284.25 303.4,284.47 303.81,284.7 304.22,284.95 304.63,285.18 305.04,285.37 305.44,285.51 305.84,285.6 306.24,285.65 306.63,285.67 307.03,285.68 307.44,285.69 307.84,285.7 308.25,285.72 308.65,285.74 309.06,285.74 309.46,285.73 309.86,285.69 310.26,285.64 310.66,285.54 311.06,285.41 311.46,285.3 311.86,285.22 312.26,285.17 312.65,285.16 313.04,285.24 313.42,285.4 313.8,285.6 314.18,285.86 314.57,286.16 314.96,286.5 315.35,286.88 315.72,287.31 316.1,287.9 316.5,288.62 316.9,289.44 317.3,290.29 317.71,291.2 318.11,292.22 318.51,293.35 318.92,294.67 319.32,296.23 319.73,297.95 320.14,299.7 320.55,301.48 320.96,303.35 321.37,305.26 321.77,307.25 322.18,309.36 322.59,311.38 323.01,313.14 323.42,314.77 323.83,316.33 324.24,317.82 324.65,319.26 325.06,320.65 325.47,322 325.88,323.33 326.29,324.66 326.7,325.98 327.11,327.31 327.52,328.66 327.93,330.04 328.34,331.44 328.75,332.83 329.16,334.22 329.57,335.58 329.98,336.91 330.39,338.19 330.8,339.41 331.21,340.56 331.63,341.63 332.04,342.63 332.46,343.57 332.87,344.48 333.28,345.35 333.69,346.22 334.1,347.09 334.51,347.97 334.92,348.85 335.33,349.72 335.74,350.57 336.15,351.41 336.56,352.22 336.98,353 337.39,353.74 337.81,354.44 338.22,355.11 338.63,355.76 339.05,356.4 339.46,357.02 339.87,357.62 340.29,358.21 340.7,358.78 341.11,359.33 341.53,359.87 341.94,360.39 342.35,360.9 342.77,361.4 343.18,361.88 343.6,362.35 344.01,362.8 344.42,363.25 344.84,363.69 345.25,364.11 345.66,364.53 346.08,364.94 346.49,365.34 346.9,365.73 347.32,366.11 347.73,366.49 348.14,366.86 348.56,367.22 348.97,367.58 349.39,367.92 349.8,368.26 350.22,368.58 350.65,368.88 351.07,369.17 351.5,369.45 351.93,369.74 352.35,370.02 352.78,370.3 353.21,370.57 353.63,370.85 354.06,371.12 354.48,371.39 354.91,371.65 355.34,371.9 355.76,372.14 356.18,372.37 356.61,372.58 357.03,372.79 357.44,372.99 357.86,373.18 358.28,373.37 358.7,373.56 359.12,373.74 359.53,373.92 359.95,374.09 360.37,374.26 360.78,374.42 361.2,374.59 361.61,374.75 362.03,374.9 362.44,375.06 362.86,375.22 363.27,375.37 363.69,375.52 364.1,375.67 364.51,375.82 364.93,375.97 365.34,376.11 365.75,376.25 366.16,376.39 366.58,376.52 366.99,376.64 367.4,376.77 367.81,376.88 368.22,377 368.62,377.1 369.03,377.2" fill="none" stroke="#ee2a2a" stroke-width="0.9" stroke-linejoin="round"/>
<path d="M206 376.55h1.3v1.3h-1.3zM209.58 375.28h1.3v1.3h-1.3zM213.09 373.82h1.3v1.3h-1.3zM216.52 372.19h1.3v1.3h-1.3zM219.74 370.19h1.3v1.3h-1.3zM222.81 367.94h1.3v1.3h-1.3zM225.73 365.52h1.3v1.3h-1.3zM228.47 362.88h1.3v1.3h-1.3zM231.01 360.06h1.3v1.3h-1.3zM233.32 357.04h1.3v1.3h-1.3zM235.41 353.87h1.3v1.3h-1.3zM237.25 350.54h1.3v1.3h-1.3zM238.89 347.12h1.3v1.3h-1.3zM240.5 343.68h1.3v1.3h-1.3zM242 340.18h1.3v1.3h-1.3zM243.24 336.59h1.3v1.3h-1.3zM244.35 332.96h1.3v1.3h-1.3zM245.42 329.31h1.3v1.3h-1.3zM247.66 321.97h1.3v1.3h-1.3zM250.6 311.37h1.3v1.3h-1.3zM252.84 300.6h1.3v1.3h-1.3zM255.82 290.03h1.3v1.3h-1.3zM259.73 284.53h1.3v1.3h-1.3zM264.88 282.71h1.3v1.3h-1.3zM270.34 282.08h1.3v1.3h-1.3zM275.83 281.94h1.3v1.3h-1.3zM281.33 281.87h1.3v1.3h-1.3zM286.83 281.85h1.3v1.3h-1.3zM292.33 281.88h1.3v1.3h-1.3zM297.83 281.96h1.3v1.3h-1.3zM303.33 282.13h1.3v1.3h-1.3zM308.78 282.95h1.3v1.3h-1.3zM313.85 285.31h1.3v1.3h-1.3zM317.77 292.68h1.3v1.3h-1.3zM320.58 304.45h1.3v1.3h-1.3zM322.84 314.78h1.3v1.3h-1.3zM325.84 324.93h1.3v1.3h-1.3zM328.68 334.45h1.3v1.3h-1.3zM331.5 342.39h1.3v1.3h-1.3zM335.26 350.38h1.3v1.3h-1.3zM339.77 357.74h1.3v1.3h-1.3zM345.58 364.34h1.3v1.3h-1.3zM352.49 369.94h1.3v1.3h-1.3zM360.31 374.17h1.3v1.3h-1.3z" fill="#6fd13a"/>
<path d="M207.7 375.85h1.5v1.5h-1.5zM211.24 374.46h1.5v1.5h-1.5zM214.72 372.94h1.5v1.5h-1.5zM218.07 371.15h1.5v1.5h-1.5zM221.18 368.97h1.5v1.5h-1.5zM224.2 366.66h1.5v1.5h-1.5zM227.02 364.12h1.5v1.5h-1.5zM229.66 361.39h1.5v1.5h-1.5zM232.09 358.47h1.5v1.5h-1.5zM234.29 355.37h1.5v1.5h-1.5zM236.27 352.13h1.5v1.5h-1.5zM237.98 348.74h1.5v1.5h-1.5zM239.59 345.29h1.5v1.5h-1.5zM241.18 341.84h1.5v1.5h-1.5zM242.55 338.3h1.5v1.5h-1.5zM243.71 334.68h1.5v1.5h-1.5zM244.79 331.04h1.5v1.5h-1.5zM245.94 327.13h1.5v1.5h-1.5zM249.12 316.6h1.5v1.5h-1.5zM251.59 305.88h1.5v1.5h-1.5zM254 295.15h1.5v1.5h-1.5zM257.61 286.29h1.5v1.5h-1.5zM262.12 283.29h1.5v1.5h-1.5zM267.49 282.15h1.5v1.5h-1.5zM272.98 281.89h1.5v1.5h-1.5zM278.48 281.8h1.5v1.5h-1.5zM283.98 281.76h1.5v1.5h-1.5zM289.48 281.76h1.5v1.5h-1.5zM294.98 281.81h1.5v1.5h-1.5zM300.48 281.9h1.5v1.5h-1.5zM305.97 282.21h1.5v1.5h-1.5zM311.32 283.45h1.5v1.5h-1.5zM315.65 286.67h1.5v1.5h-1.5zM319.25 296.14h1.5v1.5h-1.5zM321.61 306.89h1.5v1.5h-1.5zM324.15 317.58h1.5v1.5h-1.5zM327.31 327.98h1.5v1.5h-1.5zM329.89 336.6h1.5v1.5h-1.5zM333.24 344.94h1.5v1.5h-1.5zM337.23 353.01h1.5v1.5h-1.5zM342.42 360.35h1.5v1.5h-1.5zM348.81 366.67h1.5v1.5h-1.5zM356.15 371.86h1.5v1.5h-1.5zM364.37 375.51h1.5v1.5h-1.5z" fill="#d455d4"/>
</g>
<path d="M205.55 396.7v-2.4M205.55 276.79v2.4M213.72 396.7v-1.4M213.72 276.79v1.4M221.89 396.7v-2.4M221.89 276.79v2.4M230.06 396.7v-1.4M230.06 276.79v1.4M238.23 396.7v-2.4M238.23 276.79v2.4M246.4 396.7v-1.4M246.4 276.79v1.4M254.57 396.7v-2.4M254.57 276.79v2.4M262.74 396.7v-1.4M262.74 276.79v1.4M270.91 396.7v-2.4M270.91 276.79v2.4M279.08 396.7v-1.4M279.08 276.79v1.4M287.25 396.7v-2.4M287.25 276.79v2.4M295.42 396.7v-1.4M295.42 276.79v1.4M303.59 396.7v-2.4M303.59 276.79v2.4M311.76 396.7v-1.4M311.76 276.79v1.4M319.93 396.7v-2.4M319.93 276.79v2.4M328.1 396.7v-1.4M328.1 276.79v1.4M336.27 396.7v-2.4M336.27 276.79v2.4M344.44 396.7v-1.4M344.44 276.79v1.4M352.61 396.7v-2.4M352.61 276.79v2.4M360.78 396.7v-1.4M360.78 276.79v1.4M368.95 396.7v-2.4M368.95 276.79v2.4M205.55 396.7h2.4M368.95 396.7h-2.4M205.55 390.99h1.4M368.95 390.99h-1.4M205.55 385.28h2.4M368.95 385.28h-2.4M205.55 379.57h1.4M368.95 379.57h-1.4M205.55 373.86h2.4M368.95 373.86h-2.4M205.55 368.15h1.4M368.95 368.15h-1.4M205.55 362.44h2.4M368.95 362.44h-2.4M205.55 356.73h1.4M368.95 356.73h-1.4M205.55 351.02h2.4M368.95 351.02h-2.4M205.55 345.31h1.4M368.95 345.31h-1.4M205.55 339.6h2.4M368.95 339.6h-2.4M205.55 333.89h1.4M368.95 333.89h-1.4M205.55 328.18h2.4M368.95 328.18h-2.4M205.55 322.47h1.4M368.95 322.47h-1.4M205.55 316.76h2.4M368.95 316.76h-2.4M205.55 311.05h1.4M368.95 311.05h-1.4M205.55 305.34h2.4M368.95 305.34h-2.4M205.55 299.63h1.4M368.95 299.63h-1.4M205.55 293.92h2.4M368.95 293.92h-2.4M205.55 288.21h1.4M368.95 288.21h-1.4M205.55 282.5h2.4M368.95 282.5h-2.4M205.55 276.79h1.4M368.95 276.79h-1.4" stroke="#3c3c3c" stroke-width="0.85" fill="none"/>
<rect x="205.55" y="276.79" width="163.4" height="119.91" fill="none" stroke="#3c3c3c" stroke-width="1"/>
<g font-size="5.1" text-anchor="middle" fill="#1a1a1a" stroke="#1a1a1a" stroke-width="0.3"><text x="205.55" y="403.8">80</text><text x="221.89" y="403.8">84</text><text x="238.23" y="403.8">88</text><text x="254.57" y="403.8">92</text><text x="270.91" y="403.8">96</text><text x="287.25" y="403.8">100</text><text x="303.59" y="403.8">104</text><text x="319.93" y="403.8">108</text><text x="336.27" y="403.8">112</text><text x="352.61" y="403.8">116</text><text x="368.95" y="403.8">120</text></g>
<g font-size="5.1" text-anchor="end" fill="#1a1a1a" stroke="#1a1a1a" stroke-width="0.3"><text x="202.85" y="398.5">0.0</text><text x="202.85" y="387.08">0.1</text><text x="202.85" y="375.66">0.2</text><text x="202.85" y="364.24">0.3</text><text x="202.85" y="352.82">0.4</text><text x="202.85" y="341.4">0.5</text><text x="202.85" y="329.98">0.6</text><text x="202.85" y="318.56">0.7</text><text x="202.85" y="307.14">0.8</text><text x="202.85" y="295.72">0.9</text><text x="202.85" y="284.3">1.0</text></g>
<text x="287.25" y="414.1" font-size="6.4" text-anchor="middle" fill="#111" stroke="#111" stroke-width="0.25">Y-position [mm]</text>
<text transform="translate(191.55 340.7) rotate(-90)" font-size="6.3" text-anchor="middle" fill="#111" stroke="#111" stroke-width="0.25">Relative dose [a.u.]</text>
<g font-size="5" fill="#111" stroke-width="0.25"><rect x="263.45" y="354.69" width="49" height="27" fill="#fff"/><path d="M265.45 359.29h12.7" stroke="#000" stroke-width="2.7"/><path d="M265.45 365.39h12" stroke="#f03c3c" stroke-width="1"/><rect x="271.35" y="370.74" width="1.5" height="1.5" fill="#6fcf3f"/><rect x="271.25" y="376.84" width="1.7" height="1.7" fill="#cc55cc"/><text x="278.85" y="361.09" stroke="#111">TMR10</text><text x="278.85" y="367.22" stroke="#111">Film</text><text x="278.85" y="373.35" stroke="#111">W2 scint.</text><text x="278.85" y="379.48" stroke="#111">Microdiamond</text></g>
<path d="M400.37 276.79V396.7M416.71 276.79V396.7M433.05 276.79V396.7M449.39 276.79V396.7M465.73 276.79V396.7M482.07 276.79V396.7M498.41 276.79V396.7M514.75 276.79V396.7M531.09 276.79V396.7M547.43 276.79V396.7M392.2 390.99H555.6M392.2 379.57H555.6M392.2 368.15H555.6M392.2 356.73H555.6M392.2 345.31H555.6M392.2 333.89H555.6M392.2 322.47H555.6M392.2 311.05H555.6M392.2 299.63H555.6M392.2 288.21H555.6" stroke="#f2f2f2" stroke-width="0.6" fill="none"/><path d="M408.54 276.79V396.7M424.88 276.79V396.7M441.22 276.79V396.7M457.56 276.79V396.7M473.9 276.79V396.7M490.24 276.79V396.7M506.58 276.79V396.7M522.92 276.79V396.7M539.26 276.79V396.7M392.2 385.28H555.6M392.2 373.86H555.6M392.2 362.44H555.6M392.2 351.02H555.6M392.2 339.6H555.6M392.2 328.18H555.6M392.2 316.76H555.6M392.2 305.34H555.6M392.2 293.92H555.6M392.2 282.5H555.6" stroke="#e8e8e8" stroke-width="0.8" fill="none"/>
<g clip-path="url(#k22)">
<polyline points="392.2,395.22 392.61,395.2 393.02,395.19 393.43,395.17 393.84,395.15 394.25,395.14 394.66,395.12 395.07,395.1 395.48,395.09 395.89,395.07 396.3,395.05 396.7,395.03 397.11,395.01 397.52,394.99 397.93,394.97 398.34,394.95 398.75,394.93 399.16,394.91 399.57,394.89 399.98,394.87 400.39,394.85 400.8,394.83 401.21,394.8 401.62,394.78 402.03,394.75 402.44,394.73 402.85,394.7 403.26,394.68 403.67,394.65 404.08,394.63 404.49,394.6 404.9,394.57 405.3,394.54 405.71,394.51 406.12,394.48 406.53,394.45 406.94,394.42 407.35,394.39 407.76,394.36 408.17,394.33 408.58,394.3 408.99,394.26 409.4,394.23 409.81,394.19 410.22,394.16 410.63,394.12 411.04,394.08 411.45,394.05 411.86,394.01 412.27,393.97 412.68,393.93 413.09,393.89 413.5,393.85 413.9,393.81 414.31,393.77 414.72,393.72 415.13,393.68 415.54,393.64 415.95,393.59 416.36,393.54 416.77,393.49 417.18,393.44 417.59,393.38 418,393.32 418.41,393.26 418.82,393.19 419.23,393.12 419.64,393.05 420.05,392.96 420.46,392.88 420.87,392.79 421.28,392.69 421.69,392.59 422.1,392.48 422.5,392.36 422.91,392.24 423.32,392.11 423.73,391.94 424.14,391.72 424.55,391.46 424.96,391.17 425.37,390.83 425.78,390.47 426.19,390.07 426.6,389.66 427.01,389.18 427.42,388.6 427.83,387.94 428.24,387.2 428.65,386.41 429.06,385.59 429.47,384.74 429.88,383.87 430.29,382.92 430.7,381.9 431.1,380.81 431.51,379.64 431.92,378.41 432.33,377.07 432.74,375.55 433.15,373.76 433.56,371.51 433.97,368.95 434.38,366.29 434.79,363.53 435.2,360.41 435.61,356.36 436.02,351.83 436.43,348.11 436.84,344.61 437.25,341.01 437.66,337.59 438.07,334.61 438.48,331.85 438.89,329.03 439.3,326.17 439.7,323.32 440.11,320.52 440.52,317.83 440.93,315.14 441.34,312.27 441.75,308.89 442.16,305.61 442.57,302.9 442.98,300.49 443.39,298.31 443.8,296.3 444.21,294.54 444.62,293.07 445.03,291.77 445.44,290.62 445.85,289.6 446.26,288.68 446.67,287.84 447.08,287.09 447.49,286.42 447.9,285.8 448.3,285.2 448.71,284.66 449.12,284.2 449.53,283.85 449.94,283.61 450.35,283.4 450.76,283.22 451.17,283.05 451.58,282.92 451.99,282.82 452.4,282.75 452.81,282.71 453.22,282.68 453.63,282.66 454.04,282.64 454.45,282.63 454.86,282.61 455.27,282.59 455.68,282.56 456.09,282.54 456.5,282.52 456.9,282.51 457.31,282.5 457.72,282.5 458.13,282.5 458.54,282.5 458.95,282.5 459.36,282.5 459.77,282.5 460.18,282.5 460.59,282.5 461,282.5 461.41,282.5 461.82,282.5 462.23,282.5 462.64,282.5 463.05,282.5 463.46,282.5 463.87,282.5 464.28,282.5 464.69,282.5 465.1,282.5 465.5,282.5 465.91,282.5 466.32,282.5 466.73,282.5 467.14,282.5 467.55,282.5 467.96,282.5 468.37,282.5 468.78,282.5 469.19,282.5 469.6,282.5 470.01,282.5 470.42,282.5 470.83,282.5 471.24,282.5 471.65,282.5 472.06,282.5 472.47,282.5 472.88,282.5 473.29,282.5 473.7,282.5 474.1,282.5 474.51,282.5 474.92,282.51 475.33,282.52 475.74,282.53 476.15,282.54 476.56,282.55 476.97,282.57 477.38,282.59 477.79,282.6 478.2,282.63 478.61,282.66 479.02,282.71 479.43,282.77 479.84,282.83 480.25,282.91 480.66,282.99 481.07,283.08 481.48,283.17 481.89,283.26 482.3,283.35 482.7,283.47 483.11,283.61 483.52,283.75 483.93,283.9 484.34,284.03 484.75,284.15 485.16,284.24 485.57,284.32 485.98,284.39 486.39,284.46 486.8,284.52 487.21,284.57 487.62,284.63 488.03,284.69 488.44,284.75 488.85,284.81 489.26,284.88 489.67,284.96 490.08,285.04 490.49,285.12 490.9,285.21 491.3,285.29 491.71,285.39 492.12,285.49 492.53,285.59 492.94,285.7 493.35,285.83 493.76,285.96 494.17,286.1 494.58,286.26 494.99,286.43 495.4,286.62 495.81,286.82 496.22,287.05 496.63,287.3 497.04,287.56 497.45,287.86 497.86,288.2 498.27,288.6 498.68,289.07 499.09,289.59 499.5,290.18 499.9,290.83 500.31,291.67 500.72,292.71 501.13,293.86 501.54,295.11 501.95,296.52 502.36,298.06 502.77,299.7 503.18,301.5 503.59,303.43 504,305.35 504.41,307.25 504.82,309.25 505.23,311.42 505.64,313.74 506.05,316.2 506.46,318.78 506.87,321.52 507.28,324.42 507.69,327.57 508.1,330.82 508.5,333.79 508.91,336.59 509.32,339.66 509.73,343.65 510.14,347.31 510.55,349.72 510.96,351.68 511.37,353.53 511.78,355.52 512.19,357.51 512.6,359.49 513.01,361.52 513.42,363.51 513.83,365.51 514.24,367.71 514.65,370.56 515.06,374.11 515.47,376.18 515.88,377.57 516.29,378.68 516.7,379.69 517.1,380.76 517.51,381.84 517.92,382.89 518.33,383.87 518.74,384.76 519.15,385.52 519.56,386.21 519.97,386.86 520.38,387.47 520.79,388.04 521.2,388.56 521.61,389.03 522.02,389.44 522.43,389.8 522.84,390.13 523.25,390.43 523.66,390.73 524.07,391 524.48,391.25 524.89,391.49 525.3,391.7 525.7,391.89 526.11,392.05 526.52,392.2 526.93,392.32 527.34,392.44 527.75,392.55 528.16,392.65 528.57,392.75 528.98,392.85 529.39,392.94 529.8,393.02 530.21,393.1 530.62,393.18 531.03,393.25 531.44,393.31 531.85,393.38 532.26,393.43 532.67,393.48 533.08,393.53 533.49,393.58 533.9,393.62 534.3,393.65 534.71,393.69 535.12,393.72 535.53,393.76 535.94,393.79 536.35,393.82 536.76,393.86 537.17,393.89 537.58,393.92 537.99,393.95 538.4,393.97 538.81,394 539.22,394.03 539.63,394.06 540.04,394.08 540.45,394.11 540.86,394.13 541.27,394.16 541.68,394.18 542.09,394.2 542.5,394.23 542.9,394.25 543.31,394.27 543.72,394.29 544.13,394.31 544.54,394.33 544.95,394.35 545.36,394.37 545.77,394.39 546.18,394.41 546.59,394.43 547,394.44 547.41,394.46 547.82,394.48 548.23,394.49 548.64,394.51 549.05,394.53 549.46,394.54 549.87,394.56 550.28,394.57 550.69,394.59 551.1,394.6 551.5,394.62 551.91,394.63 552.32,394.65 552.73,394.66 553.14,394.67 553.55,394.69 553.96,394.7 554.37,394.72 554.78,394.73 555.19,394.74 555.6,394.76" fill="none" stroke="#000" stroke-width="2.1" stroke-linejoin="round"/>
<polyline points="392.17,394.42 392.58,394.4 392.99,394.39 393.4,394.37 393.81,394.35 394.22,394.34 394.62,394.32 395.03,394.3 395.44,394.29 395.85,394.27 396.26,394.25 396.67,394.23 397.08,394.21 397.49,394.2 397.89,394.18 398.3,394.16 398.71,394.14 399.12,394.11 399.53,394.09 399.94,394.07 400.35,394.05 400.76,394.03 401.16,394 401.57,393.98 401.98,393.96 402.39,393.93 402.8,393.91 403.21,393.88 403.62,393.85 404.02,393.83 404.43,393.8 404.84,393.77 405.25,393.74 405.66,393.72 406.07,393.69 406.47,393.66 406.88,393.63 407.29,393.59 407.7,393.56 408.11,393.53 408.52,393.5 408.92,393.46 409.33,393.43 409.74,393.4 410.15,393.36 410.56,393.32 410.97,393.29 411.37,393.25 411.78,393.21 412.19,393.17 412.6,393.14 413.01,393.1 413.42,393.06 413.82,393.01 414.23,392.97 414.64,392.93 415.05,392.89 415.45,392.84 415.86,392.8 416.27,392.75 416.67,392.7 417.07,392.64 417.48,392.59 417.88,392.53 418.28,392.47 418.69,392.4 419.09,392.33 419.49,392.26 419.89,392.18 420.29,392.1 420.69,392.01 421.09,391.91 421.48,391.81 421.88,391.71 422.28,391.59 422.68,391.47 423.05,391.35 423.39,391.21 423.74,391.03 424.1,390.8 424.47,390.53 424.85,390.22 425.24,389.88 425.63,389.51 426.01,389.12 426.38,388.69 426.75,388.16 427.14,387.53 427.53,386.82 427.93,386.05 428.34,385.23 428.74,384.4 429.15,383.54 429.55,382.61 430.03,381.64 430.51,380.59 430.99,379.46 431.49,378.27 431.99,376.97 432.5,375.49 433.04,373.74 433.61,371.52 434.21,368.98 434.68,366.33 435.09,363.57 435.5,360.44 435.91,356.39 436.32,351.86 436.73,348.14 437.14,344.64 437.55,341.05 437.95,337.63 438.36,334.65 438.77,331.9 439.18,329.07 439.59,326.21 440,323.37 440.41,320.56 440.82,317.88 441.23,315.19 441.64,312.3 442.05,308.93 442.46,305.65 442.87,302.95 443.28,300.54 443.68,298.36 444.09,296.36 444.5,294.62 444.91,293.16 445.31,291.87 445.72,290.72 446.12,289.72 446.53,288.81 446.93,287.99 447.34,287.26 447.74,286.62 448.14,286.04 448.55,285.51 448.95,285.09 449.34,284.81 449.71,284.74 450.09,284.87 450.48,285.13 450.88,285.54 451.27,286.09 451.66,286.71 452.05,287.34 452.44,287.89 452.83,288.31 453.24,288.49 453.64,288.4 454.05,288.09 454.46,287.63 454.87,287.08 455.28,286.55 455.69,286.11 456.1,285.83 456.51,285.73 456.91,285.8 457.32,286.01 457.72,286.3 458.13,286.58 458.54,286.77 458.95,286.84 459.36,286.74 459.77,286.49 460.18,286.11 460.59,285.65 461,285.15 461.41,284.68 461.82,284.26 462.23,283.92 462.64,283.65 463.05,283.46 463.46,283.33 463.87,283.25 464.28,283.2 464.69,283.17 465.1,283.16 465.5,283.16 465.91,283.16 466.32,283.18 466.73,283.21 467.14,283.27 467.55,283.36 467.96,283.51 468.37,283.71 468.78,283.99 469.19,284.34 469.6,284.75 470.01,285.21 470.42,285.67 470.83,286.07 471.24,286.38 471.65,286.55 472.06,286.55 472.47,286.39 472.88,286.08 473.29,285.68 473.7,285.23 474.1,284.79 474.51,284.4 474.92,284.1 475.33,283.91 475.73,283.83 476.14,283.87 476.55,284.04 476.96,284.31 477.37,284.68 477.78,285.12 478.18,285.6 478.58,286.06 478.98,286.46 479.38,286.75 479.79,286.9 480.19,286.88 480.6,286.72 481,286.44 481.41,286.09 481.82,285.73 482.22,285.39 482.62,285.14 483.02,285 483.42,284.97 483.84,285.04 484.25,285.21 484.68,285.47 485.1,285.81 485.52,286.22 485.93,286.7 486.35,287.22 486.76,287.73 487.17,288.18 487.58,288.53 487.99,288.74 488.39,288.78 488.8,288.67 489.2,288.42 489.61,288.09 490.02,287.71 490.43,287.34 490.83,287.02 491.24,286.78 491.65,286.64 492.05,286.6 492.46,286.67 492.86,286.86 493.26,287.17 493.67,287.63 494.07,288.23 494.47,288.98 494.87,289.85 495.27,290.8 495.67,291.75 496.07,292.63 496.47,293.35 496.87,293.85 497.26,294.09 497.66,294.07 498.05,293.86 498.45,293.56 498.84,293.25 499.24,293.01 499.64,292.91 500.04,293.13 500.44,293.71 500.85,294.53 501.26,295.54 501.66,296.8 502.07,298.24 502.48,299.82 502.89,301.6 503.3,303.5 503.71,305.41 504.12,307.32 504.52,309.31 504.93,311.48 505.34,313.79 505.75,316.24 506.16,318.82 506.57,321.57 506.98,324.46 507.39,327.61 507.8,330.86 508.21,333.83 508.62,336.63 509.03,339.69 509.44,343.68 509.85,347.35 510.26,349.77 510.67,351.74 511.08,353.59 511.49,355.58 511.9,357.57 512.31,359.55 512.72,361.58 513.13,363.57 513.53,365.56 513.94,367.76 514.53,370.58 515.2,374.09 515.75,376.12 516.25,377.45 516.73,378.51 517.21,379.49 517.7,380.54 518.18,381.59 518.66,382.6 519.07,383.55 519.46,384.4 519.85,385.13 520.24,385.79 520.64,386.42 521.04,387.02 521.43,387.56 521.82,388.05 522.2,388.49 522.57,388.86 522.94,389.18 523.33,389.49 523.72,389.79 524.11,390.07 524.5,390.33 524.88,390.56 525.27,390.78 525.65,390.98 526.02,391.15 526.4,391.31 526.77,391.44 527.16,391.55 527.56,391.67 527.96,391.77 528.36,391.88 528.76,391.98 529.16,392.07 529.56,392.16 529.96,392.24 530.36,392.32 530.76,392.39 531.16,392.46 531.56,392.52 531.96,392.58 532.36,392.64 532.76,392.69 533.17,392.74 533.57,392.78 533.97,392.82 534.38,392.86 534.78,392.89 535.19,392.93 535.6,392.96 536.01,392.99 536.42,393.03 536.82,393.06 537.23,393.09 537.64,393.12 538.05,393.15 538.46,393.18 538.86,393.2 539.27,393.23 539.68,393.26 540.09,393.28 540.5,393.31 540.9,393.33 541.31,393.36 541.72,393.38 542.13,393.41 542.54,393.43 542.95,393.45 543.36,393.47 543.76,393.49 544.17,393.51 544.58,393.53 544.99,393.55 545.4,393.57 545.81,393.59 546.22,393.61 546.63,393.63 547.03,393.64 547.44,393.66 547.85,393.68 548.26,393.69 548.67,393.71 549.08,393.73 549.49,393.74 549.9,393.76 550.31,393.77 550.71,393.79 551.12,393.8 551.53,393.82 551.94,393.83 552.35,393.85 552.76,393.86 553.17,393.87 553.58,393.89 553.99,393.9 554.4,393.92 554.81,393.93 555.22,393.95 555.63,393.96" fill="none" stroke="#ee2a2a" stroke-width="0.9" stroke-linejoin="round"/>
<path d="M398.74 394.25h1.3v1.3h-1.3zM422.53 391.5h1.3v1.3h-1.3zM430.7 379.47h1.3v1.3h-1.3zM431.95 375.46h1.3v1.3h-1.3zM432.83 371.35h1.3v1.3h-1.3zM433.49 367.2h1.3v1.3h-1.3zM434.12 363.05h1.3v1.3h-1.3zM434.65 358.89h1.3v1.3h-1.3zM435.05 354.71h1.3v1.3h-1.3zM435.44 350.52h1.3v1.3h-1.3zM435.91 346.35h1.3v1.3h-1.3zM436.39 342.18h1.3v1.3h-1.3zM436.87 338.01h1.3v1.3h-1.3zM437.43 333.84h1.3v1.3h-1.3zM438.05 329.69h1.3v1.3h-1.3zM438.64 325.53h1.3v1.3h-1.3zM439.24 321.37h1.3v1.3h-1.3zM439.87 317.22h1.3v1.3h-1.3zM440.49 313.07h1.3v1.3h-1.3zM441.03 308.9h1.3v1.3h-1.3zM441.54 304.73h1.3v1.3h-1.3zM442.2 300.58h1.3v1.3h-1.3zM442.98 296.46h1.3v1.3h-1.3zM443.98 292.38h1.3v1.3h-1.3zM445.42 288.44h1.3v1.3h-1.3zM447.49 284.79h1.3v1.3h-1.3zM450.76 282.32h1.3v1.3h-1.3zM454.92 281.92h1.3v1.3h-1.3zM459.12 281.85h1.3v1.3h-1.3zM463.32 281.85h1.3v1.3h-1.3zM467.52 281.85h1.3v1.3h-1.3zM471.72 281.85h1.3v1.3h-1.3zM475.92 281.88h1.3v1.3h-1.3zM480.09 282.24h1.3v1.3h-1.3zM484.12 283.32h1.3v1.3h-1.3zM488.27 284.08h1.3v1.3h-1.3zM492.37 284.91h1.3v1.3h-1.3zM496.19 286.4h1.3v1.3h-1.3zM499.03 288.92h1.3v1.3h-1.3zM500.64 291.95h1.3v1.3h-1.3zM501.79 295.43h1.3v1.3h-1.3zM502.74 299.06h1.3v1.3h-1.3zM503.62 303.07h1.3v1.3h-1.3zM504.44 306.95h1.3v1.3h-1.3zM505.17 310.67h1.3v1.3h-1.3zM505.84 314.5h1.3v1.3h-1.3zM506.45 318.3h1.3v1.3h-1.3zM507 322.07h1.3v1.3h-1.3zM507.53 325.98h1.3v1.3h-1.3zM508.12 330.67h1.3v1.3h-1.3zM508.69 334.64h1.3v1.3h-1.3zM509.11 337.65h1.3v1.3h-1.3zM509.62 342.22h1.3v1.3h-1.3zM510.44 348.66h1.3v1.3h-1.3zM511.3 352.74h1.3v1.3h-1.3zM512.15 356.84h1.3v1.3h-1.3zM512.99 360.96h1.3v1.3h-1.3zM513.75 364.67h1.3v1.3h-1.3zM514.26 367.39h1.3v1.3h-1.3zM515.04 373.64h1.3v1.3h-1.3zM516.52 378.7h1.3v1.3h-1.3zM530.45 392.5h1.3v1.3h-1.3zM554.39 394.07h1.3v1.3h-1.3z" fill="#6fd13a"/>
<path d="M410.46 392.96h1.8v1.8h-1.8zM429.39 376.16h1.8v1.8h-1.8zM431.11 367.5h1.8v1.8h-1.8zM432.19 360.07h1.8v1.8h-1.8zM432.92 352.6h1.8v1.8h-1.8zM433.56 346.58h1.8v1.8h-1.8zM434.15 341.48h1.8v1.8h-1.8zM434.61 337.51h1.8v1.8h-1.8zM434.98 334.7h1.8v1.8h-1.8zM435.42 331.74h1.8v1.8h-1.8zM435.9 328.41h1.8v1.8h-1.8zM436.38 325.09h1.8v1.8h-1.8zM436.89 321.54h1.8v1.8h-1.8zM437.49 317.51h1.8v1.8h-1.8zM438.1 313.53h1.8v1.8h-1.8zM438.69 309.01h1.8v1.8h-1.8zM439.3 304.15h1.8v1.8h-1.8zM439.94 300.17h1.8v1.8h-1.8zM440.53 297.01h1.8v1.8h-1.8zM441.02 294.67h1.8v1.8h-1.8zM441.61 292.41h1.8v1.8h-1.8zM442.32 290.18h1.8v1.8h-1.8zM443.18 288.07h1.8v1.8h-1.8zM444.38 285.77h1.8v1.8h-1.8zM446.11 283.37h1.8v1.8h-1.8zM448.61 282.03h1.8v1.8h-1.8zM452.58 281.67h1.8v1.8h-1.8zM456.77 281.6h1.8v1.8h-1.8zM460.97 281.6h1.8v1.8h-1.8zM465.17 281.6h1.8v1.8h-1.8zM469.37 281.6h1.8v1.8h-1.8zM473.57 281.63h1.8v1.8h-1.8zM477.77 281.94h1.8v1.8h-1.8zM481.88 283.02h1.8v1.8h-1.8zM485.94 283.79h1.8v1.8h-1.8zM490.08 284.61h1.8v1.8h-1.8zM494.1 286.15h1.8v1.8h-1.8zM497.53 289.53h1.8v1.8h-1.8zM499.69 295.14h1.8v1.8h-1.8zM501 300.37h1.8v1.8h-1.8zM502.04 305.21h1.8v1.8h-1.8zM502.92 309.55h1.8v1.8h-1.8zM503.79 314.52h1.8v1.8h-1.8zM504.57 319.44h1.8v1.8h-1.8zM505.26 324.35h1.8v1.8h-1.8zM505.9 329.36h1.8v1.8h-1.8zM506.48 333.6h1.8v1.8h-1.8zM507.01 337.3h1.8v1.8h-1.8zM507.57 342.35h1.8v1.8h-1.8zM508.17 347.38h1.8v1.8h-1.8zM508.66 349.97h1.8v1.8h-1.8zM509.08 351.87h1.8v1.8h-1.8zM509.75 355.06h1.8v1.8h-1.8zM510.63 359.37h1.8v1.8h-1.8zM511.48 363.5h1.8v1.8h-1.8zM512.31 368.04h1.8v1.8h-1.8zM513.15 374.48h1.8v1.8h-1.8zM513.77 376.74h1.8v1.8h-1.8zM514.29 378.1h1.8v1.8h-1.8zM515.51 381.25h1.8v1.8h-1.8zM519.82 388.47h1.8v1.8h-1.8zM542.15 393.42h1.8v1.8h-1.8z" fill="#d455d4"/>
</g>
<path d="M392.2 396.7v-2.4M392.2 276.79v2.4M400.37 396.7v-1.4M400.37 276.79v1.4M408.54 396.7v-2.4M408.54 276.79v2.4M416.71 396.7v-1.4M416.71 276.79v1.4M424.88 396.7v-2.4M424.88 276.79v2.4M433.05 396.7v-1.4M433.05 276.79v1.4M441.22 396.7v-2.4M441.22 276.79v2.4M449.39 396.7v-1.4M449.39 276.79v1.4M457.56 396.7v-2.4M457.56 276.79v2.4M465.73 396.7v-1.4M465.73 276.79v1.4M473.9 396.7v-2.4M473.9 276.79v2.4M482.07 396.7v-1.4M482.07 276.79v1.4M490.24 396.7v-2.4M490.24 276.79v2.4M498.41 396.7v-1.4M498.41 276.79v1.4M506.58 396.7v-2.4M506.58 276.79v2.4M514.75 396.7v-1.4M514.75 276.79v1.4M522.92 396.7v-2.4M522.92 276.79v2.4M531.09 396.7v-1.4M531.09 276.79v1.4M539.26 396.7v-2.4M539.26 276.79v2.4M547.43 396.7v-1.4M547.43 276.79v1.4M555.6 396.7v-2.4M555.6 276.79v2.4M392.2 396.7h2.4M555.6 396.7h-2.4M392.2 390.99h1.4M555.6 390.99h-1.4M392.2 385.28h2.4M555.6 385.28h-2.4M392.2 379.57h1.4M555.6 379.57h-1.4M392.2 373.86h2.4M555.6 373.86h-2.4M392.2 368.15h1.4M555.6 368.15h-1.4M392.2 362.44h2.4M555.6 362.44h-2.4M392.2 356.73h1.4M555.6 356.73h-1.4M392.2 351.02h2.4M555.6 351.02h-2.4M392.2 345.31h1.4M555.6 345.31h-1.4M392.2 339.6h2.4M555.6 339.6h-2.4M392.2 333.89h1.4M555.6 333.89h-1.4M392.2 328.18h2.4M555.6 328.18h-2.4M392.2 322.47h1.4M555.6 322.47h-1.4M392.2 316.76h2.4M555.6 316.76h-2.4M392.2 311.05h1.4M555.6 311.05h-1.4M392.2 305.34h2.4M555.6 305.34h-2.4M392.2 299.63h1.4M555.6 299.63h-1.4M392.2 293.92h2.4M555.6 293.92h-2.4M392.2 288.21h1.4M555.6 288.21h-1.4M392.2 282.5h2.4M555.6 282.5h-2.4M392.2 276.79h1.4M555.6 276.79h-1.4" stroke="#3c3c3c" stroke-width="0.85" fill="none"/>
<rect x="392.2" y="276.79" width="163.4" height="119.91" fill="none" stroke="#3c3c3c" stroke-width="1"/>
<g font-size="5.1" text-anchor="middle" fill="#1a1a1a" stroke="#1a1a1a" stroke-width="0.3"><text x="392.2" y="403.8">80</text><text x="408.54" y="403.8">84</text><text x="424.88" y="403.8">88</text><text x="441.22" y="403.8">92</text><text x="457.56" y="403.8">96</text><text x="473.9" y="403.8">100</text><text x="490.24" y="403.8">104</text><text x="506.58" y="403.8">108</text><text x="522.92" y="403.8">112</text><text x="539.26" y="403.8">116</text><text x="555.6" y="403.8">120</text></g>
<g font-size="5.1" text-anchor="end" fill="#1a1a1a" stroke="#1a1a1a" stroke-width="0.3"><text x="389.5" y="398.5">0.0</text><text x="389.5" y="387.08">0.1</text><text x="389.5" y="375.66">0.2</text><text x="389.5" y="364.24">0.3</text><text x="389.5" y="352.82">0.4</text><text x="389.5" y="341.4">0.5</text><text x="389.5" y="329.98">0.6</text><text x="389.5" y="318.56">0.7</text><text x="389.5" y="307.14">0.8</text><text x="389.5" y="295.72">0.9</text><text x="389.5" y="284.3">1.0</text></g>
<text x="473.9" y="414.1" font-size="6.4" text-anchor="middle" fill="#111" stroke="#111" stroke-width="0.25">Z-position [mm]</text>
<text transform="translate(378.2 340.7) rotate(-90)" font-size="6.3" text-anchor="middle" fill="#111" stroke="#111" stroke-width="0.25">Relative dose [a.u.]</text>
<g font-size="5" fill="#111" stroke-width="0.25"><rect x="450.1" y="354.69" width="49" height="27" fill="#fff"/><path d="M452.1 359.29h12.7" stroke="#000" stroke-width="2.7"/><path d="M452.1 365.39h12" stroke="#f03c3c" stroke-width="1"/><rect x="458" y="370.74" width="1.5" height="1.5" fill="#6fcf3f"/><rect x="457.9" y="376.84" width="1.7" height="1.7" fill="#cc55cc"/><text x="465.5" y="361.09" stroke="#111">TMR10</text><text x="465.5" y="367.22" stroke="#111">Film</text><text x="465.5" y="373.35" stroke="#111">W2 scint.</text><text x="465.5" y="379.48" stroke="#111">Microdiamond</text></g>
</svg>
</body></html>
